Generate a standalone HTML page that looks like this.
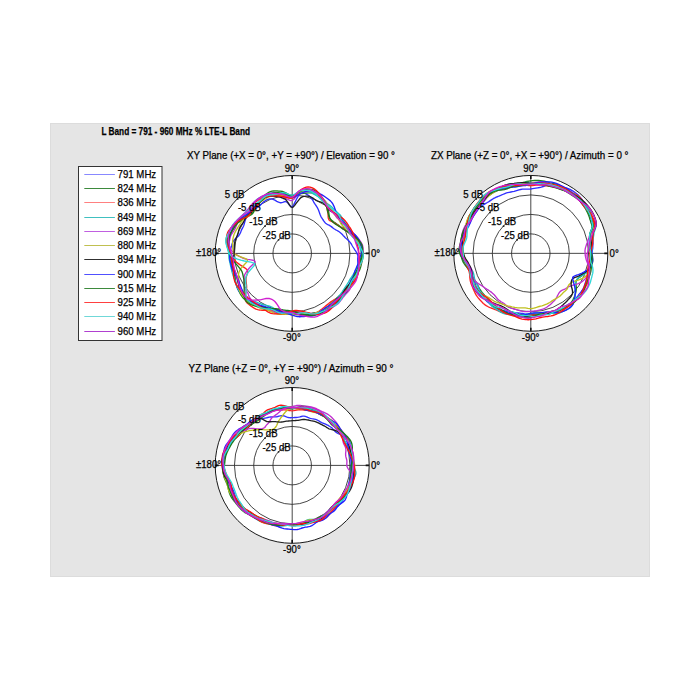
<!DOCTYPE html><html><head><meta charset="utf-8"><style>html,body{margin:0;padding:0;background:#fff;width:700px;height:700px;overflow:hidden;position:relative}</style></head><body><svg width="700" height="700" viewBox="0 0 700 700" style="position:absolute;left:0;top:0">
<rect x="50" y="123" width="600" height="454" fill="#e5e5e5"/>
<rect x="50.5" y="123.5" width="599" height="453" fill="none" stroke="#dcdcdc" stroke-width="1"/>
<text x="101.4" y="135.2" font-family='"Liberation Sans", Arial, sans-serif' font-weight="bold" font-size="10.0" textLength="148.6" lengthAdjust="spacingAndGlyphs" fill="#000" stroke="#000" stroke-width="0.25">L Band = 791 - 960 MHz % LTE-L Band</text>
<rect x="78.5" y="166.5" width="83.5" height="174" fill="#fff" stroke="#333" stroke-width="1"/>
<line x1="84.3" y1="174.50" x2="114.9" y2="174.50" stroke="#8888ff" stroke-width="1"/>
<text x="117.6" y="177.90" font-family='"Liberation Sans", Arial, sans-serif' font-size="10.6" textLength="38.6" lengthAdjust="spacingAndGlyphs" fill="#000" stroke="#000" stroke-width="0.25">791 MHz</text>
<line x1="84.3" y1="188.50" x2="114.9" y2="188.50" stroke="#3d8a3d" stroke-width="1"/>
<text x="117.6" y="192.15" font-family='"Liberation Sans", Arial, sans-serif' font-size="10.6" textLength="38.6" lengthAdjust="spacingAndGlyphs" fill="#000" stroke="#000" stroke-width="0.25">824 MHz</text>
<line x1="84.3" y1="202.50" x2="114.9" y2="202.50" stroke="#ff8080" stroke-width="1"/>
<text x="117.6" y="206.40" font-family='"Liberation Sans", Arial, sans-serif' font-size="10.6" textLength="38.6" lengthAdjust="spacingAndGlyphs" fill="#000" stroke="#000" stroke-width="0.25">836 MHz</text>
<line x1="84.3" y1="217.50" x2="114.9" y2="217.50" stroke="#40c0c0" stroke-width="1"/>
<text x="117.6" y="220.65" font-family='"Liberation Sans", Arial, sans-serif' font-size="10.6" textLength="38.6" lengthAdjust="spacingAndGlyphs" fill="#000" stroke="#000" stroke-width="0.25">849 MHz</text>
<line x1="84.3" y1="231.50" x2="114.9" y2="231.50" stroke="#c060e0" stroke-width="1"/>
<text x="117.6" y="234.90" font-family='"Liberation Sans", Arial, sans-serif' font-size="10.6" textLength="38.6" lengthAdjust="spacingAndGlyphs" fill="#000" stroke="#000" stroke-width="0.25">869 MHz</text>
<line x1="84.3" y1="245.50" x2="114.9" y2="245.50" stroke="#c0c050" stroke-width="1"/>
<text x="117.6" y="249.15" font-family='"Liberation Sans", Arial, sans-serif' font-size="10.6" textLength="38.6" lengthAdjust="spacingAndGlyphs" fill="#000" stroke="#000" stroke-width="0.25">880 MHz</text>
<line x1="84.3" y1="259.50" x2="114.9" y2="259.50" stroke="#303030" stroke-width="1"/>
<text x="117.6" y="263.40" font-family='"Liberation Sans", Arial, sans-serif' font-size="10.6" textLength="38.6" lengthAdjust="spacingAndGlyphs" fill="#000" stroke="#000" stroke-width="0.25">894 MHz</text>
<line x1="84.3" y1="274.50" x2="114.9" y2="274.50" stroke="#5050ff" stroke-width="1"/>
<text x="117.6" y="277.65" font-family='"Liberation Sans", Arial, sans-serif' font-size="10.6" textLength="38.6" lengthAdjust="spacingAndGlyphs" fill="#000" stroke="#000" stroke-width="0.25">900 MHz</text>
<line x1="84.3" y1="288.50" x2="114.9" y2="288.50" stroke="#3d8a3d" stroke-width="1"/>
<text x="117.6" y="291.90" font-family='"Liberation Sans", Arial, sans-serif' font-size="10.6" textLength="38.6" lengthAdjust="spacingAndGlyphs" fill="#000" stroke="#000" stroke-width="0.25">915 MHz</text>
<line x1="84.3" y1="302.50" x2="114.9" y2="302.50" stroke="#ff4040" stroke-width="1"/>
<text x="117.6" y="306.15" font-family='"Liberation Sans", Arial, sans-serif' font-size="10.6" textLength="38.6" lengthAdjust="spacingAndGlyphs" fill="#000" stroke="#000" stroke-width="0.25">925 MHz</text>
<line x1="84.3" y1="316.50" x2="114.9" y2="316.50" stroke="#70d8d8" stroke-width="1"/>
<text x="117.6" y="320.40" font-family='"Liberation Sans", Arial, sans-serif' font-size="10.6" textLength="38.6" lengthAdjust="spacingAndGlyphs" fill="#000" stroke="#000" stroke-width="0.25">940 MHz</text>
<line x1="84.3" y1="331.50" x2="114.9" y2="331.50" stroke="#b040d0" stroke-width="1"/>
<text x="117.6" y="334.65" font-family='"Liberation Sans", Arial, sans-serif' font-size="10.6" textLength="38.6" lengthAdjust="spacingAndGlyphs" fill="#000" stroke="#000" stroke-width="0.25">960 MHz</text>
<ellipse cx="292.2" cy="253.4" rx="77.0" ry="77.9" fill="#fff"/>
<ellipse cx="292.2" cy="253.4" rx="19.25" ry="19.48" fill="none" stroke="#262626" stroke-width="0.85"/>
<ellipse cx="292.2" cy="253.4" rx="38.50" ry="38.95" fill="none" stroke="#262626" stroke-width="0.85"/>
<ellipse cx="292.2" cy="253.4" rx="57.75" ry="58.43" fill="none" stroke="#262626" stroke-width="0.85"/>
<line x1="215.2" y1="253.4" x2="369.2" y2="253.4" stroke="#262626" stroke-width="0.85"/>
<line x1="292.2" y1="175.5" x2="292.2" y2="331.3" stroke="#262626" stroke-width="0.85"/>
<path d="M357.0,253.4 L356.1,251.7 L355.0,250.1 L354.0,248.5 L353.0,247.0 L352.1,245.5 L351.3,244.0 L350.3,242.6 L349.2,241.3 L347.9,240.0 L346.5,238.8 L345.3,237.7 L344.2,236.5 L343.1,235.4 L342.1,234.2 L341.0,233.2 L339.8,232.2 L338.5,231.3 L337.1,230.5 L335.7,229.8 L334.4,229.0 L333.3,228.2 L332.3,227.4 L331.3,226.6 L330.1,225.8 L329.0,225.2 L327.8,224.6 L326.7,224.0 L325.7,223.2 L324.9,222.4 L324.1,221.5 L323.5,220.5 L322.8,219.5 L322.1,218.4 L321.4,217.4 L320.8,216.2 L320.2,214.8 L319.7,213.4 L319.2,211.9 L318.6,210.3 L317.9,208.8 L317.2,207.4 L316.3,206.0 L315.4,204.7 L314.5,203.3 L313.6,201.8 L312.7,200.1 L311.6,198.5 L310.5,197.1 L309.2,195.9 L307.9,195.0 L306.4,194.1 L305.0,193.2 L303.4,192.7 L301.8,192.9 L300.0,193.9 L298.2,196.1 L296.5,199.2 L294.9,202.4 L293.5,205.1 L292.2,206.6 L291.0,206.5 L289.7,205.3 L288.3,203.5 L286.8,202.1 L285.4,201.5 L284.0,201.8 L282.7,202.3 L281.4,202.7 L280.0,202.7 L278.5,202.2 L276.8,201.3 L274.9,200.2 L273.1,199.4 L271.3,198.8 L269.6,198.9 L268.1,199.4 L266.7,199.9 L265.3,200.7 L264.0,201.6 L262.9,202.6 L261.7,203.7 L260.7,204.8 L259.5,205.9 L258.3,206.8 L257.0,207.6 L255.7,208.3 L254.4,209.1 L253.2,210.1 L252.1,211.1 L251.0,212.2 L250.0,213.4 L249.0,214.5 L247.9,215.6 L247.0,216.8 L246.1,218.1 L245.5,219.5 L245.0,221.0 L244.6,222.5 L244.2,224.0 L243.8,225.4 L243.2,226.8 L242.5,228.1 L241.8,229.4 L241.2,230.7 L240.7,232.1 L240.1,233.4 L239.4,234.7 L238.5,236.0 L237.3,237.1 L236.0,238.3 L234.6,239.6 L233.5,240.9 L232.7,242.4 L232.1,243.9 L231.7,245.4 L231.2,247.0 L230.8,248.6 L230.3,250.2 L230.0,251.8 L230.0,253.4 L230.3,255.0 L230.9,256.6 L231.5,258.2 L232.1,259.7 L232.4,261.3 L232.5,262.9 L232.6,264.5 L232.6,266.1 L232.9,267.6 L233.3,269.2 L233.8,270.7 L234.3,272.2 L234.6,273.8 L234.9,275.4 L235.0,277.1 L235.2,278.8 L235.4,280.5 L235.7,282.2 L236.1,283.9 L236.5,285.6 L237.0,287.2 L237.6,288.9 L238.4,290.4 L239.3,291.8 L240.4,293.1 L241.6,294.4 L242.8,295.6 L244.0,296.8 L245.0,298.2 L246.1,299.5 L247.2,300.8 L248.6,301.9 L250.1,302.7 L251.9,303.2 L253.7,303.5 L255.6,303.8 L257.3,304.2 L258.8,304.9 L260.2,305.6 L261.6,306.4 L263.1,307.1 L264.6,307.6 L266.1,308.0 L267.7,308.4 L269.3,308.8 L270.7,309.3 L272.1,310.0 L273.5,310.8 L274.9,311.7 L276.4,312.4 L277.9,312.9 L279.5,313.2 L281.1,313.3 L282.7,313.3 L284.3,313.3 L285.9,313.3 L287.5,313.4 L289.1,313.5 L290.6,313.6 L292.2,313.6 L293.8,313.6 L295.3,313.5 L296.9,313.3 L298.5,313.1 L300.0,312.9 L301.6,312.9 L303.2,312.9 L304.9,313.2 L306.6,313.6 L308.4,314.0 L310.2,314.3 L312.1,314.5 L313.8,314.5 L315.6,314.4 L317.3,314.0 L319.0,313.6 L320.7,313.1 L322.3,312.5 L324.0,311.9 L325.6,311.2 L327.2,310.5 L328.8,309.7 L330.3,308.8 L331.7,307.8 L333.1,306.8 L334.5,305.6 L335.7,304.4 L336.9,303.1 L338.1,301.7 L339.2,300.4 L340.4,299.1 L341.5,297.8 L342.6,296.4 L343.6,295.0 L344.5,293.5 L345.3,292.0 L346.1,290.4 L346.8,288.9 L347.6,287.3 L348.3,285.8 L349.0,284.3 L349.8,282.7 L350.4,281.2 L351.1,279.6 L351.9,278.1 L352.7,276.6 L353.7,275.2 L354.6,273.7 L355.8,272.2 L356.7,270.7 L357.4,269.0 L357.9,267.4 L358.2,265.6 L358.1,263.8 L357.8,262.0 L357.7,260.3 L357.7,258.6 L357.9,256.8 L357.8,255.1Z" fill="none" stroke="#3030ff" stroke-width="1.35" stroke-linejoin="round"/>
<path d="M363.3,253.4 L362.9,251.5 L362.2,249.7 L361.2,248.0 L360.1,246.3 L358.9,244.6 L357.8,243.0 L356.8,241.4 L355.8,239.9 L354.9,238.4 L353.9,236.9 L352.7,235.5 L351.3,234.2 L349.8,233.0 L348.1,231.9 L346.5,230.9 L344.8,230.0 L343.3,229.0 L342.0,228.0 L340.8,227.0 L339.5,226.1 L338.3,225.1 L337.1,224.2 L335.9,223.4 L334.7,222.5 L333.5,221.7 L332.4,220.9 L331.3,220.0 L330.4,219.0 L329.7,217.8 L329.3,216.3 L329.0,214.6 L328.8,212.7 L328.4,211.0 L328.1,209.1 L327.7,207.1 L327.3,205.1 L326.6,203.3 L325.6,202.0 L324.4,200.8 L323.2,199.8 L321.9,198.8 L320.5,197.8 L319.2,196.7 L317.9,195.7 L316.5,194.8 L315.0,193.9 L313.5,193.2 L311.9,192.9 L310.1,192.8 L308.4,192.9 L306.7,193.0 L305.0,193.2 L303.3,193.3 L301.7,193.5 L300.1,193.7 L298.4,194.2 L296.8,195.0 L295.2,195.9 L293.7,196.5 L292.2,196.5 L290.7,195.8 L289.1,194.9 L287.5,193.9 L285.8,192.9 L284.1,192.1 L282.4,191.5 L280.7,191.2 L278.9,191.1 L277.2,190.9 L275.5,190.9 L273.7,191.0 L272.0,191.2 L270.3,191.6 L268.8,192.3 L267.3,193.3 L265.9,194.4 L264.7,195.8 L263.6,197.2 L262.5,198.7 L261.4,200.1 L260.3,201.4 L259.2,202.6 L258.1,203.7 L257.0,204.9 L256.1,206.3 L255.3,207.9 L254.7,209.5 L254.1,211.1 L253.4,212.5 L252.5,213.7 L251.3,214.6 L250.0,215.4 L248.6,216.1 L247.1,216.9 L245.7,217.7 L244.3,218.6 L242.9,219.5 L241.5,220.5 L240.0,221.4 L238.4,222.3 L236.9,223.4 L235.6,224.6 L234.6,225.9 L233.8,227.4 L233.1,228.9 L232.3,230.4 L231.4,231.9 L230.4,233.3 L229.3,234.8 L228.4,236.3 L227.7,237.9 L227.4,239.6 L227.4,241.4 L227.7,243.2 L228.2,245.0 L228.6,246.7 L229.0,248.4 L229.4,250.1 L229.7,251.8 L230.0,253.4 L230.4,255.0 L230.6,256.6 L230.9,258.2 L231.0,259.8 L231.0,261.5 L231.0,263.1 L231.1,264.7 L231.4,266.3 L231.9,267.9 L232.5,269.4 L233.2,270.9 L233.8,272.4 L234.3,273.9 L234.7,275.5 L234.9,277.1 L235.1,278.8 L235.3,280.6 L235.6,282.3 L236.0,283.9 L236.6,285.5 L237.2,287.1 L237.9,288.6 L238.7,290.2 L239.4,291.8 L240.1,293.4 L240.9,294.9 L241.9,296.4 L243.0,297.7 L244.2,298.9 L245.7,299.9 L247.2,300.8 L248.8,301.7 L250.4,302.4 L252.0,303.1 L253.6,303.7 L255.2,304.3 L256.8,304.9 L258.4,305.5 L260.0,306.0 L261.5,306.5 L263.1,307.0 L264.6,307.5 L266.2,307.9 L267.8,308.3 L269.3,308.6 L270.9,308.9 L272.4,309.3 L273.9,309.8 L275.3,310.5 L276.7,311.3 L278.1,312.2 L279.5,313.0 L281.0,313.6 L282.6,313.9 L284.2,314.0 L285.8,313.8 L287.5,313.7 L289.0,313.6 L290.6,313.6 L292.2,313.8 L293.8,314.0 L295.4,314.3 L297.0,314.5 L298.6,314.6 L300.3,314.6 L301.9,314.6 L303.5,314.6 L305.2,314.5 L306.8,314.3 L308.4,314.0 L310.1,313.7 L311.7,313.4 L313.3,313.0 L315.0,312.7 L316.7,312.5 L318.4,312.1 L320.0,311.7 L321.6,311.0 L323.0,310.2 L324.4,309.2 L325.7,308.1 L327.0,307.0 L328.3,306.0 L329.6,304.9 L330.9,303.9 L332.1,302.7 L333.3,301.5 L334.4,300.3 L335.6,299.1 L336.8,298.0 L338.1,296.9 L339.4,295.9 L340.7,294.9 L342.0,293.7 L343.1,292.4 L344.0,291.0 L344.9,289.6 L345.8,288.2 L346.9,286.9 L348.1,285.7 L349.4,284.5 L350.7,283.2 L352.0,281.9 L353.1,280.5 L354.1,279.0 L355.1,277.5 L356.0,276.0 L357.0,274.5 L358.0,272.9 L358.9,271.3 L359.8,269.6 L360.4,267.9 L360.9,266.1 L361.3,264.3 L361.7,262.6 L362.2,260.8 L362.6,258.9 L363.0,257.1 L363.3,255.3Z" fill="none" stroke="#208020" stroke-width="1.35" stroke-linejoin="round"/>
<path d="M361.4,253.4 L361.3,251.6 L361.2,249.8 L361.1,248.0 L361.0,246.2 L360.8,244.4 L360.1,242.6 L359.0,241.0 L357.5,239.5 L355.6,238.2 L353.6,236.9 L352.0,235.7 L350.5,234.5 L349.2,233.2 L347.9,232.0 L346.6,230.9 L345.1,229.8 L343.7,228.9 L342.2,227.9 L340.7,227.0 L339.3,226.2 L338.0,225.3 L336.8,224.5 L335.5,223.6 L334.3,222.8 L332.9,222.1 L331.6,221.5 L330.3,220.9 L329.2,220.1 L328.5,219.0 L328.2,217.4 L328.1,215.5 L328.1,213.5 L327.7,211.8 L327.3,210.0 L326.9,208.2 L326.4,206.3 L325.8,204.5 L324.9,203.0 L324.0,201.5 L323.0,200.1 L321.9,198.7 L320.7,197.4 L319.5,196.2 L318.2,195.0 L316.8,193.9 L315.4,192.8 L313.9,192.0 L312.3,191.4 L310.7,191.0 L309.0,190.9 L307.2,190.9 L305.4,191.2 L303.7,191.6 L301.9,192.1 L300.2,192.7 L298.5,193.6 L296.8,194.9 L295.2,196.4 L293.7,197.7 L292.2,198.4 L290.8,198.4 L289.3,198.1 L287.8,197.5 L286.2,196.7 L284.6,195.8 L283.0,195.1 L281.3,194.7 L279.7,194.5 L278.0,194.3 L276.3,194.2 L274.6,194.1 L272.9,194.0 L271.2,194.0 L269.4,194.1 L267.7,194.3 L266.1,194.7 L264.5,195.3 L263.1,196.2 L261.7,197.2 L260.4,198.3 L259.1,199.4 L257.8,200.4 L256.4,201.4 L255.1,202.3 L253.9,203.5 L252.9,204.8 L251.9,206.3 L251.1,207.7 L250.2,209.1 L249.2,210.4 L248.0,211.5 L246.7,212.4 L245.3,213.4 L244.0,214.3 L242.7,215.4 L241.6,216.6 L240.6,217.9 L239.7,219.3 L238.8,220.7 L237.8,222.0 L236.7,223.3 L235.7,224.6 L234.6,225.9 L233.7,227.4 L232.9,228.8 L232.2,230.4 L231.6,231.9 L230.9,233.5 L230.4,235.1 L229.9,236.7 L229.5,238.3 L229.2,240.0 L229.1,241.7 L229.1,243.4 L229.1,245.1 L229.3,246.8 L229.4,248.5 L229.6,250.1 L229.9,251.8 L230.2,253.4 L230.9,255.0 L231.7,256.6 L232.8,258.1 L234.3,259.5 L235.3,260.9 L236.6,262.2 L238.1,263.4 L239.7,264.6 L241.3,265.6 L242.9,266.6 L244.4,267.6 L245.7,268.5 L246.8,269.5 L247.6,270.5 L247.7,271.8 L247.4,273.4 L246.8,275.0 L246.3,276.8 L246.0,278.5 L246.0,280.1 L246.1,281.6 L246.3,283.2 L246.5,284.8 L246.6,286.5 L246.6,288.4 L246.2,290.6 L245.7,293.1 L245.3,295.6 L245.1,298.1 L245.4,300.2 L246.2,301.9 L247.4,303.2 L248.7,304.3 L250.1,305.4 L251.5,306.4 L253.0,307.4 L254.5,308.3 L256.0,309.1 L257.7,309.7 L259.5,310.0 L261.4,310.2 L263.2,310.2 L265.1,310.3 L266.8,310.4 L268.5,310.6 L270.2,310.8 L271.8,310.9 L273.5,310.9 L275.2,310.9 L276.8,310.8 L278.4,310.9 L280.0,311.0 L281.5,311.2 L283.0,311.4 L284.5,311.6 L286.1,311.7 L287.6,311.8 L289.1,311.9 L290.7,312.0 L292.2,312.2 L293.8,312.7 L295.3,313.2 L296.9,313.7 L298.6,314.2 L300.2,314.5 L301.9,314.7 L303.5,314.6 L305.2,314.5 L306.9,314.4 L308.5,314.4 L310.2,314.3 L311.9,314.1 L313.6,313.8 L315.2,313.3 L316.7,312.7 L318.2,311.8 L319.6,310.8 L320.9,309.8 L322.3,308.8 L323.6,307.7 L324.8,306.7 L326.1,305.6 L327.4,304.6 L328.7,303.6 L329.9,302.6 L331.2,301.6 L332.6,300.7 L334.0,299.8 L335.5,299.0 L337.0,298.2 L338.5,297.3 L340.0,296.4 L341.5,295.5 L342.9,294.5 L344.3,293.4 L345.7,292.3 L347.0,291.1 L348.3,289.8 L349.5,288.5 L350.6,287.1 L351.6,285.7 L352.6,284.2 L353.5,282.6 L354.4,281.1 L355.4,279.6 L356.3,278.0 L357.1,276.4 L357.7,274.7 L358.2,272.9 L358.5,271.2 L358.6,269.4 L358.8,267.6 L359.1,265.8 L359.6,264.1 L360.2,262.4 L360.8,260.6 L361.3,258.8 L361.5,257.0 L361.6,255.2Z" fill="none" stroke="#ff2020" stroke-width="1.35" stroke-linejoin="round"/>
<path d="M361.3,253.4 L361.0,251.6 L360.5,249.8 L360.0,248.1 L359.6,246.3 L359.3,244.6 L358.9,242.8 L358.4,241.1 L357.6,239.5 L356.5,238.0 L355.2,236.5 L353.9,235.1 L352.7,233.7 L351.7,232.3 L350.9,230.9 L350.1,229.4 L349.3,228.0 L348.4,226.6 L347.4,225.3 L346.2,224.1 L345.2,222.8 L344.2,221.5 L343.4,220.2 L342.6,218.8 L341.8,217.4 L340.9,216.0 L339.9,214.8 L338.7,213.7 L337.5,212.6 L336.3,211.6 L335.1,210.5 L334.0,209.4 L332.9,208.2 L331.8,207.1 L330.6,206.0 L329.4,205.0 L328.0,204.1 L326.7,203.2 L325.4,202.3 L324.1,201.4 L322.9,200.3 L321.6,199.2 L320.4,198.1 L319.0,197.2 L317.6,196.3 L316.2,195.5 L314.8,194.6 L313.3,193.8 L311.8,193.0 L310.3,192.3 L308.7,191.8 L307.0,191.6 L305.3,191.8 L303.6,192.1 L301.8,192.6 L300.1,193.1 L298.5,193.8 L296.8,194.7 L295.2,195.8 L293.7,196.6 L292.2,197.0 L290.7,196.9 L289.2,196.7 L287.7,196.2 L286.1,195.6 L284.5,194.8 L282.8,194.1 L281.1,193.5 L279.4,193.1 L277.6,192.7 L275.9,192.6 L274.2,192.6 L272.5,192.9 L270.9,193.2 L269.3,193.7 L267.7,194.2 L266.1,194.7 L264.5,195.3 L262.9,196.0 L261.4,196.7 L259.9,197.5 L258.5,198.4 L257.1,199.4 L255.8,200.4 L254.5,201.6 L253.5,202.9 L252.5,204.4 L251.6,205.9 L250.8,207.4 L249.8,208.8 L248.8,210.0 L247.6,211.1 L246.3,212.1 L245.0,213.1 L243.7,214.2 L242.5,215.3 L241.4,216.5 L240.4,217.8 L239.3,219.1 L238.2,220.3 L236.9,221.5 L235.6,222.7 L234.2,223.9 L232.9,225.1 L231.8,226.5 L230.9,228.0 L230.1,229.6 L229.3,231.1 L228.6,232.7 L227.8,234.3 L227.1,236.0 L226.5,237.6 L226.1,239.3 L226.0,241.1 L226.1,242.9 L226.6,244.8 L227.1,246.6 L227.7,248.3 L228.1,250.0 L228.5,251.7 L228.7,253.4 L228.8,255.1 L228.9,256.7 L229.0,258.4 L229.3,260.0 L229.7,261.6 L230.0,263.2 L230.4,264.9 L230.8,266.5 L231.1,268.1 L231.5,269.7 L231.8,271.3 L232.3,272.9 L232.8,274.4 L233.3,276.0 L233.9,277.5 L234.5,279.1 L235.0,280.7 L235.5,282.3 L236.0,283.9 L236.6,285.5 L237.2,287.1 L237.9,288.6 L238.8,290.1 L239.8,291.5 L240.8,292.8 L241.9,294.1 L243.1,295.4 L244.3,296.5 L245.6,297.6 L247.0,298.6 L248.5,299.4 L250.1,300.1 L251.8,300.7 L253.5,301.2 L255.1,301.7 L256.7,302.2 L258.2,302.8 L259.7,303.4 L261.2,304.0 L262.7,304.5 L264.2,304.9 L265.8,305.2 L267.3,305.6 L268.8,306.0 L270.2,306.4 L271.6,307.0 L273.0,307.7 L274.3,308.5 L275.6,309.3 L277.0,310.0 L278.4,310.7 L279.9,311.3 L281.4,311.8 L282.9,312.2 L284.4,312.6 L285.9,312.9 L287.5,313.2 L289.1,313.4 L290.6,313.6 L292.2,313.8 L293.8,314.0 L295.4,314.2 L297.0,314.4 L298.6,314.5 L300.2,314.5 L301.9,314.4 L303.5,314.3 L305.1,314.2 L306.8,314.2 L308.5,314.1 L310.2,314.1 L311.9,314.1 L313.7,314.0 L315.4,313.7 L317.0,313.3 L318.6,312.7 L320.1,312.0 L321.7,311.2 L323.1,310.4 L324.6,309.5 L326.1,308.7 L327.5,307.8 L328.9,306.8 L330.2,305.7 L331.4,304.5 L332.5,303.2 L333.7,302.0 L334.8,300.7 L335.9,299.5 L337.0,298.2 L338.2,297.0 L339.3,295.8 L340.3,294.5 L341.3,293.1 L342.2,291.8 L343.1,290.4 L344.0,289.0 L344.9,287.6 L345.8,286.3 L346.8,284.9 L347.6,283.5 L348.5,282.1 L349.3,280.6 L350.1,279.2 L351.0,277.8 L352.0,276.4 L353.0,274.9 L354.0,273.5 L354.8,272.0 L355.6,270.4 L356.2,268.8 L356.8,267.1 L357.4,265.5 L358.1,263.8 L358.9,262.2 L359.8,260.5 L360.6,258.8 L361.2,257.0 L361.4,255.2Z" fill="none" stroke="#20c0c0" stroke-width="1.35" stroke-linejoin="round"/>
<path d="M362.8,253.4 L363.0,251.5 L363.1,249.7 L363.0,247.8 L362.7,246.0 L362.1,244.2 L361.2,242.5 L360.1,240.8 L358.9,239.2 L357.6,237.7 L356.3,236.2 L355.0,234.8 L353.6,233.4 L352.3,232.1 L350.9,230.9 L349.5,229.7 L348.1,228.5 L346.9,227.3 L345.8,226.1 L344.8,224.8 L343.8,223.6 L342.8,222.4 L341.6,221.3 L340.3,220.4 L338.9,219.4 L337.7,218.5 L336.6,217.4 L335.7,216.2 L334.9,214.9 L334.1,213.6 L333.3,212.3 L332.4,211.0 L331.5,209.8 L330.5,208.5 L329.5,207.3 L328.6,206.0 L327.7,204.6 L326.7,203.2 L325.7,201.8 L324.6,200.5 L323.5,199.2 L322.3,197.9 L321.1,196.6 L319.9,195.3 L318.6,194.1 L317.2,193.0 L315.7,192.1 L314.1,191.4 L312.4,191.1 L310.7,191.1 L308.9,191.2 L307.1,191.5 L305.3,191.8 L303.6,192.1 L301.8,192.6 L300.1,193.2 L298.4,194.3 L296.7,195.9 L295.1,197.8 L293.6,199.5 L292.2,200.4 L290.8,200.6 L289.4,200.2 L288.0,199.5 L286.4,198.7 L284.9,197.9 L283.3,197.3 L281.7,197.0 L280.2,196.8 L278.6,196.6 L276.9,196.3 L275.2,196.0 L273.5,195.8 L271.7,195.6 L270.0,195.5 L268.2,195.6 L266.5,195.8 L264.9,196.1 L263.3,196.6 L261.7,197.2 L260.2,198.0 L258.7,198.8 L257.3,199.7 L255.9,200.7 L254.6,201.7 L253.4,202.8 L252.2,204.0 L251.1,205.3 L250.0,206.6 L249.0,207.9 L248.0,209.2 L246.9,210.4 L245.8,211.7 L244.7,212.9 L243.6,214.0 L242.4,215.2 L241.2,216.4 L240.1,217.6 L239.2,219.0 L238.4,220.4 L237.7,221.9 L237.1,223.5 L236.6,225.1 L236.0,226.6 L235.4,228.1 L234.6,229.5 L233.7,231.0 L232.8,232.4 L231.8,233.8 L231.0,235.3 L230.3,236.8 L229.9,238.4 L229.6,240.1 L229.3,241.7 L229.2,243.4 L229.3,245.1 L229.7,246.8 L230.4,248.5 L231.3,250.2 L232.5,251.8 L234.4,253.4 L236.6,254.9 L238.9,256.2 L241.3,257.4 L244.0,258.5 L247.5,259.3 L251.0,259.9 L253.8,260.5 L255.1,261.3 L254.9,262.4 L253.6,263.7 L251.8,265.4 L250.1,267.1 L248.7,268.8 L247.2,270.7 L245.9,272.6 L244.8,274.5 L244.2,276.3 L244.1,277.9 L244.2,279.5 L244.2,281.1 L244.2,282.8 L244.2,284.6 L244.3,286.3 L244.8,287.8 L245.5,289.2 L246.3,290.6 L247.1,291.9 L248.0,293.2 L248.5,294.8 L249.1,296.5 L249.9,298.0 L250.9,299.3 L252.0,300.5 L253.3,301.4 L254.7,302.3 L256.1,303.0 L257.6,303.8 L258.9,304.7 L260.2,305.7 L261.5,306.7 L262.8,307.6 L264.2,308.4 L265.6,309.1 L267.1,309.7 L268.6,310.4 L270.1,311.0 L271.6,311.6 L273.1,312.2 L274.7,312.6 L276.2,313.0 L277.9,313.2 L279.5,313.2 L281.1,313.1 L282.8,313.0 L284.4,312.9 L286.0,312.8 L287.5,312.8 L289.1,312.9 L290.6,312.9 L292.2,312.9 L293.8,312.8 L295.3,312.7 L296.9,312.6 L298.4,312.4 L300.0,312.3 L301.5,312.2 L303.1,312.3 L304.8,312.5 L306.5,312.8 L308.2,313.1 L310.0,313.4 L311.7,313.5 L313.5,313.4 L315.1,313.2 L316.8,312.7 L318.4,312.1 L320.0,311.6 L321.6,311.1 L323.3,310.7 L325.0,310.2 L326.7,309.7 L328.4,309.2 L330.1,308.5 L331.7,307.7 L333.2,306.9 L334.8,306.0 L336.2,305.0 L337.7,303.9 L339.0,302.7 L340.1,301.3 L341.2,299.9 L342.3,298.5 L343.3,297.0 L344.4,295.7 L345.6,294.4 L346.8,293.1 L348.0,291.8 L349.2,290.4 L350.1,288.9 L350.9,287.3 L351.6,285.7 L352.3,284.0 L353.0,282.4 L353.7,280.8 L354.5,279.2 L355.3,277.6 L355.9,276.0 L356.6,274.3 L357.1,272.6 L357.7,270.9 L358.3,269.3 L359.1,267.6 L359.8,265.9 L360.6,264.2 L361.3,262.5 L361.8,260.7 L362.2,258.9 L362.4,257.1 L362.6,255.2Z" fill="none" stroke="#c030d0" stroke-width="1.35" stroke-linejoin="round"/>
<path d="M362.5,253.4 L362.2,251.6 L361.8,249.8 L361.3,248.0 L360.7,246.2 L359.9,244.5 L359.0,242.8 L357.9,241.2 L356.6,239.7 L355.1,238.3 L353.5,237.0 L352.1,235.7 L350.8,234.4 L349.8,233.0 L348.9,231.7 L347.9,230.3 L346.8,229.1 L345.5,228.0 L344.2,226.9 L342.9,225.9 L341.7,224.8 L340.9,223.6 L340.2,222.3 L339.5,220.9 L338.8,219.5 L338.0,218.2 L337.1,217.0 L336.1,215.9 L335.0,214.9 L334.0,213.7 L333.1,212.5 L332.2,211.2 L331.4,209.9 L330.5,208.5 L329.6,207.3 L328.6,206.0 L327.5,204.8 L326.5,203.5 L325.5,202.1 L324.5,200.6 L323.5,199.1 L322.4,197.7 L321.2,196.4 L319.9,195.2 L318.5,194.2 L317.1,193.3 L315.6,192.3 L314.1,191.5 L312.6,190.8 L310.9,190.3 L309.2,190.0 L307.4,190.1 L305.6,190.4 L303.8,190.8 L302.0,191.4 L300.3,192.0 L298.6,192.9 L296.9,194.2 L295.2,195.8 L293.7,197.2 L292.2,197.9 L290.8,198.1 L289.3,198.0 L287.8,197.7 L286.3,197.2 L284.7,196.6 L283.1,196.1 L281.5,195.7 L279.9,195.5 L278.3,195.4 L276.6,195.4 L275.0,195.4 L273.4,195.6 L271.8,195.9 L270.3,196.4 L268.9,197.0 L267.4,197.7 L266.0,198.5 L264.6,199.2 L263.2,200.1 L261.9,200.9 L260.6,201.9 L259.5,203.0 L258.3,204.1 L257.2,205.2 L256.1,206.4 L255.1,207.5 L254.0,208.7 L253.1,210.0 L252.2,211.3 L251.4,212.6 L250.5,213.9 L249.6,215.0 L248.5,216.1 L247.3,217.0 L245.9,217.9 L244.6,218.8 L243.3,219.8 L242.2,220.9 L241.2,222.2 L240.4,223.5 L239.6,224.8 L238.7,226.2 L237.9,227.5 L237.0,228.8 L236.2,230.2 L235.4,231.6 L234.7,233.0 L234.0,234.5 L233.6,236.0 L233.2,237.6 L232.9,239.2 L232.7,240.8 L232.6,242.4 L232.6,244.0 L232.6,245.6 L232.7,247.1 L232.8,248.7 L233.1,250.3 L233.5,251.9 L234.1,253.4 L236.2,254.9 L239.0,256.2 L242.1,257.3 L244.9,258.4 L246.8,259.4 L247.5,260.5 L246.9,261.8 L245.6,263.3 L244.0,265.0 L242.4,266.8 L240.8,268.6 L239.7,270.5 L239.0,272.2 L238.6,274.0 L238.5,275.7 L238.6,277.3 L238.8,278.9 L238.9,280.6 L238.9,282.3 L238.9,284.2 L238.9,286.1 L239.0,288.0 L239.4,289.7 L240.0,291.3 L240.7,292.9 L241.7,294.3 L242.7,295.7 L243.8,297.0 L244.9,298.3 L246.0,299.6 L247.1,300.9 L248.3,302.1 L249.7,303.2 L251.1,304.1 L252.7,304.9 L254.3,305.6 L255.8,306.3 L257.4,307.0 L258.9,307.7 L260.5,308.3 L262.1,308.8 L263.7,309.3 L265.4,309.6 L267.0,310.0 L268.5,310.5 L270.0,311.1 L271.5,311.8 L273.0,312.5 L274.5,313.2 L276.0,313.7 L277.6,314.1 L279.3,314.3 L280.9,314.4 L282.5,314.4 L284.2,314.4 L285.8,314.4 L287.4,314.4 L289.0,314.4 L290.6,314.5 L292.2,314.5 L293.8,314.6 L295.4,314.6 L297.0,314.5 L298.6,314.3 L300.2,314.0 L301.7,313.7 L303.3,313.4 L304.9,313.2 L306.6,313.3 L308.3,313.4 L310.0,313.6 L311.8,313.6 L313.5,313.5 L315.1,313.1 L316.7,312.6 L318.3,311.9 L319.8,311.3 L321.4,310.7 L323.0,310.1 L324.5,309.3 L325.9,308.5 L327.3,307.5 L328.6,306.4 L330.0,305.4 L331.3,304.4 L332.8,303.5 L334.3,302.7 L335.9,301.9 L337.3,301.0 L338.7,299.9 L340.0,298.7 L341.2,297.5 L342.3,296.2 L343.5,295.0 L344.8,293.7 L346.0,292.5 L347.3,291.2 L348.4,289.9 L349.5,288.5 L350.5,287.1 L351.5,285.6 L352.4,284.1 L353.4,282.6 L354.3,281.0 L355.1,279.5 L355.9,277.8 L356.5,276.2 L357.1,274.5 L357.6,272.8 L358.1,271.1 L358.6,269.3 L359.2,267.6 L359.8,265.9 L360.4,264.2 L361.0,262.5 L361.6,260.7 L362.1,258.9 L362.4,257.1 L362.5,255.2Z" fill="none" stroke="#c0c020" stroke-width="1.35" stroke-linejoin="round"/>
<path d="M362.4,253.4 L362.4,251.6 L362.2,249.7 L361.9,247.9 L361.4,246.1 L360.8,244.4 L360.1,242.6 L359.1,241.0 L357.9,239.4 L356.5,238.0 L355.0,236.6 L353.6,235.2 L352.2,233.9 L351.0,232.6 L350.0,231.2 L349.1,229.8 L348.3,228.4 L347.4,227.1 L346.4,225.8 L345.4,224.5 L344.3,223.3 L343.2,222.2 L342.0,221.1 L340.9,219.9 L339.8,218.8 L338.8,217.6 L337.9,216.4 L336.8,215.3 L335.7,214.2 L334.5,213.3 L333.1,212.5 L331.8,211.7 L330.4,210.9 L329.2,210.0 L328.2,208.9 L327.3,207.7 L326.4,206.3 L325.5,205.0 L324.4,203.9 L323.1,203.0 L321.7,202.3 L320.2,201.8 L318.7,201.4 L317.3,200.8 L315.9,200.1 L314.6,199.3 L313.3,198.4 L312.0,197.5 L310.6,196.8 L309.1,196.3 L307.6,196.1 L306.0,196.1 L304.3,196.3 L302.7,196.7 L301.0,197.6 L299.3,199.3 L297.7,201.3 L296.1,203.4 L294.7,205.4 L293.4,206.8 L292.2,207.5 L291.0,207.0 L289.7,205.3 L288.2,202.9 L286.6,200.6 L285.1,199.1 L283.5,198.5 L281.9,197.8 L280.3,197.2 L278.6,196.8 L276.9,196.5 L275.3,196.3 L273.6,196.2 L271.9,196.1 L270.2,196.2 L268.6,196.4 L267.0,196.8 L265.5,197.4 L264.1,198.2 L262.8,199.2 L261.6,200.4 L260.4,201.5 L259.3,202.7 L258.1,203.8 L257.0,204.9 L255.8,206.0 L254.7,207.1 L253.6,208.3 L252.6,209.4 L251.6,210.6 L250.5,211.7 L249.5,212.9 L248.4,214.0 L247.4,215.2 L246.5,216.4 L245.7,217.8 L245.0,219.1 L244.3,220.5 L243.6,221.8 L242.8,223.1 L241.9,224.3 L241.0,225.6 L240.2,226.9 L239.5,228.3 L239.0,229.7 L238.6,231.2 L238.2,232.7 L237.8,234.1 L237.2,235.5 L236.6,236.9 L236.0,238.3 L235.5,239.8 L235.0,241.2 L234.7,242.7 L234.4,244.3 L234.3,245.8 L234.3,247.3 L234.3,248.8 L234.2,250.4 L234.2,251.9 L234.1,253.4 L233.9,254.9 L233.6,256.5 L233.2,258.0 L232.8,259.6 L232.5,261.3 L232.3,262.9 L232.3,264.5 L232.6,266.1 L233.1,267.6 L233.7,269.1 L234.5,270.5 L235.2,271.9 L235.8,273.4 L236.3,274.9 L236.7,276.4 L237.0,278.0 L237.3,279.6 L237.7,281.2 L238.1,282.8 L238.5,284.4 L239.0,286.0 L239.6,287.6 L240.2,289.1 L240.9,290.7 L241.7,292.2 L242.5,293.6 L243.5,295.0 L244.5,296.4 L245.5,297.7 L246.7,298.9 L247.9,300.1 L249.2,301.2 L250.6,302.1 L252.1,302.9 L253.6,303.6 L255.3,304.2 L256.9,304.8 L258.5,305.4 L260.0,305.9 L261.6,306.4 L263.1,306.9 L264.7,307.4 L266.2,307.9 L267.8,308.2 L269.4,308.4 L271.0,308.6 L272.6,308.8 L274.1,309.1 L275.6,309.5 L277.0,310.0 L278.5,310.5 L279.9,311.1 L281.4,311.5 L283.0,311.8 L284.5,311.9 L286.0,312.0 L287.6,312.1 L289.1,312.3 L290.7,312.5 L292.2,312.9 L293.8,313.4 L295.4,313.8 L297.0,314.1 L298.6,314.4 L300.3,314.6 L301.9,314.7 L303.6,314.8 L305.3,314.9 L307.0,315.1 L308.8,315.2 L310.5,315.3 L312.3,315.2 L314.0,315.0 L315.7,314.7 L317.4,314.1 L318.9,313.5 L320.5,312.7 L322.0,311.9 L323.5,311.1 L325.1,310.3 L326.6,309.5 L328.1,308.7 L329.5,307.7 L330.9,306.6 L332.0,305.3 L333.1,303.9 L334.1,302.5 L335.1,301.1 L336.2,299.8 L337.4,298.6 L338.7,297.5 L340.0,296.4 L341.2,295.2 L342.3,293.9 L343.2,292.5 L344.1,291.1 L345.0,289.7 L346.0,288.3 L347.0,287.0 L348.2,285.7 L349.3,284.4 L350.3,283.0 L351.2,281.5 L352.0,280.0 L352.8,278.5 L353.6,277.0 L354.4,275.4 L355.4,273.9 L356.4,272.4 L357.2,270.8 L358.0,269.2 L358.6,267.5 L359.1,265.8 L359.7,264.1 L360.2,262.4 L360.8,260.6 L361.3,258.8 L361.8,257.0 L362.2,255.2Z" fill="none" stroke="#202020" stroke-width="1.35" stroke-linejoin="round"/>
<path d="M361.4,253.4 L361.9,251.6 L362.1,249.7 L362.0,247.9 L361.6,246.1 L360.9,244.4 L360.1,242.6 L359.3,241.0 L358.5,239.3 L357.5,237.7 L356.3,236.2 L355.0,234.8 L353.5,233.5 L351.9,232.3 L350.4,231.1 L349.0,229.9 L347.8,228.6 L346.8,227.4 L345.9,226.1 L345.0,224.7 L344.2,223.4 L343.3,222.1 L342.4,220.8 L341.5,219.5 L340.5,218.3 L339.5,217.1 L338.6,215.8 L337.7,214.5 L336.9,213.2 L336.1,211.7 L335.4,210.2 L334.8,208.5 L334.2,206.8 L333.4,205.1 L332.6,203.5 L331.5,202.1 L330.4,200.9 L329.0,199.8 L327.7,198.8 L326.3,197.8 L324.9,196.8 L323.5,195.8 L322.0,194.9 L320.5,194.1 L318.9,193.4 L317.3,192.7 L315.7,192.1 L314.1,191.5 L312.4,191.1 L310.7,190.8 L309.0,190.8 L307.2,191.1 L305.3,191.7 L303.5,192.4 L301.7,193.1 L300.1,193.7 L298.4,194.5 L296.8,195.5 L295.2,196.5 L293.7,197.4 L292.2,197.7 L290.7,197.4 L289.2,196.8 L287.7,196.0 L286.1,195.0 L284.4,194.1 L282.7,193.3 L281.0,193.0 L279.3,192.9 L277.7,193.0 L276.0,193.1 L274.4,193.2 L272.7,193.3 L271.0,193.5 L269.3,193.9 L267.8,194.4 L266.3,195.3 L265.0,196.4 L263.8,197.6 L262.6,198.9 L261.4,200.1 L260.2,201.2 L259.0,202.2 L257.7,203.2 L256.5,204.2 L255.3,205.4 L254.3,206.6 L253.3,207.9 L252.3,209.1 L251.3,210.3 L250.2,211.4 L249.0,212.4 L247.8,213.4 L246.6,214.4 L245.3,215.4 L244.0,216.4 L242.6,217.4 L241.3,218.4 L239.9,219.5 L238.6,220.5 L237.3,221.7 L236.1,222.9 L235.0,224.3 L234.0,225.6 L233.1,227.1 L232.4,228.6 L231.8,230.2 L231.2,231.8 L230.7,233.4 L230.2,235.0 L229.6,236.6 L229.1,238.3 L228.6,239.9 L228.2,241.5 L228.1,243.3 L228.3,245.0 L228.6,246.7 L229.0,248.4 L229.5,250.1 L229.7,251.8 L229.8,253.4 L229.8,255.0 L229.7,256.7 L229.8,258.3 L229.9,259.9 L230.2,261.6 L230.6,263.2 L231.0,264.7 L231.4,266.3 L231.8,267.9 L232.3,269.4 L233.0,270.9 L233.7,272.4 L234.7,273.8 L235.6,275.1 L236.6,276.4 L237.4,277.8 L238.1,279.2 L238.7,280.7 L239.2,282.2 L239.6,283.7 L240.2,285.3 L240.8,286.8 L241.4,288.3 L242.1,289.8 L242.8,291.3 L243.5,292.8 L244.4,294.2 L245.4,295.6 L246.4,296.8 L247.6,298.0 L248.8,299.1 L250.1,300.2 L251.3,301.3 L252.6,302.3 L254.0,303.2 L255.4,304.0 L257.0,304.7 L258.6,305.1 L260.3,305.5 L261.9,305.8 L263.5,306.2 L265.1,306.6 L266.6,307.1 L268.1,307.6 L269.6,308.0 L271.1,308.4 L272.6,308.7 L274.1,309.1 L275.6,309.5 L277.0,310.0 L278.5,310.6 L279.9,311.3 L281.4,311.9 L282.8,312.5 L284.4,312.9 L285.9,313.3 L287.5,313.6 L289.0,314.0 L290.6,314.5 L292.2,315.1 L293.8,315.6 L295.5,316.1 L297.2,316.5 L298.9,316.7 L300.5,316.7 L302.2,316.6 L303.9,316.5 L305.6,316.4 L307.3,316.3 L309.0,316.2 L310.8,316.1 L312.5,315.8 L314.1,315.3 L315.7,314.6 L317.2,313.8 L318.6,312.8 L320.0,311.8 L321.4,310.8 L322.8,309.8 L324.2,308.9 L325.6,307.9 L327.0,307.0 L328.5,306.1 L329.8,305.2 L331.2,304.3 L332.6,303.3 L333.9,302.2 L335.2,301.2 L336.6,300.1 L337.9,299.1 L339.3,298.1 L340.7,297.0 L342.1,296.0 L343.5,295.0 L344.8,293.8 L346.0,292.5 L347.0,291.1 L347.9,289.5 L348.6,288.0 L349.3,286.4 L350.0,284.8 L350.8,283.3 L351.6,281.7 L352.3,280.1 L352.8,278.5 L353.3,276.8 L353.7,275.2 L354.1,273.5 L354.6,271.9 L355.2,270.3 L356.0,268.7 L356.7,267.1 L357.4,265.5 L358.0,263.8 L358.5,262.1 L358.9,260.4 L359.4,258.7 L360.0,257.0 L360.7,255.2Z" fill="none" stroke="#2020ff" stroke-width="1.35" stroke-linejoin="round"/>
<path d="M362.3,253.4 L362.5,251.6 L362.6,249.7 L362.5,247.9 L362.2,246.0 L361.6,244.3 L360.6,242.6 L359.3,241.0 L357.8,239.5 L356.1,238.1 L354.3,236.8 L352.7,235.5 L351.1,234.3 L349.5,233.1 L347.9,232.0 L346.3,231.0 L344.8,230.0 L343.2,229.1 L341.8,228.1 L340.5,227.2 L339.1,226.3 L337.7,225.5 L336.4,224.7 L335.2,223.9 L334.0,223.0 L332.9,222.1 L332.0,221.2 L331.1,220.2 L330.3,219.1 L329.6,218.0 L329.0,216.6 L328.6,215.1 L328.2,213.4 L327.7,211.8 L327.4,210.0 L327.0,208.1 L326.6,206.1 L326.0,204.2 L325.1,202.7 L324.2,201.1 L323.2,199.7 L322.2,198.1 L321.2,196.6 L320.0,195.1 L318.8,193.6 L317.5,192.3 L316.1,191.1 L314.5,190.3 L312.9,189.7 L311.2,189.3 L309.4,189.1 L307.6,189.2 L305.8,189.6 L303.9,190.2 L302.1,190.9 L300.3,191.6 L298.6,192.4 L296.9,193.5 L295.3,194.6 L293.7,195.5 L292.2,195.8 L290.7,195.6 L289.2,195.2 L287.6,194.7 L286.0,194.0 L284.3,193.4 L282.6,192.9 L280.9,192.5 L279.2,192.4 L277.5,192.4 L275.9,192.5 L274.2,192.8 L272.7,193.2 L271.1,193.8 L269.6,194.5 L268.1,195.3 L266.7,196.2 L265.4,197.1 L264.0,198.1 L262.8,199.3 L261.6,200.4 L260.5,201.6 L259.4,202.8 L258.2,204.0 L257.2,205.2 L256.2,206.4 L255.2,207.7 L254.3,209.1 L253.4,210.4 L252.5,211.6 L251.5,212.7 L250.4,213.8 L249.2,214.7 L247.9,215.5 L246.5,216.4 L245.0,217.2 L243.6,218.1 L242.2,219.0 L240.8,220.0 L239.6,221.1 L238.3,222.3 L237.2,223.5 L236.2,224.8 L235.1,226.2 L234.2,227.6 L233.2,229.0 L232.2,230.4 L231.3,231.8 L230.5,233.4 L229.9,234.9 L229.4,236.6 L229.1,238.2 L228.9,239.9 L228.7,241.6 L228.6,243.3 L228.5,245.0 L228.5,246.7 L228.6,248.4 L228.9,250.1 L229.3,251.8 L229.9,253.4 L230.5,255.0 L231.2,256.6 L231.9,258.1 L232.8,259.6 L233.8,261.1 L234.8,262.5 L235.9,263.8 L237.1,265.1 L238.2,266.4 L239.2,267.6 L240.2,268.8 L241.1,270.0 L241.8,271.3 L242.3,272.6 L242.7,273.9 L243.0,275.3 L243.3,276.7 L243.6,278.2 L243.9,279.6 L244.0,281.2 L244.1,282.9 L244.1,284.7 L244.1,286.5 L244.2,288.3 L244.2,290.3 L244.1,292.3 L244.1,294.5 L244.2,296.6 L244.7,298.5 L245.4,300.2 L246.5,301.5 L247.8,302.7 L249.3,303.7 L250.8,304.5 L252.5,305.2 L254.2,305.7 L255.9,306.2 L257.6,306.6 L259.3,307.0 L261.1,307.3 L262.8,307.6 L264.4,307.9 L266.1,308.1 L267.7,308.4 L269.4,308.6 L271.0,308.7 L272.6,308.7 L274.2,308.7 L275.8,308.7 L277.3,308.8 L278.8,309.0 L280.3,309.3 L281.8,309.6 L283.3,309.9 L284.7,310.1 L286.2,310.3 L287.7,310.5 L289.2,310.7 L290.7,310.9 L292.2,311.2 L293.7,311.6 L295.3,312.1 L296.9,312.6 L298.5,313.1 L300.1,313.6 L301.8,314.0 L303.5,314.4 L305.2,314.8 L307.0,315.0 L308.8,315.2 L310.5,315.3 L312.3,315.3 L314.1,315.2 L315.8,314.9 L317.5,314.5 L319.2,313.9 L320.7,313.2 L322.3,312.4 L323.8,311.5 L325.2,310.6 L326.7,309.7 L328.2,308.8 L329.6,307.9 L331.1,306.9 L332.5,305.9 L333.8,304.8 L335.1,303.7 L336.4,302.5 L337.6,301.2 L338.7,299.9 L339.9,298.7 L341.1,297.5 L342.3,296.2 L343.5,294.9 L344.6,293.6 L345.8,292.3 L346.9,291.0 L347.9,289.6 L348.9,288.1 L349.7,286.6 L350.5,285.0 L351.1,283.4 L351.7,281.8 L352.3,280.1 L352.9,278.5 L353.6,277.0 L354.4,275.4 L355.2,273.9 L356.1,272.3 L357.0,270.7 L357.7,269.1 L358.3,267.5 L358.9,265.8 L359.4,264.1 L360.0,262.3 L360.6,260.6 L361.1,258.8 L361.6,257.0 L362.0,255.2Z" fill="none" stroke="#1a7a1a" stroke-width="1.35" stroke-linejoin="round"/>
<path d="M358.8,253.4 L358.7,251.7 L358.5,249.9 L358.2,248.2 L357.8,246.5 L357.3,244.8 L356.7,243.2 L356.1,241.6 L355.5,240.0 L354.9,238.4 L354.3,236.8 L353.7,235.2 L353.1,233.6 L352.5,232.1 L351.7,230.5 L350.9,229.1 L350.0,227.7 L349.0,226.3 L348.1,224.9 L347.2,223.5 L346.2,222.2 L345.3,220.9 L344.1,219.7 L342.9,218.6 L341.5,217.6 L340.1,216.7 L338.6,215.8 L337.2,214.9 L335.9,214.1 L334.6,213.1 L333.4,212.2 L332.2,211.3 L331.0,210.3 L329.9,209.3 L328.8,208.2 L327.7,207.1 L326.7,205.9 L325.8,204.5 L324.9,203.1 L324.0,201.5 L323.1,199.8 L322.2,198.1 L321.2,196.4 L320.2,194.8 L319.0,193.3 L317.7,191.9 L316.3,190.6 L314.9,189.4 L313.3,188.4 L311.7,187.6 L310.0,187.1 L308.1,187.0 L306.3,187.2 L304.3,187.9 L302.4,188.8 L300.5,190.0 L298.7,191.5 L296.9,193.3 L295.2,195.2 L293.7,196.8 L292.2,197.8 L290.8,198.0 L289.3,198.0 L287.8,197.7 L286.3,197.4 L284.8,197.0 L283.2,196.6 L281.6,196.4 L280.0,196.2 L278.4,196.0 L276.8,195.8 L275.1,195.7 L273.4,195.7 L271.8,195.8 L270.1,196.0 L268.5,196.2 L266.9,196.5 L265.3,197.0 L263.8,197.6 L262.4,198.5 L261.1,199.6 L260.0,200.9 L259.0,202.4 L258.1,203.8 L257.1,205.1 L256.1,206.4 L255.1,207.6 L254.0,208.7 L253.0,209.8 L252.0,211.0 L251.1,212.3 L250.2,213.6 L249.3,214.8 L248.3,215.9 L247.0,216.8 L245.5,217.6 L243.8,218.2 L242.1,218.9 L240.4,219.8 L238.8,220.7 L237.4,221.8 L236.1,222.9 L234.8,224.2 L233.5,225.4 L232.2,226.7 L230.9,228.0 L229.7,229.4 L228.6,230.9 L227.7,232.4 L227.1,234.1 L226.7,235.8 L226.5,237.6 L226.5,239.4 L226.6,241.2 L226.8,243.0 L227.3,244.9 L227.9,246.6 L228.6,248.4 L229.4,250.1 L230.2,251.8 L230.7,253.4 L231.1,255.0 L231.4,256.6 L231.5,258.2 L231.7,259.8 L231.9,261.3 L232.2,262.9 L232.5,264.5 L232.8,266.0 L233.1,267.6 L233.3,269.2 L233.4,270.8 L233.5,272.5 L233.5,274.2 L233.6,275.9 L233.8,277.6 L234.2,279.2 L234.6,280.9 L235.2,282.4 L236.0,283.9 L236.8,285.4 L237.7,286.8 L238.7,288.1 L239.8,289.4 L240.9,290.7 L242.0,291.9 L243.2,293.1 L244.3,294.3 L245.5,295.5 L246.7,296.6 L247.9,297.7 L249.2,298.7 L250.5,299.8 L251.7,300.8 L253.0,301.8 L254.3,302.7 L255.7,303.7 L257.0,304.6 L258.4,305.5 L259.8,306.3 L261.2,307.2 L262.5,308.0 L263.9,309.0 L265.2,310.0 L266.5,311.0 L267.9,312.0 L269.4,312.7 L271.0,313.3 L272.6,313.6 L274.3,313.8 L276.0,313.8 L277.7,313.8 L279.4,313.8 L281.0,313.8 L282.6,313.7 L284.3,313.5 L285.9,313.2 L287.5,312.7 L289.1,312.2 L290.7,311.6 L292.2,311.1 L293.7,310.7 L295.2,310.5 L296.7,310.5 L298.2,310.6 L299.8,310.9 L301.3,311.2 L303.0,311.5 L304.6,311.9 L306.3,312.3 L308.1,312.7 L309.9,313.2 L311.8,313.6 L313.7,314.0 L315.6,314.2 L317.4,314.3 L319.3,314.3 L321.1,314.1 L322.9,313.7 L324.6,313.1 L326.3,312.4 L327.8,311.5 L329.2,310.4 L330.5,309.2 L331.8,307.9 L332.9,306.4 L334.0,305.0 L335.0,303.5 L336.0,302.1 L337.1,300.7 L338.2,299.4 L339.3,298.1 L340.5,296.9 L341.6,295.6 L342.8,294.4 L343.9,293.1 L345.0,291.8 L346.1,290.4 L347.2,289.1 L348.3,287.8 L349.4,286.4 L350.7,285.1 L352.0,283.9 L353.3,282.5 L354.5,281.1 L355.5,279.6 L356.4,278.0 L357.1,276.4 L357.6,274.7 L358.1,272.9 L358.4,271.1 L358.8,269.4 L359.1,267.6 L359.3,265.8 L359.4,264.0 L359.4,262.3 L359.4,260.5 L359.2,258.7 L359.1,256.9 L358.9,255.1Z" fill="none" stroke="#ff1010" stroke-width="1.35" stroke-linejoin="round"/>
<path d="M363.0,253.4 L362.4,251.6 L361.6,249.8 L360.7,248.0 L359.8,246.3 L358.8,244.6 L357.7,243.0 L356.6,241.5 L355.4,240.0 L354.1,238.5 L352.8,237.2 L351.6,235.8 L350.5,234.4 L349.6,233.1 L348.9,231.6 L348.1,230.2 L347.3,228.9 L346.4,227.6 L345.4,226.3 L344.3,225.1 L343.3,223.9 L342.5,222.6 L341.7,221.2 L341.0,219.8 L340.4,218.4 L339.8,216.9 L339.0,215.5 L338.1,214.2 L337.1,213.0 L335.9,212.0 L334.6,211.0 L333.3,210.1 L332.1,209.1 L330.9,208.1 L329.7,207.0 L328.6,206.0 L327.4,205.0 L326.1,204.1 L324.8,203.1 L323.6,202.2 L322.4,201.1 L321.2,199.9 L320.1,198.7 L318.9,197.4 L317.7,196.1 L316.5,194.8 L315.1,193.6 L313.7,192.6 L312.2,191.7 L310.7,191.0 L309.0,190.5 L307.4,190.3 L305.6,190.2 L303.9,190.3 L302.2,190.5 L300.4,190.9 L298.7,191.5 L297.0,192.6 L295.3,193.8 L293.7,194.7 L292.2,195.1 L290.7,194.9 L289.1,194.4 L287.5,193.8 L285.9,193.2 L284.2,192.8 L282.6,192.6 L281.0,192.9 L279.5,193.4 L277.9,193.9 L276.4,194.3 L274.8,194.6 L273.1,194.8 L271.5,194.8 L269.8,195.0 L268.1,195.3 L266.6,195.8 L265.1,196.6 L263.8,197.6 L262.5,198.8 L261.3,199.9 L260.1,200.9 L258.7,201.9 L257.4,202.7 L256.0,203.5 L254.7,204.5 L253.4,205.5 L252.3,206.7 L251.2,207.9 L250.2,209.1 L249.0,210.2 L247.8,211.3 L246.5,212.3 L245.2,213.2 L243.8,214.2 L242.4,215.2 L241.1,216.3 L239.9,217.4 L238.7,218.6 L237.4,219.8 L236.2,221.0 L234.9,222.3 L233.8,223.6 L232.8,225.0 L231.8,226.5 L231.1,228.1 L230.3,229.6 L229.5,231.2 L228.7,232.8 L227.8,234.3 L227.0,235.9 L226.4,237.6 L226.0,239.3 L225.9,241.1 L226.1,242.9 L226.4,244.7 L226.8,246.5 L227.4,248.3 L228.0,250.0 L228.6,251.7 L229.3,253.4 L230.6,255.0 L232.0,256.6 L234.6,257.9 L237.5,259.1 L240.8,260.2 L244.3,261.0 L247.8,261.6 L250.8,262.2 L253.1,262.8 L254.5,263.5 L254.8,264.5 L254.0,265.8 L252.6,267.4 L250.9,269.3 L249.2,271.2 L247.7,273.2 L246.7,275.1 L246.0,277.0 L245.7,278.7 L245.6,280.3 L245.6,282.0 L245.8,283.6 L246.0,285.2 L245.9,287.0 L246.2,288.7 L246.1,290.7 L246.0,292.9 L246.0,295.0 L246.2,297.1 L246.8,298.8 L247.8,300.2 L249.0,301.3 L250.4,302.3 L251.9,303.2 L253.4,304.0 L254.9,304.8 L256.4,305.5 L257.8,306.3 L259.3,307.1 L260.9,307.7 L262.5,308.2 L264.1,308.5 L265.8,308.8 L267.5,308.9 L269.2,309.0 L270.8,309.2 L272.3,309.6 L273.8,310.1 L275.2,310.8 L276.6,311.5 L278.1,312.3 L279.6,312.9 L281.1,313.2 L282.7,313.2 L284.3,313.1 L286.0,312.8 L287.5,312.7 L289.1,312.7 L290.6,312.9 L292.2,313.2 L293.8,313.5 L295.4,313.6 L296.9,313.6 L298.5,313.5 L300.1,313.2 L301.6,312.9 L303.2,312.8 L304.8,312.8 L306.5,313.0 L308.3,313.3 L310.0,313.7 L311.9,313.9 L313.6,313.9 L315.4,313.8 L317.1,313.4 L318.7,313.0 L320.3,312.4 L321.9,311.7 L323.5,311.1 L325.1,310.3 L326.6,309.6 L328.2,308.8 L329.7,308.0 L331.3,307.2 L332.9,306.4 L334.4,305.6 L336.0,304.7 L337.4,303.6 L338.7,302.4 L339.9,301.1 L340.8,299.5 L341.7,298.0 L342.5,296.4 L343.5,294.9 L344.5,293.5 L345.5,292.2 L346.6,290.8 L347.7,289.4 L348.6,287.9 L349.3,286.4 L350.0,284.8 L350.7,283.2 L351.4,281.6 L352.3,280.2 L353.3,278.7 L354.4,277.3 L355.5,275.8 L356.4,274.3 L357.1,272.6 L357.7,271.0 L358.2,269.3 L358.8,267.5 L359.4,265.9 L360.2,264.2 L361.1,262.5 L362.0,260.7 L362.7,258.9 L363.1,257.1 L363.2,255.3Z" fill="none" stroke="#30d8d8" stroke-width="1.35" stroke-linejoin="round"/>
<path d="M358.6,253.4 L358.4,251.7 L358.1,249.9 L357.6,248.3 L357.0,246.6 L356.4,244.9 L355.9,243.3 L355.4,241.7 L354.9,240.1 L354.2,238.5 L353.3,237.0 L352.3,235.6 L351.2,234.2 L350.3,232.8 L349.4,231.4 L348.6,230.0 L347.9,228.6 L347.1,227.2 L346.2,225.9 L345.1,224.7 L343.8,223.6 L342.5,222.6 L341.3,221.5 L340.1,220.5 L339.1,219.3 L338.2,218.1 L337.3,216.9 L336.4,215.7 L335.3,214.6 L334.1,213.6 L332.9,212.7 L331.7,211.8 L330.6,210.8 L329.5,209.7 L328.6,208.5 L327.7,207.2 L326.8,205.8 L325.9,204.4 L325.0,202.9 L324.1,201.4 L323.2,199.8 L322.2,198.2 L321.1,196.7 L319.9,195.3 L318.6,194.1 L317.2,193.1 L315.7,192.1 L314.2,191.3 L312.7,190.4 L311.1,189.7 L309.4,189.1 L307.7,188.7 L306.0,188.6 L304.2,188.8 L302.3,189.4 L300.5,190.2 L298.7,191.4 L296.9,193.1 L295.3,194.8 L293.7,196.3 L292.2,197.1 L290.7,197.2 L289.2,196.9 L287.7,196.3 L286.1,195.6 L284.5,194.9 L282.8,194.3 L281.2,194.0 L279.5,193.8 L277.8,193.6 L276.1,193.5 L274.4,193.4 L272.7,193.3 L271.0,193.4 L269.3,193.6 L267.6,194.0 L266.0,194.5 L264.4,195.1 L262.9,195.9 L261.4,196.7 L259.9,197.5 L258.5,198.5 L257.2,199.5 L256.0,200.7 L254.8,202.0 L253.9,203.5 L253.1,205.1 L252.3,206.7 L251.5,208.2 L250.6,209.5 L249.5,210.7 L248.2,211.7 L246.9,212.6 L245.5,213.5 L244.1,214.4 L242.7,215.4 L241.3,216.4 L240.0,217.6 L238.8,218.7 L237.6,219.9 L236.4,221.2 L235.2,222.4 L234.1,223.8 L233.0,225.2 L232.0,226.6 L231.1,228.1 L230.3,229.6 L229.6,231.2 L229.1,232.9 L228.7,234.6 L228.4,236.3 L228.4,238.1 L228.4,239.8 L228.6,241.6 L228.9,243.4 L229.2,245.1 L229.5,246.8 L229.9,248.5 L230.4,250.2 L230.9,251.8 L231.4,253.4 L231.9,255.0 L232.4,256.5 L232.8,258.1 L233.1,259.6 L233.4,261.1 L233.5,262.7 L233.6,264.3 L233.8,265.8 L234.1,267.4 L234.4,268.9 L234.9,270.4 L235.4,271.9 L235.9,273.3 L236.5,274.8 L237.0,276.3 L237.4,277.8 L237.8,279.3 L238.2,280.9 L238.5,282.5 L238.9,284.2 L239.3,285.8 L239.9,287.4 L240.5,288.9 L241.2,290.5 L241.9,292.0 L242.7,293.5 L243.6,294.9 L244.5,296.3 L245.7,297.5 L247.0,298.6 L248.5,299.4 L250.3,299.9 L252.3,300.1 L254.4,300.1 L256.4,300.0 L258.4,300.0 L260.3,299.9 L262.3,299.4 L264.3,298.9 L266.1,298.5 L267.8,298.4 L269.2,298.5 L270.5,298.8 L271.8,299.3 L272.9,300.0 L274.0,300.8 L275.1,301.8 L276.1,303.0 L277.1,304.3 L278.1,305.9 L279.2,307.6 L280.3,309.2 L281.7,310.3 L283.1,311.1 L284.5,311.7 L286.0,312.0 L287.6,312.2 L289.1,312.3 L290.7,312.4 L292.2,312.6 L293.8,313.1 L295.4,313.6 L297.0,314.2 L298.6,314.7 L300.3,315.2 L302.0,315.5 L303.8,315.8 L305.5,316.2 L307.4,316.5 L309.2,316.9 L311.1,317.1 L312.9,317.2 L314.7,317.0 L316.5,316.6 L318.1,316.0 L319.7,315.2 L321.3,314.4 L322.8,313.5 L324.3,312.5 L325.7,311.4 L327.0,310.2 L328.2,308.9 L329.4,307.5 L330.5,306.1 L331.6,304.7 L332.8,303.5 L334.0,302.3 L335.3,301.2 L336.5,300.1 L337.8,299.0 L339.0,297.8 L340.1,296.6 L341.4,295.4 L342.7,294.3 L344.0,293.2 L345.5,292.1 L346.9,291.0 L348.3,289.9 L349.7,288.6 L351.0,287.3 L352.2,286.0 L353.4,284.6 L354.5,283.1 L355.5,281.6 L356.3,279.9 L356.9,278.2 L357.3,276.5 L357.7,274.7 L358.0,272.9 L358.3,271.1 L358.6,269.3 L358.8,267.6 L358.9,265.8 L359.0,264.0 L359.0,262.2 L358.9,260.4 L358.9,258.6 L358.8,256.9 L358.7,255.1Z" fill="none" stroke="#d020d0" stroke-width="1.35" stroke-linejoin="round"/>
<ellipse cx="292.2" cy="253.4" rx="77.0" ry="77.9" fill="none" stroke="#1a1a1a" stroke-width="1.0"/>
<path d="M365.7,253.4H369.2M218.7,253.4H215.2M292.2,179.0V175.5M292.2,327.8V331.3" stroke="#111" stroke-width="1.6"/>
<circle cx="278.59" cy="239.79" r="0.9" fill="#222"/>
<circle cx="264.98" cy="226.18" r="0.9" fill="#222"/>
<circle cx="251.36" cy="212.56" r="0.9" fill="#222"/>
<circle cx="237.75" cy="198.95" r="0.9" fill="#222"/>
<text x="187.0" y="158.9" font-family='"Liberation Sans", Arial, sans-serif' font-size="10.3" textLength="208.0" lengthAdjust="spacingAndGlyphs" fill="#000" stroke="#000" stroke-width="0.25">XY Plane (+X = 0°, +Y = +90°) / Elevation = 90 °</text>
<text x="284.7" y="171.6" font-family='"Liberation Sans", Arial, sans-serif' font-size="10.2" textLength="14.52" lengthAdjust="spacingAndGlyphs" fill="#000" stroke="#000" stroke-width="0.25">90°</text>
<text x="283.1" y="340.5" font-family='"Liberation Sans", Arial, sans-serif' font-size="10.2" textLength="17.71" lengthAdjust="spacingAndGlyphs" fill="#000" stroke="#000" stroke-width="0.25">-90°</text>
<text x="371.0" y="256.6" font-family='"Liberation Sans", Arial, sans-serif' font-size="10.2" textLength="9.18" lengthAdjust="spacingAndGlyphs" fill="#000" stroke="#000" stroke-width="0.25">0°</text>
<text x="196.0" y="255.8" font-family='"Liberation Sans", Arial, sans-serif' font-size="10.2" textLength="25.12" lengthAdjust="spacingAndGlyphs" fill="#000" stroke="#000" stroke-width="0.25">±180°</text>
<text x="224.7" y="197.6" font-family='"Liberation Sans", Arial, sans-serif' font-size="10.2" textLength="19.75" lengthAdjust="spacingAndGlyphs" fill="#000" stroke="#000" stroke-width="0.25">5 dB</text>
<text x="237.9" y="211.3" font-family='"Liberation Sans", Arial, sans-serif' font-size="10.2" textLength="22.94" lengthAdjust="spacingAndGlyphs" fill="#000" stroke="#000" stroke-width="0.25">-5 dB</text>
<text x="249.3" y="224.7" font-family='"Liberation Sans", Arial, sans-serif' font-size="10.2" textLength="28.28" lengthAdjust="spacingAndGlyphs" fill="#000" stroke="#000" stroke-width="0.25">-15 dB</text>
<text x="262.4" y="238.8" font-family='"Liberation Sans", Arial, sans-serif' font-size="10.2" textLength="28.28" lengthAdjust="spacingAndGlyphs" fill="#000" stroke="#000" stroke-width="0.25">-25 dB</text>
<ellipse cx="530.8" cy="253.35" rx="77.0" ry="77.9" fill="#fff"/>
<ellipse cx="530.8" cy="253.35" rx="19.25" ry="19.48" fill="none" stroke="#262626" stroke-width="0.85"/>
<ellipse cx="530.8" cy="253.35" rx="38.50" ry="38.95" fill="none" stroke="#262626" stroke-width="0.85"/>
<ellipse cx="530.8" cy="253.35" rx="57.75" ry="58.43" fill="none" stroke="#262626" stroke-width="0.85"/>
<line x1="453.79999999999995" y1="253.35" x2="607.8" y2="253.35" stroke="#262626" stroke-width="0.85"/>
<line x1="530.8" y1="175.45" x2="530.8" y2="331.25" stroke="#262626" stroke-width="0.85"/>
<path d="M591.9,253.3 L592.2,251.7 L592.4,250.1 L592.7,248.5 L592.8,246.8 L592.9,245.2 L593.0,243.5 L592.9,241.8 L592.8,240.2 L592.6,238.5 L592.6,236.8 L592.7,235.0 L592.9,233.2 L593.7,231.1 L594.7,228.8 L595.4,226.6 L595.5,224.5 L594.8,222.8 L593.9,221.2 L592.9,219.6 L592.0,218.0 L591.3,216.3 L590.7,214.4 L590.1,212.6 L589.4,210.8 L588.5,209.0 L587.6,207.4 L586.5,205.8 L585.4,204.2 L584.2,202.7 L583.1,201.1 L582.0,199.4 L580.8,197.9 L579.5,196.4 L578.1,195.0 L576.6,193.7 L575.0,192.5 L573.4,191.4 L571.7,190.4 L570.0,189.4 L568.2,188.6 L566.3,187.9 L564.4,187.3 L562.6,186.8 L560.7,186.2 L558.8,185.7 L557.0,185.2 L555.1,184.8 L553.1,184.7 L551.2,184.6 L549.2,184.7 L547.2,185.2 L545.1,185.8 L543.2,186.5 L541.3,187.1 L539.5,187.5 L537.7,187.8 L535.9,188.1 L534.2,188.4 L532.5,188.7 L530.8,189.0 L529.1,189.1 L527.4,189.2 L525.7,189.1 L524.0,189.1 L522.4,189.2 L520.7,189.5 L519.0,189.9 L517.4,190.4 L515.8,190.9 L514.2,191.4 L512.5,191.7 L510.9,192.0 L509.2,192.3 L507.5,192.7 L505.9,193.2 L504.3,193.8 L502.7,194.5 L501.2,195.2 L499.6,195.8 L497.9,196.5 L496.3,197.1 L494.8,197.9 L493.2,198.7 L491.8,199.6 L490.3,200.6 L488.9,201.6 L487.4,202.5 L485.8,203.4 L484.2,204.3 L482.7,205.2 L481.2,206.3 L479.9,207.5 L478.6,208.8 L477.5,210.2 L476.2,211.5 L474.9,212.7 L473.5,214.0 L472.1,215.2 L470.7,216.5 L469.5,218.0 L468.6,219.6 L467.9,221.3 L467.4,223.1 L467.0,225.0 L466.8,226.8 L466.5,228.7 L466.1,230.4 L465.7,232.2 L465.3,234.0 L464.9,235.7 L464.5,237.4 L464.1,239.2 L463.6,240.9 L463.1,242.6 L462.7,244.4 L462.2,246.1 L461.9,247.9 L461.6,249.7 L461.6,251.5 L461.7,253.3 L462.2,255.1 L463.0,256.9 L463.9,258.6 L465.0,260.3 L466.1,261.9 L467.2,263.4 L468.1,265.0 L469.0,266.5 L469.7,268.0 L470.3,269.6 L471.0,271.1 L471.5,272.6 L472.1,274.1 L472.6,275.7 L473.1,277.3 L473.6,278.8 L474.2,280.4 L474.7,282.0 L475.1,283.6 L475.7,285.2 L476.3,286.8 L477.1,288.2 L477.9,289.7 L478.9,291.1 L479.9,292.4 L480.9,293.8 L481.9,295.1 L482.9,296.5 L483.9,297.9 L484.9,299.2 L486.1,300.5 L487.3,301.7 L488.6,302.8 L489.9,303.9 L491.2,304.9 L492.6,305.9 L494.0,306.9 L495.4,307.8 L497.0,308.6 L498.6,309.2 L500.2,309.7 L501.9,310.2 L503.5,310.6 L505.1,311.0 L506.7,311.5 L508.3,311.9 L509.9,312.3 L511.5,312.6 L513.2,312.8 L514.8,312.9 L516.5,313.0 L518.1,313.0 L519.7,313.1 L521.3,313.3 L522.9,313.5 L524.4,313.8 L526.0,314.1 L527.6,314.4 L529.2,314.6 L530.8,314.6 L532.4,314.6 L534.0,314.5 L535.6,314.3 L537.2,314.2 L538.8,314.2 L540.5,314.3 L542.1,314.4 L543.8,314.5 L545.5,314.5 L547.1,314.3 L548.8,314.0 L550.4,313.5 L551.9,313.0 L553.5,312.4 L555.1,311.9 L556.7,311.4 L558.3,310.9 L559.8,310.3 L561.4,309.7 L562.8,308.8 L564.2,307.9 L565.6,306.9 L566.9,305.9 L568.3,305.0 L569.7,304.0 L571.1,303.1 L572.4,302.1 L573.7,301.0 L574.8,299.7 L575.9,298.4 L576.9,297.1 L577.9,295.8 L578.9,294.4 L580.0,293.2 L581.0,291.9 L582.0,290.5 L582.9,289.1 L583.7,287.7 L584.3,286.1 L584.8,284.5 L585.3,282.9 L585.8,281.4 L586.3,279.8 L586.8,278.3 L587.4,276.8 L588.1,275.3 L588.7,273.9 L589.3,272.3 L589.7,270.8 L590.0,269.2 L590.1,267.6 L590.2,266.0 L590.2,264.4 L590.2,262.8 L590.3,261.2 L590.5,259.6 L590.8,258.1 L591.2,256.5 L591.5,254.9Z" fill="none" stroke="#3030ff" stroke-width="1.35" stroke-linejoin="round"/>
<path d="M591.2,253.3 L591.0,251.8 L590.9,250.2 L590.9,248.6 L590.9,247.0 L590.8,245.4 L590.7,243.9 L590.4,242.3 L590.2,240.7 L590.0,239.1 L590.0,237.5 L590.0,235.8 L590.0,234.1 L590.7,232.2 L591.4,230.1 L591.9,228.0 L592.0,226.1 L591.6,224.4 L591.0,222.7 L590.5,220.9 L589.9,219.2 L589.4,217.4 L588.8,215.7 L588.1,214.0 L587.3,212.3 L586.5,210.6 L585.6,209.0 L584.6,207.4 L583.6,205.8 L582.5,204.3 L581.3,202.8 L580.1,201.4 L578.9,199.9 L577.7,198.5 L576.4,197.0 L575.1,195.6 L573.6,194.4 L572.0,193.4 L570.3,192.5 L568.6,191.6 L567.0,190.7 L565.3,189.7 L563.8,188.6 L562.2,187.4 L560.7,186.3 L559.0,185.3 L557.2,184.5 L555.4,184.0 L553.5,183.6 L551.6,183.2 L549.7,182.8 L547.9,182.2 L546.0,181.7 L544.2,181.2 L542.3,180.9 L540.4,180.6 L538.5,180.5 L536.5,180.5 L534.6,180.5 L532.7,180.6 L530.8,180.8 L528.9,181.1 L527.0,181.5 L525.2,182.0 L523.3,182.4 L521.5,182.8 L519.7,183.1 L517.8,183.4 L516.0,183.8 L514.2,184.3 L512.5,185.1 L510.9,186.0 L509.2,187.0 L507.6,187.8 L505.9,188.4 L504.1,188.9 L502.3,189.3 L500.4,189.7 L498.6,190.2 L496.9,190.9 L495.2,191.6 L493.5,192.5 L491.9,193.4 L490.3,194.4 L488.8,195.5 L487.3,196.6 L485.8,197.7 L484.3,198.9 L482.8,200.1 L481.3,201.2 L479.7,202.3 L478.2,203.5 L476.8,204.7 L475.5,206.1 L474.3,207.6 L473.3,209.2 L472.3,210.8 L471.2,212.4 L470.2,214.0 L469.2,215.6 L468.4,217.3 L467.8,219.1 L467.4,221.0 L467.1,223.0 L466.9,224.9 L466.6,226.8 L466.2,228.6 L465.7,230.3 L465.1,232.0 L464.6,233.8 L464.3,235.5 L464.0,237.3 L463.7,239.1 L463.3,240.8 L462.8,242.6 L462.1,244.3 L461.5,246.1 L461.1,247.9 L460.8,249.7 L460.8,251.5 L460.9,253.3 L461.2,255.2 L461.5,257.0 L461.9,258.8 L462.5,260.5 L463.2,262.2 L464.3,263.9 L465.5,265.5 L466.7,267.0 L467.9,268.5 L468.9,269.9 L469.8,271.4 L470.4,273.0 L471.0,274.5 L471.6,276.1 L472.5,277.5 L473.5,278.9 L474.6,280.1 L475.6,281.5 L476.5,282.8 L477.3,284.3 L478.0,285.7 L478.7,287.2 L479.5,288.6 L480.4,290.0 L481.3,291.3 L482.3,292.6 L483.4,293.9 L484.5,295.1 L485.6,296.3 L486.6,297.5 L487.7,298.8 L488.7,300.2 L489.6,301.6 L490.6,303.0 L491.6,304.4 L492.8,305.7 L494.1,306.8 L495.5,307.7 L497.0,308.4 L498.6,309.2 L500.1,310.0 L501.5,310.9 L502.9,311.8 L504.4,312.6 L506.0,313.3 L507.7,313.6 L509.4,313.7 L511.2,313.7 L513.0,313.6 L514.6,313.6 L516.3,313.8 L517.9,314.1 L519.5,314.4 L521.1,314.6 L522.7,314.7 L524.4,314.6 L526.0,314.5 L527.6,314.3 L529.2,314.2 L530.8,314.1 L532.4,314.1 L534.0,314.0 L535.6,314.0 L537.2,314.0 L538.8,314.1 L540.4,314.2 L542.1,314.3 L543.8,314.4 L545.4,314.2 L547.1,314.0 L548.7,313.6 L550.3,313.3 L551.9,312.9 L553.5,312.6 L555.2,312.2 L556.8,311.8 L558.4,311.2 L559.9,310.5 L561.4,309.7 L562.9,308.9 L564.3,308.0 L565.8,307.2 L567.2,306.3 L568.5,305.3 L569.8,304.1 L570.9,302.9 L571.9,301.5 L572.8,300.0 L573.6,298.4 L574.4,296.9 L575.0,295.3 L575.5,293.6 L575.9,291.9 L576.2,290.1 L576.4,288.3 L576.2,286.3 L576.0,284.4 L575.9,282.7 L576.2,281.1 L576.7,279.9 L577.6,278.8 L578.8,277.8 L580.2,276.9 L581.6,276.0 L582.9,274.9 L584.3,273.9 L585.9,272.9 L587.5,271.8 L589.0,270.6 L590.2,269.3 L591.2,267.9 L591.7,266.3 L591.9,264.7 L592.4,263.1 L592.7,261.5 L592.7,259.9 L592.4,258.2 L591.9,256.6 L591.5,254.9Z" fill="none" stroke="#208020" stroke-width="1.35" stroke-linejoin="round"/>
<path d="M590.0,253.3 L590.0,251.8 L590.1,250.2 L590.1,248.7 L590.3,247.1 L590.4,245.5 L590.4,243.9 L590.4,242.3 L590.3,240.7 L590.3,239.1 L590.3,237.4 L590.5,235.7 L590.7,233.9 L591.8,231.8 L593.1,229.4 L594.2,227.1 L594.9,224.8 L594.8,222.8 L594.3,221.0 L593.7,219.2 L592.9,217.5 L592.1,215.8 L591.3,214.0 L590.4,212.4 L589.5,210.7 L588.4,209.1 L587.3,207.6 L586.2,206.0 L585.1,204.5 L584.0,202.8 L582.9,201.2 L581.8,199.6 L580.5,198.1 L579.1,196.8 L577.6,195.6 L575.9,194.6 L574.2,193.7 L572.4,192.8 L570.7,191.9 L569.0,191.0 L567.3,190.1 L565.6,189.2 L563.8,188.6 L562.0,188.0 L560.1,187.5 L558.2,187.1 L556.3,186.8 L554.4,186.6 L552.5,186.5 L550.6,186.4 L548.8,186.2 L547.0,185.9 L545.2,185.7 L543.4,185.4 L541.6,185.1 L539.8,185.0 L538.0,185.0 L536.2,185.1 L534.4,185.4 L532.6,185.5 L530.8,185.6 L529.0,185.5 L527.2,185.3 L525.4,185.1 L523.6,184.8 L521.8,184.7 L519.9,184.6 L518.1,184.6 L516.2,184.5 L514.2,184.3 L512.3,184.2 L510.3,184.1 L508.4,184.3 L506.5,184.6 L504.7,185.3 L502.9,186.1 L501.2,187.0 L499.6,187.8 L497.8,188.7 L496.1,189.5 L494.4,190.3 L492.7,191.1 L491.1,192.2 L489.6,193.4 L488.3,194.8 L487.1,196.4 L485.9,197.9 L484.8,199.5 L483.7,201.1 L482.6,202.6 L481.5,204.1 L480.4,205.5 L479.2,206.9 L478.1,208.3 L476.9,209.7 L475.8,211.2 L474.8,212.6 L473.8,214.2 L472.9,215.8 L472.0,217.3 L471.2,218.9 L470.3,220.5 L469.3,222.0 L468.3,223.6 L467.4,225.1 L466.5,226.7 L465.7,228.4 L464.9,230.0 L464.2,231.7 L463.4,233.4 L462.7,235.1 L462.0,236.8 L461.5,238.6 L461.0,240.4 L460.7,242.2 L460.5,244.1 L460.3,245.9 L460.2,247.8 L460.1,249.6 L460.2,251.5 L460.5,253.3 L461.0,255.2 L461.8,257.0 L462.8,258.7 L463.8,260.4 L464.9,262.0 L465.9,263.6 L466.8,265.2 L467.7,266.8 L468.6,268.3 L469.3,269.8 L469.8,271.4 L470.0,273.1 L470.0,274.9 L470.0,276.7 L470.0,278.5 L470.2,280.4 L470.6,282.1 L471.1,283.8 L471.8,285.4 L472.5,287.0 L473.1,288.7 L473.8,290.3 L474.6,292.0 L475.4,293.6 L476.2,295.2 L477.3,296.7 L478.4,298.1 L479.6,299.5 L480.8,300.8 L482.0,302.1 L483.3,303.4 L484.7,304.6 L486.2,305.6 L487.7,306.5 L489.4,307.3 L491.1,308.0 L492.8,308.6 L494.5,309.3 L496.1,310.0 L497.7,310.7 L499.3,311.4 L500.9,312.0 L502.5,312.6 L504.2,313.1 L505.9,313.6 L507.6,313.9 L509.3,314.1 L511.0,314.4 L512.7,314.6 L514.3,314.8 L516.0,315.0 L517.7,315.1 L519.3,315.2 L521.0,315.3 L522.6,315.3 L524.3,315.3 L525.9,315.2 L527.6,315.2 L529.2,315.2 L530.8,315.2 L532.4,315.2 L534.0,315.2 L535.7,315.1 L537.3,314.8 L538.8,314.4 L540.4,313.9 L541.9,313.5 L543.5,313.1 L545.1,313.0 L546.8,312.9 L548.5,312.9 L550.2,312.9 L551.8,312.7 L553.4,312.3 L555.0,311.8 L556.5,311.1 L558.1,310.5 L559.6,309.9 L561.2,309.4 L562.9,309.0 L564.6,308.4 L566.2,307.8 L567.7,307.0 L569.0,306.0 L570.4,304.9 L571.6,303.8 L572.9,302.6 L574.2,301.5 L575.4,300.4 L576.7,299.3 L577.9,298.1 L579.1,296.8 L580.2,295.5 L581.2,294.1 L582.1,292.7 L583.0,291.3 L583.9,289.9 L584.8,288.4 L585.6,286.9 L586.4,285.4 L587.1,283.9 L587.7,282.3 L588.2,280.7 L588.6,279.1 L588.9,277.4 L589.2,275.8 L589.5,274.1 L589.8,272.5 L590.1,270.9 L590.4,269.3 L590.7,267.7 L590.9,266.1 L591.0,264.5 L591.0,262.9 L590.9,261.3 L590.7,259.6 L590.4,258.0 L590.2,256.5 L590.1,254.9Z" fill="none" stroke="#ff2020" stroke-width="1.35" stroke-linejoin="round"/>
<path d="M591.3,253.3 L591.5,251.8 L591.8,250.2 L592.0,248.5 L592.1,246.9 L592.3,245.3 L592.4,243.6 L592.5,241.9 L592.8,240.2 L593.1,238.4 L593.5,236.5 L593.8,234.7 L594.0,232.8 L594.7,230.7 L595.4,228.5 L596.0,226.4 L596.2,224.2 L595.9,222.3 L595.5,220.4 L595.0,218.5 L594.3,216.7 L593.5,214.9 L592.5,213.3 L591.3,211.8 L589.9,210.4 L588.6,209.0 L587.2,207.7 L586.0,206.2 L584.7,204.8 L583.4,203.4 L582.1,202.1 L580.7,200.8 L579.2,199.5 L577.8,198.3 L576.3,197.1 L574.9,195.9 L573.3,194.8 L571.7,193.8 L570.1,192.8 L568.4,191.9 L566.8,191.0 L565.1,190.1 L563.5,189.1 L561.9,188.0 L560.3,187.0 L558.6,186.2 L556.8,185.5 L555.0,185.1 L553.1,184.9 L551.2,184.6 L549.3,184.2 L547.5,183.7 L545.7,183.2 L543.9,182.8 L542.0,182.6 L540.1,182.7 L538.2,182.9 L536.3,183.2 L534.5,183.3 L532.6,183.2 L530.8,183.0 L528.9,182.6 L527.1,182.4 L525.2,182.5 L523.4,182.8 L521.6,183.2 L519.8,183.6 L517.9,183.9 L516.1,184.0 L514.1,183.9 L512.2,183.7 L510.2,183.8 L508.3,184.2 L506.5,184.8 L504.8,185.7 L503.1,186.6 L501.5,187.4 L499.7,188.2 L498.0,189.0 L496.3,189.7 L494.6,190.7 L493.0,191.7 L491.5,192.9 L490.2,194.2 L488.8,195.6 L487.5,196.9 L486.3,198.4 L485.1,199.9 L484.0,201.4 L483.0,203.0 L482.0,204.6 L481.0,206.1 L479.8,207.4 L478.6,208.7 L477.3,210.0 L476.1,211.4 L475.1,212.9 L474.2,214.4 L473.3,216.0 L472.5,217.6 L471.5,219.1 L470.4,220.5 L469.2,222.0 L468.1,223.4 L467.2,225.0 L466.5,226.7 L466.1,228.5 L465.8,230.3 L465.4,232.1 L464.8,233.8 L464.0,235.5 L463.0,237.1 L462.1,238.8 L461.5,240.5 L461.2,242.3 L461.2,244.2 L461.5,246.1 L461.9,247.9 L462.2,249.8 L462.5,251.6 L462.8,253.3 L463.2,255.1 L463.8,256.9 L464.7,258.6 L465.6,260.2 L466.7,261.8 L467.7,263.3 L468.6,264.9 L469.6,266.4 L470.5,267.8 L471.4,269.3 L472.4,270.7 L473.1,272.1 L473.6,273.6 L473.9,275.2 L474.2,276.8 L474.5,278.4 L475.0,280.0 L475.6,281.5 L476.3,282.9 L477.1,284.4 L477.8,285.8 L478.4,287.4 L479.0,288.9 L479.6,290.5 L480.4,292.0 L481.5,293.3 L482.8,294.3 L484.2,295.3 L485.7,296.2 L486.9,297.3 L487.8,298.7 L488.5,300.3 L489.2,302.0 L490.0,303.7 L491.0,305.2 L492.2,306.5 L493.6,307.5 L495.1,308.3 L496.6,309.2 L498.0,310.1 L499.4,311.2 L500.8,312.2 L502.3,313.0 L503.9,313.7 L505.6,314.1 L507.4,314.4 L509.1,314.6 L510.8,314.8 L512.5,315.1 L514.2,315.4 L515.9,315.6 L517.5,315.7 L519.3,315.6 L521.0,315.3 L522.7,315.0 L524.4,314.6 L526.0,314.3 L527.6,314.0 L529.2,313.7 L530.8,313.5 L532.4,313.3 L533.9,313.1 L535.5,313.0 L537.1,313.0 L538.6,312.9 L540.2,312.9 L541.8,312.9 L543.4,312.8 L545.0,312.7 L546.7,312.6 L548.4,312.7 L550.1,312.9 L552.0,313.2 L553.9,313.5 L555.7,313.6 L557.6,313.5 L559.3,313.1 L560.9,312.4 L562.5,311.7 L564.1,310.9 L565.6,310.2 L567.2,309.4 L568.8,308.6 L570.2,307.6 L571.5,306.4 L572.6,304.9 L573.4,303.2 L573.9,301.3 L574.4,299.3 L574.7,297.2 L575.0,295.3 L575.2,293.3 L575.2,291.3 L575.1,289.3 L575.1,287.3 L575.2,285.6 L575.4,284.0 L575.6,282.4 L576.1,281.1 L576.8,279.9 L577.7,278.8 L578.7,277.7 L579.9,276.8 L581.3,275.9 L583.0,275.0 L584.7,274.0 L586.2,273.0 L587.4,271.8 L588.4,270.4 L589.0,269.0 L589.5,267.4 L589.9,265.9 L590.2,264.4 L590.6,262.8 L591.0,261.3 L591.1,259.7 L591.1,258.1 L591.1,256.5 L591.2,254.9Z" fill="none" stroke="#20c0c0" stroke-width="1.35" stroke-linejoin="round"/>
<path d="M585.2,253.3 L585.0,251.9 L585.0,250.5 L585.2,249.1 L585.5,247.6 L586.0,246.1 L586.5,244.5 L587.1,242.9 L587.6,241.3 L588.2,239.6 L588.9,237.8 L589.4,236.0 L589.8,234.2 L591.1,232.0 L592.1,229.8 L592.8,227.7 L593.0,225.6 L592.8,223.8 L592.3,222.0 L591.8,220.2 L591.2,218.5 L590.6,216.7 L590.0,214.9 L589.2,213.2 L588.3,211.6 L587.3,210.0 L586.2,208.5 L585.1,207.0 L584.0,205.4 L583.0,203.8 L581.9,202.3 L580.8,200.7 L579.5,199.2 L578.2,197.8 L576.7,196.6 L575.2,195.5 L573.6,194.5 L571.9,193.5 L570.3,192.5 L568.8,191.4 L567.2,190.3 L565.6,189.3 L563.9,188.3 L562.2,187.4 L560.5,186.7 L558.7,186.0 L556.8,185.5 L555.0,185.0 L553.1,184.6 L551.3,184.1 L549.5,183.6 L547.7,183.0 L545.8,182.6 L544.0,182.2 L542.1,182.0 L540.2,182.0 L538.3,182.1 L536.4,182.3 L534.5,182.7 L532.6,183.0 L530.8,183.2 L529.0,183.3 L527.1,183.4 L525.3,183.5 L523.5,183.6 L521.6,183.8 L519.8,184.0 L518.0,184.4 L516.2,184.9 L514.5,185.3 L512.7,185.8 L510.9,186.3 L509.2,186.8 L507.4,187.3 L505.6,187.7 L503.8,188.1 L502.0,188.6 L500.2,189.2 L498.4,189.8 L496.7,190.5 L495.0,191.3 L493.3,192.1 L491.7,193.1 L490.2,194.3 L488.8,195.6 L487.5,196.9 L486.3,198.3 L485.0,199.8 L483.9,201.2 L482.7,202.6 L481.5,204.0 L480.2,205.3 L478.9,206.7 L477.6,207.9 L476.3,209.2 L475.0,210.5 L473.7,211.9 L472.4,213.2 L471.3,214.7 L470.2,216.2 L469.3,217.8 L468.4,219.5 L467.6,221.2 L466.8,222.8 L465.9,224.5 L465.0,226.1 L464.2,227.8 L463.4,229.5 L462.8,231.3 L462.3,233.1 L462.0,234.9 L461.7,236.8 L461.4,238.6 L461.0,240.4 L460.7,242.2 L460.5,244.1 L460.4,245.9 L460.5,247.8 L460.8,249.7 L461.4,251.5 L462.0,253.3 L462.8,255.1 L463.6,256.9 L464.5,258.6 L465.5,260.2 L466.5,261.8 L467.7,263.4 L468.8,264.8 L469.9,266.3 L470.8,267.8 L471.5,269.2 L472.0,270.8 L472.2,272.4 L472.2,274.1 L472.3,275.8 L472.7,277.4 L473.3,278.9 L474.3,280.3 L475.5,281.5 L476.9,282.6 L478.3,283.6 L479.9,284.6 L481.4,285.5 L482.8,286.4 L484.1,287.3 L485.4,288.2 L486.7,289.1 L488.0,289.9 L489.2,290.8 L490.5,291.6 L491.7,292.4 L492.8,293.4 L493.9,294.4 L494.8,295.5 L495.7,296.6 L496.7,297.8 L497.6,299.0 L498.7,300.0 L499.9,300.9 L501.1,301.7 L502.4,302.5 L503.7,303.3 L504.9,304.2 L506.1,305.2 L507.3,306.1 L508.6,307.0 L509.9,307.7 L511.4,308.2 L512.8,308.6 L514.3,309.0 L515.8,309.3 L517.3,309.8 L518.7,310.2 L520.2,310.7 L521.6,311.1 L523.2,311.4 L524.7,311.6 L526.2,311.6 L527.8,311.5 L529.3,311.4 L530.8,311.3 L532.3,311.1 L533.8,311.0 L535.3,310.8 L536.8,310.6 L538.3,310.3 L539.8,310.0 L541.2,309.6 L542.7,309.2 L544.1,308.7 L545.4,308.0 L546.7,307.2 L548.0,306.3 L549.2,305.4 L550.4,304.4 L551.5,303.4 L552.6,302.3 L553.7,301.3 L554.7,300.2 L555.6,299.1 L556.4,297.8 L557.2,296.4 L557.9,295.0 L558.6,293.7 L559.3,292.6 L560.1,291.6 L561.1,290.8 L562.3,290.2 L563.5,289.7 L564.8,289.1 L565.9,288.5 L567.0,287.7 L568.1,286.9 L569.5,286.4 L571.0,285.9 L572.5,285.3 L574.1,284.8 L575.9,284.3 L577.6,283.8 L579.3,283.1 L580.9,282.3 L582.4,281.4 L583.7,280.3 L584.8,279.1 L585.8,277.8 L586.7,276.5 L587.4,275.1 L588.1,273.6 L588.5,272.1 L588.8,270.5 L588.8,268.9 L588.7,267.2 L588.4,265.6 L587.8,263.9 L587.2,262.3 L586.6,260.7 L586.1,259.2 L585.7,257.7 L585.4,256.2 L585.2,254.8Z" fill="none" stroke="#c030d0" stroke-width="1.35" stroke-linejoin="round"/>
<path d="M590.9,253.3 L590.9,251.8 L590.9,250.2 L590.9,248.6 L590.9,247.0 L590.9,245.4 L590.9,243.8 L590.9,242.2 L590.9,240.6 L590.8,238.9 L590.8,237.3 L590.8,235.6 L590.8,233.9 L591.6,231.8 L592.6,229.6 L593.5,227.4 L593.9,225.2 L593.6,223.4 L593.0,221.6 L592.2,220.0 L591.4,218.4 L590.5,216.7 L589.8,215.1 L589.0,213.4 L588.1,211.7 L587.2,210.1 L586.2,208.5 L585.2,206.9 L584.1,205.3 L583.0,203.8 L582.0,202.2 L580.9,200.6 L579.7,199.1 L578.4,197.6 L577.0,196.3 L575.5,195.1 L573.9,194.0 L572.3,193.0 L570.6,192.0 L569.1,190.9 L567.4,189.9 L565.8,188.9 L564.0,188.1 L562.2,187.4 L560.4,186.9 L558.5,186.4 L556.7,186.0 L554.8,185.5 L553.0,185.1 L551.1,184.8 L549.3,184.5 L547.4,184.2 L545.5,184.1 L543.6,184.1 L541.8,184.1 L539.9,184.0 L538.1,183.8 L536.3,183.7 L534.5,183.5 L532.6,183.5 L530.8,183.6 L529.0,183.7 L527.2,183.9 L525.3,184.0 L523.5,183.9 L521.6,183.8 L519.8,183.7 L517.9,183.7 L516.0,183.8 L514.2,184.1 L512.4,184.6 L510.6,185.2 L508.9,185.8 L507.1,186.4 L505.3,186.9 L503.5,187.4 L501.7,188.0 L499.9,188.7 L498.2,189.4 L496.6,190.3 L495.0,191.4 L493.5,192.4 L492.0,193.5 L490.5,194.7 L489.0,195.8 L487.5,196.9 L486.0,198.0 L484.5,199.1 L483.0,200.2 L481.5,201.4 L480.0,202.6 L478.6,203.9 L477.3,205.2 L476.1,206.6 L475.0,208.1 L473.9,209.7 L472.8,211.2 L471.7,212.7 L470.6,214.2 L469.5,215.8 L468.5,217.4 L467.6,219.0 L466.9,220.8 L466.4,222.6 L466.0,224.5 L465.7,226.4 L465.4,228.2 L465.1,230.1 L464.8,231.9 L464.4,233.7 L464.2,235.5 L464.0,237.3 L463.8,239.1 L463.6,240.9 L463.5,242.7 L463.4,244.5 L463.3,246.3 L463.3,248.0 L463.2,249.8 L463.3,251.6 L463.5,253.3 L463.9,255.1 L464.4,256.8 L465.0,258.5 L465.6,260.2 L466.2,261.9 L466.9,263.5 L467.6,265.1 L468.3,266.6 L469.1,268.2 L469.8,269.7 L470.4,271.2 L470.8,272.9 L471.0,274.5 L471.1,276.2 L471.4,278.0 L471.8,279.6 L472.5,281.1 L473.3,282.7 L474.1,284.1 L474.9,285.6 L475.6,287.1 L476.4,288.7 L477.1,290.2 L478.0,291.7 L479.2,293.0 L480.6,294.0 L482.2,294.8 L483.9,295.5 L485.7,296.2 L487.3,296.9 L488.8,297.6 L490.2,298.5 L491.4,299.4 L492.8,300.3 L494.1,301.1 L495.6,301.8 L497.1,302.4 L498.6,302.9 L500.2,303.4 L501.6,303.9 L503.1,304.3 L504.6,304.9 L506.0,305.3 L507.5,305.8 L508.9,306.1 L510.4,306.4 L511.9,306.8 L513.3,307.1 L514.8,307.4 L516.3,307.6 L517.7,307.8 L519.2,307.8 L520.7,307.8 L522.2,307.8 L523.6,307.8 L525.1,307.9 L526.5,308.1 L527.9,308.4 L529.4,308.6 L530.8,308.6 L532.2,308.5 L533.7,308.2 L535.1,307.8 L536.5,307.4 L537.9,306.9 L539.2,306.5 L540.6,306.1 L541.9,305.8 L543.3,305.4 L544.6,304.9 L545.9,304.4 L547.2,303.9 L548.5,303.2 L549.7,302.5 L550.8,301.7 L552.0,300.9 L553.1,300.2 L554.3,299.5 L555.5,298.8 L556.7,298.2 L557.9,297.5 L559.0,296.8 L560.1,295.9 L561.0,295.0 L562.0,294.0 L562.9,293.0 L563.9,292.1 L564.9,291.2 L565.9,290.3 L566.8,289.4 L567.5,288.2 L567.9,286.8 L568.5,285.5 L569.2,284.5 L570.2,283.6 L571.2,282.7 L572.5,282.0 L573.9,281.3 L575.6,280.8 L577.5,280.3 L579.4,279.7 L581.2,279.0 L582.8,278.1 L584.3,277.2 L585.8,276.1 L587.1,275.0 L588.3,273.7 L589.1,272.3 L589.7,270.8 L590.2,269.3 L590.4,267.7 L590.5,266.0 L590.5,264.4 L590.6,262.8 L590.6,261.2 L590.6,259.6 L590.7,258.1 L590.8,256.5 L590.9,254.9Z" fill="none" stroke="#c0c020" stroke-width="1.35" stroke-linejoin="round"/>
<path d="M591.0,253.3 L591.0,251.8 L591.0,250.2 L591.0,248.6 L591.1,247.0 L591.3,245.4 L591.5,243.7 L591.8,242.1 L592.0,240.3 L592.2,238.6 L592.4,236.8 L592.6,235.0 L592.8,233.2 L593.7,231.1 L594.7,228.8 L595.7,226.5 L596.2,224.2 L596.0,222.2 L595.7,220.3 L595.1,218.4 L594.4,216.6 L593.7,214.8 L592.8,213.1 L591.9,211.4 L590.8,209.7 L589.7,208.1 L588.5,206.6 L587.3,205.1 L586.0,203.7 L584.6,202.3 L583.2,201.0 L581.7,199.7 L580.1,198.6 L578.5,197.5 L576.9,196.4 L575.3,195.4 L573.6,194.4 L571.9,193.5 L570.2,192.7 L568.4,192.0 L566.6,191.3 L564.8,190.7 L563.0,190.1 L561.3,189.4 L559.6,188.7 L557.9,188.0 L556.1,187.4 L554.3,187.0 L552.5,186.5 L550.7,186.1 L548.9,185.7 L547.2,185.2 L545.4,184.6 L543.6,184.1 L541.8,183.6 L540.0,183.4 L538.2,183.3 L536.3,183.3 L534.5,183.4 L532.6,183.4 L530.8,183.4 L529.0,183.2 L527.1,182.9 L525.2,182.7 L523.4,182.6 L521.5,182.6 L519.6,182.8 L517.8,183.0 L515.9,183.2 L514.0,183.5 L512.1,183.7 L510.2,184.0 L508.4,184.4 L506.5,184.9 L504.8,185.5 L503.0,186.2 L501.3,187.1 L499.6,187.9 L497.9,188.8 L496.2,189.6 L494.5,190.4 L492.8,191.4 L491.2,192.4 L489.7,193.6 L488.4,195.0 L487.1,196.4 L485.9,197.9 L484.7,199.4 L483.5,200.8 L482.3,202.2 L481.0,203.6 L479.8,204.9 L478.5,206.3 L477.3,207.6 L476.1,209.1 L475.1,210.6 L474.0,212.1 L473.0,213.6 L471.9,215.1 L470.9,216.6 L469.9,218.2 L469.0,219.8 L468.1,221.4 L467.4,223.1 L466.7,224.8 L466.0,226.5 L465.4,228.2 L464.7,229.9 L464.0,231.7 L463.4,233.4 L463.0,235.2 L462.7,237.0 L462.5,238.8 L462.4,240.7 L462.5,242.5 L462.5,244.4 L462.6,246.2 L462.6,248.0 L462.7,249.8 L462.9,251.6 L463.3,253.3 L463.9,255.1 L464.6,256.8 L465.5,258.5 L466.5,260.1 L467.5,261.7 L468.4,263.2 L469.2,264.8 L470.0,266.3 L470.6,267.8 L471.2,269.3 L471.6,270.9 L471.8,272.5 L471.9,274.2 L471.9,276.0 L471.9,277.7 L472.0,279.5 L472.3,281.3 L472.6,283.0 L473.0,284.7 L473.5,286.5 L474.1,288.1 L474.9,289.7 L475.8,291.1 L476.9,292.5 L478.0,293.8 L479.3,295.1 L480.6,296.2 L482.0,297.3 L483.4,298.3 L484.9,299.3 L486.4,300.1 L488.0,300.9 L489.6,301.6 L491.2,302.3 L492.8,302.9 L494.3,303.5 L495.9,304.1 L497.5,304.7 L499.0,305.2 L500.6,305.7 L502.0,306.3 L503.5,307.0 L504.8,307.8 L506.2,308.7 L507.5,309.6 L508.9,310.5 L510.3,311.3 L511.8,311.9 L513.3,312.5 L514.8,313.0 L516.3,313.6 L517.9,314.2 L519.4,314.9 L520.9,315.6 L522.5,316.2 L524.2,316.5 L525.8,316.7 L527.5,316.7 L529.1,316.7 L530.8,316.6 L532.5,316.5 L534.1,316.4 L535.8,316.3 L537.4,316.1 L539.0,315.7 L540.6,315.3 L542.2,314.9 L543.8,314.4 L545.4,314.0 L546.9,313.6 L548.5,313.2 L550.1,312.8 L551.7,312.3 L553.2,311.7 L554.7,311.0 L556.1,310.2 L557.4,309.2 L558.7,308.2 L560.1,307.2 L561.3,306.3 L562.6,305.2 L563.8,304.1 L565.0,303.1 L566.1,301.9 L567.2,300.8 L568.2,299.6 L569.3,298.5 L570.4,297.3 L571.3,296.0 L572.1,294.6 L572.6,293.1 L572.5,290.9 L572.0,288.5 L571.3,286.2 L571.1,284.3 L571.2,282.7 L571.4,281.2 L571.8,279.9 L572.5,278.9 L573.6,278.0 L575.1,277.4 L576.7,276.8 L578.5,276.1 L580.2,275.3 L581.6,274.4 L583.2,273.4 L584.8,272.5 L586.4,271.4 L587.9,270.3 L589.1,269.0 L590.2,267.6 L590.7,266.1 L590.9,264.5 L591.2,262.9 L591.4,261.3 L591.4,259.7 L591.3,258.1 L591.2,256.5 L591.1,254.9Z" fill="none" stroke="#202020" stroke-width="1.35" stroke-linejoin="round"/>
<path d="M591.7,253.3 L591.3,251.8 L590.8,250.2 L590.3,248.7 L589.8,247.1 L589.5,245.6 L589.3,244.1 L589.2,242.5 L589.4,240.9 L589.6,239.2 L589.9,237.5 L590.1,235.8 L590.2,234.1 L590.9,232.1 L591.8,229.9 L592.5,227.8 L592.9,225.7 L592.6,223.9 L592.2,222.1 L591.6,220.3 L591.0,218.6 L590.5,216.8 L589.9,215.0 L589.2,213.2 L588.4,211.5 L587.4,209.9 L586.4,208.3 L585.2,206.9 L583.9,205.5 L582.7,204.1 L581.4,202.7 L580.2,201.3 L578.9,199.9 L577.7,198.4 L576.4,197.0 L575.1,195.6 L573.7,194.3 L572.3,193.0 L570.8,191.8 L569.3,190.6 L567.7,189.4 L566.1,188.3 L564.4,187.4 L562.7,186.4 L561.0,185.5 L559.3,184.7 L557.5,183.9 L555.6,183.2 L553.8,182.6 L551.9,182.2 L549.9,181.9 L548.0,181.8 L546.0,181.8 L544.0,181.9 L542.1,182.0 L540.2,182.2 L538.2,182.5 L536.4,182.8 L534.5,183.3 L532.6,183.8 L530.8,184.3 L529.0,184.7 L527.2,185.1 L525.5,185.5 L523.7,185.7 L521.9,185.9 L520.2,186.2 L518.4,186.4 L516.6,186.8 L514.9,187.0 L513.1,187.2 L511.3,187.4 L509.4,187.4 L507.5,187.5 L505.6,187.7 L503.7,188.0 L501.9,188.4 L500.1,189.0 L498.3,189.6 L496.5,190.2 L494.6,190.7 L492.8,191.3 L491.0,192.0 L489.3,192.9 L487.7,194.1 L486.4,195.5 L485.2,197.1 L484.2,198.8 L483.2,200.5 L482.2,202.2 L481.3,203.8 L480.3,205.4 L479.4,207.0 L478.4,208.6 L477.4,210.1 L476.5,211.7 L475.5,213.1 L474.5,214.6 L473.5,216.1 L472.6,217.7 L471.8,219.3 L471.1,220.9 L470.4,222.6 L469.6,224.2 L468.9,225.8 L468.0,227.3 L467.0,228.9 L466.1,230.4 L465.2,232.0 L464.4,233.7 L463.8,235.4 L463.2,237.1 L462.6,238.9 L462.0,240.6 L461.6,242.4 L461.1,244.2 L460.8,246.0 L460.6,247.8 L460.5,249.7 L460.5,251.5 L460.7,253.3 L461.1,255.2 L461.7,257.0 L462.6,258.7 L463.7,260.4 L465.0,262.0 L466.3,263.6 L467.5,265.1 L468.6,266.6 L469.5,268.1 L470.2,269.6 L470.8,271.1 L471.2,272.7 L471.5,274.4 L471.6,276.1 L471.8,277.8 L472.0,279.5 L472.4,281.2 L472.8,282.9 L473.3,284.6 L473.9,286.2 L474.8,287.7 L475.8,289.1 L476.8,290.4 L477.9,291.8 L479.0,293.1 L480.1,294.4 L481.3,295.6 L482.5,296.8 L483.8,298.0 L485.1,299.0 L486.5,300.0 L487.9,301.0 L489.3,301.9 L490.7,302.8 L492.1,303.8 L493.5,304.8 L494.8,305.7 L496.1,306.7 L497.5,307.7 L498.8,308.7 L500.2,309.6 L501.7,310.5 L503.2,311.2 L504.7,311.9 L506.3,312.4 L508.0,312.9 L509.6,313.3 L511.2,313.7 L512.8,314.1 L514.4,314.5 L516.0,314.9 L517.6,315.3 L519.3,315.5 L521.0,315.5 L522.6,315.3 L524.3,315.0 L526.0,314.6 L527.6,314.2 L529.2,313.7 L530.8,313.4 L532.4,313.2 L533.9,313.0 L535.5,312.9 L537.1,312.9 L538.6,312.8 L540.2,312.7 L541.8,312.6 L543.3,312.4 L544.9,312.2 L546.5,312.0 L548.2,311.9 L549.9,312.0 L551.6,312.1 L553.4,312.3 L555.3,312.5 L557.1,312.5 L559.0,312.4 L560.7,312.1 L562.4,311.6 L564.1,311.0 L565.7,310.3 L567.2,309.4 L568.7,308.5 L570.1,307.4 L571.4,306.2 L572.5,304.9 L573.5,303.3 L574.0,301.4 L574.4,299.3 L574.8,297.3 L575.0,295.3 L575.3,293.4 L575.5,291.5 L575.3,289.4 L574.8,287.1 L574.2,284.9 L573.7,282.8 L573.1,280.8 L572.7,279.0 L572.7,277.5 L573.5,276.5 L574.9,275.8 L576.6,275.2 L578.5,274.6 L580.2,273.8 L582.0,273.0 L583.8,272.1 L585.5,271.1 L587.1,270.0 L588.4,268.8 L589.6,267.5 L590.5,266.0 L591.2,264.6 L591.9,263.0 L592.5,261.5 L592.7,259.9 L592.7,258.2 L592.5,256.6 L592.2,255.0Z" fill="none" stroke="#2020ff" stroke-width="1.35" stroke-linejoin="round"/>
<path d="M591.3,253.3 L590.6,251.8 L590.0,250.2 L589.5,248.7 L589.4,247.2 L589.5,245.6 L589.7,244.0 L590.0,242.4 L590.1,240.7 L590.1,239.1 L590.0,237.5 L589.8,235.9 L589.7,234.2 L590.3,232.3 L591.3,230.1 L592.3,227.9 L593.0,225.7 L592.9,223.7 L592.6,221.8 L592.1,220.1 L591.3,218.4 L590.5,216.7 L589.7,215.1 L588.8,213.5 L587.9,211.9 L587.1,210.2 L586.3,208.4 L585.4,206.7 L584.5,205.0 L583.5,203.4 L582.2,202.0 L580.7,200.7 L579.1,199.7 L577.4,198.7 L575.8,197.8 L574.2,196.8 L572.6,195.8 L571.1,194.7 L569.6,193.6 L568.0,192.6 L566.4,191.6 L564.7,190.9 L563.0,190.2 L561.2,189.6 L559.5,189.0 L557.7,188.4 L555.9,187.9 L554.2,187.4 L552.4,186.9 L550.6,186.5 L548.8,186.0 L547.1,185.5 L545.3,185.1 L543.5,184.7 L541.7,184.4 L539.9,184.2 L538.1,184.1 L536.3,184.0 L534.4,183.9 L532.6,183.8 L530.8,183.8 L529.0,183.9 L527.2,184.1 L525.4,184.5 L523.6,185.0 L521.9,185.4 L520.1,185.7 L518.3,185.9 L516.5,186.1 L514.7,186.2 L512.9,186.5 L511.2,187.1 L509.5,187.8 L507.8,188.5 L506.1,189.1 L504.4,189.6 L502.5,189.9 L500.6,190.1 L498.6,190.2 L496.7,190.6 L494.9,191.1 L493.1,191.9 L491.4,192.8 L489.8,193.7 L488.2,194.7 L486.6,195.8 L485.0,196.8 L483.5,198.0 L482.1,199.2 L480.8,200.7 L479.7,202.2 L478.6,203.8 L477.5,205.4 L476.4,206.9 L475.3,208.4 L474.3,210.0 L473.2,211.5 L472.2,213.1 L471.4,214.7 L470.5,216.4 L469.8,218.1 L469.0,219.8 L468.3,221.5 L467.5,223.2 L466.7,224.8 L465.8,226.4 L464.9,228.1 L464.0,229.7 L463.2,231.4 L462.5,233.1 L461.9,234.9 L461.6,236.7 L461.2,238.6 L460.9,240.4 L460.5,242.2 L460.1,244.0 L459.6,245.9 L459.3,247.7 L459.1,249.6 L459.2,251.5 L459.6,253.3 L460.4,255.2 L461.4,257.0 L462.5,258.7 L463.6,260.4 L464.6,262.1 L465.5,263.7 L466.4,265.3 L467.3,266.9 L468.2,268.4 L469.1,269.9 L470.2,271.3 L471.0,272.8 L471.7,274.3 L472.1,275.9 L472.4,277.5 L472.7,279.2 L473.0,280.9 L473.3,282.7 L473.7,284.4 L474.3,286.0 L475.2,287.4 L476.2,288.8 L477.3,290.1 L478.5,291.4 L479.6,292.7 L480.6,294.0 L481.5,295.4 L482.6,296.8 L483.7,298.1 L484.9,299.2 L486.3,300.2 L487.8,301.1 L489.4,301.9 L490.9,302.7 L492.3,303.5 L493.6,304.5 L495.0,305.5 L496.3,306.5 L497.6,307.5 L499.0,308.4 L500.5,309.2 L501.9,310.1 L503.3,310.9 L504.8,311.8 L506.3,312.6 L507.8,313.3 L509.4,313.9 L511.0,314.4 L512.6,314.9 L514.2,315.3 L515.8,315.7 L517.5,316.1 L519.1,316.5 L520.7,316.9 L522.4,317.2 L524.1,317.5 L525.7,317.7 L527.4,317.8 L529.1,317.7 L530.8,317.5 L532.5,317.0 L534.1,316.4 L535.7,315.7 L537.3,315.0 L538.9,314.5 L540.4,314.2 L542.0,314.0 L543.6,313.7 L545.2,313.4 L546.8,313.0 L548.3,312.4 L549.8,311.8 L551.3,311.3 L552.9,310.9 L554.5,310.7 L556.2,310.5 L557.9,310.3 L559.6,309.8 L561.1,309.2 L562.6,308.4 L564.0,307.5 L565.4,306.7 L566.9,305.9 L568.5,305.3 L570.1,304.6 L571.7,303.9 L573.2,303.0 L574.5,301.9 L575.8,300.7 L576.9,299.5 L578.1,298.2 L579.3,297.0 L580.4,295.8 L581.6,294.5 L582.5,293.0 L583.4,291.5 L584.0,289.9 L584.6,288.3 L585.1,286.6 L585.6,285.0 L586.3,283.5 L586.9,281.9 L587.5,280.4 L588.2,278.9 L588.8,277.4 L589.5,275.9 L590.1,274.3 L590.5,272.8 L590.9,271.1 L591.1,269.5 L591.1,267.8 L591.2,266.2 L591.3,264.6 L591.5,263.0 L591.7,261.4 L592.0,259.8 L592.2,258.2 L592.2,256.6 L591.9,254.9Z" fill="none" stroke="#1a7a1a" stroke-width="1.35" stroke-linejoin="round"/>
<path d="M590.3,253.3 L590.6,251.8 L590.9,250.2 L591.4,248.6 L591.9,246.9 L592.3,245.3 L592.6,243.6 L592.7,241.9 L592.8,240.2 L592.8,238.5 L592.8,236.7 L592.9,234.9 L593.0,233.1 L593.7,231.1 L594.5,228.9 L595.0,226.7 L595.0,224.7 L594.4,223.0 L593.6,221.3 L592.9,219.6 L592.2,217.9 L591.5,216.1 L590.8,214.4 L589.8,212.8 L588.6,211.3 L587.4,210.0 L586.0,208.6 L584.8,207.3 L583.6,205.8 L582.5,204.3 L581.4,202.7 L580.3,201.2 L579.0,199.8 L577.7,198.4 L576.3,197.2 L574.8,196.0 L573.3,194.8 L571.9,193.6 L570.4,192.3 L568.9,191.1 L567.4,190.0 L565.7,189.0 L564.0,188.2 L562.3,187.4 L560.5,186.7 L558.7,186.1 L556.8,185.5 L555.0,185.0 L553.1,184.6 L551.3,184.3 L549.4,183.9 L547.5,183.6 L545.7,183.3 L543.8,183.1 L541.9,183.1 L540.0,183.1 L538.2,183.3 L536.3,183.7 L534.4,184.0 L532.6,184.3 L530.8,184.5 L529.0,184.6 L527.2,184.6 L525.4,184.5 L523.6,184.6 L521.8,184.8 L520.0,185.0 L518.2,185.2 L516.4,185.4 L514.5,185.6 L512.7,185.6 L510.8,185.7 L508.9,185.8 L507.0,186.0 L505.1,186.4 L503.2,186.8 L501.4,187.3 L499.6,187.9 L497.7,188.5 L495.9,189.1 L494.0,189.7 L492.2,190.4 L490.4,191.2 L488.7,192.1 L487.1,193.2 L485.6,194.4 L484.1,195.7 L482.7,197.1 L481.4,198.5 L480.1,200.0 L478.9,201.5 L477.7,203.0 L476.6,204.5 L475.5,206.1 L474.4,207.7 L473.4,209.3 L472.4,210.9 L471.4,212.5 L470.5,214.2 L469.7,215.9 L469.0,217.7 L468.4,219.5 L468.0,221.3 L467.6,223.2 L467.3,225.1 L466.9,226.9 L466.6,228.7 L466.3,230.5 L466.0,232.3 L465.7,234.1 L465.4,235.8 L465.1,237.6 L464.7,239.3 L464.2,241.0 L463.7,242.7 L463.2,244.5 L462.8,246.2 L462.4,248.0 L462.3,249.8 L462.3,251.6 L462.5,253.3 L462.8,255.1 L463.3,256.9 L463.9,258.6 L464.5,260.3 L465.1,262.0 L465.8,263.6 L466.6,265.3 L467.3,266.8 L468.0,268.4 L468.6,270.0 L469.2,271.6 L469.5,273.3 L469.8,275.0 L470.1,276.6 L470.5,278.3 L471.2,279.9 L472.0,281.4 L472.9,282.9 L473.7,284.3 L474.6,285.8 L475.4,287.3 L476.3,288.7 L477.4,290.1 L478.5,291.4 L479.7,292.6 L481.1,293.6 L482.5,294.6 L483.9,295.6 L485.3,296.5 L486.6,297.5 L487.9,298.5 L489.2,299.6 L490.4,300.7 L491.5,301.8 L492.7,303.1 L493.8,304.3 L494.9,305.6 L496.1,306.7 L497.4,307.8 L498.8,308.8 L500.2,309.8 L501.6,310.8 L503.0,311.7 L504.4,312.6 L505.9,313.4 L507.5,314.1 L509.1,314.7 L510.7,315.2 L512.3,315.7 L514.0,316.2 L515.6,316.7 L517.2,317.4 L518.8,318.0 L520.5,318.6 L522.1,319.1 L523.9,319.4 L525.6,319.6 L527.3,319.7 L529.1,319.7 L530.8,319.6 L532.5,319.4 L534.2,319.1 L535.9,318.8 L537.6,318.4 L539.3,317.9 L541.0,317.5 L542.6,317.2 L544.3,316.9 L546.0,316.7 L547.7,316.5 L549.4,316.2 L551.1,315.9 L552.8,315.5 L554.4,315.0 L556.0,314.3 L557.6,313.5 L559.1,312.7 L560.6,311.8 L562.0,310.9 L563.5,309.9 L564.8,308.9 L566.2,307.9 L567.6,306.9 L569.0,305.9 L570.3,304.8 L571.6,303.7 L572.9,302.6 L574.1,301.5 L575.4,300.3 L576.6,299.2 L577.9,298.0 L579.1,296.8 L580.1,295.5 L581.0,294.0 L581.8,292.5 L582.6,291.0 L583.2,289.4 L583.8,287.8 L584.5,286.2 L585.1,284.7 L585.7,283.1 L586.2,281.6 L586.6,280.0 L586.9,278.3 L587.1,276.7 L587.3,275.0 L587.5,273.4 L587.6,271.8 L587.8,270.2 L587.9,268.7 L588.1,267.1 L588.4,265.6 L588.7,264.1 L589.1,262.6 L589.4,261.1 L589.7,259.5 L590.0,258.0 L590.1,256.5 L590.2,254.9Z" fill="none" stroke="#ff1010" stroke-width="1.35" stroke-linejoin="round"/>
<path d="M590.6,253.3 L590.5,251.8 L590.3,250.2 L590.0,248.7 L589.8,247.1 L589.8,245.6 L589.8,244.0 L589.8,242.4 L589.8,240.8 L589.8,239.2 L589.8,237.5 L589.7,235.9 L589.7,234.2 L590.3,232.3 L591.2,230.2 L592.0,228.0 L592.5,225.9 L592.4,224.0 L592.1,222.1 L591.7,220.3 L591.2,218.5 L590.7,216.6 L590.1,214.9 L589.3,213.2 L588.4,211.5 L587.4,209.9 L586.4,208.3 L585.4,206.7 L584.3,205.1 L583.2,203.6 L582.0,202.1 L580.7,200.7 L579.3,199.5 L577.8,198.3 L576.2,197.3 L574.7,196.2 L573.1,195.1 L571.5,194.1 L570.0,193.0 L568.4,192.0 L566.8,191.0 L565.2,190.1 L563.4,189.3 L561.7,188.5 L560.0,187.8 L558.2,187.1 L556.5,186.5 L554.7,185.9 L552.9,185.5 L551.0,185.0 L549.2,184.7 L547.4,184.4 L545.5,184.1 L543.7,183.9 L541.8,183.8 L540.0,183.7 L538.1,183.7 L536.3,183.8 L534.4,183.9 L532.6,184.1 L530.8,184.3 L529.0,184.4 L527.2,184.5 L525.4,184.4 L523.5,184.3 L521.7,184.2 L519.8,184.0 L517.9,184.0 L516.1,184.1 L514.3,184.5 L512.5,185.0 L510.7,185.6 L509.0,186.3 L507.3,186.9 L505.5,187.3 L503.6,187.7 L501.7,188.1 L499.9,188.5 L498.0,189.0 L496.2,189.6 L494.4,190.3 L492.5,190.9 L490.7,191.6 L488.8,192.3 L487.1,193.1 L485.4,194.2 L483.9,195.4 L482.5,196.8 L481.3,198.4 L480.2,200.0 L479.1,201.6 L478.0,203.2 L476.8,204.7 L475.6,206.2 L474.4,207.7 L473.4,209.3 L472.4,210.9 L471.5,212.6 L470.8,214.4 L470.2,216.2 L469.6,218.0 L469.2,219.9 L468.8,221.7 L468.4,223.6 L468.0,225.4 L467.7,227.2 L467.4,229.0 L467.2,230.8 L467.1,232.7 L467.0,234.5 L466.9,236.2 L466.7,237.9 L466.2,239.6 L465.5,241.2 L464.7,242.9 L464.0,244.6 L463.4,246.3 L463.1,248.0 L463.0,249.8 L463.0,251.6 L463.2,253.3 L463.3,255.1 L463.5,256.9 L463.8,258.6 L464.4,260.3 L465.2,262.0 L466.2,263.6 L467.3,265.1 L468.4,266.6 L469.2,268.1 L469.6,269.7 L470.0,271.4 L470.1,273.1 L470.2,274.8 L470.5,276.5 L471.1,278.1 L471.8,279.6 L472.6,281.1 L473.3,282.7 L473.8,284.3 L474.4,285.9 L475.1,287.5 L475.9,289.0 L477.0,290.3 L478.2,291.6 L479.4,292.8 L480.5,294.1 L481.6,295.4 L482.7,296.7 L483.8,298.0 L485.0,299.1 L486.4,300.2 L487.8,301.1 L489.2,302.1 L490.5,303.1 L491.8,304.2 L493.1,305.3 L494.5,306.2 L496.1,306.8 L497.8,307.3 L499.5,307.6 L501.2,307.9 L502.8,308.3 L504.3,308.9 L505.7,309.7 L507.2,310.4 L508.7,311.0 L510.2,311.4 L511.8,311.8 L513.4,312.1 L514.9,312.7 L516.4,313.4 L517.9,314.2 L519.4,314.9 L521.0,315.4 L522.6,315.7 L524.3,315.7 L525.9,315.6 L527.5,315.6 L529.2,315.9 L530.8,316.2 L532.5,316.5 L534.1,316.7 L535.8,316.5 L537.4,316.1 L539.0,315.6 L540.6,315.1 L542.2,314.9 L543.9,314.8 L545.5,314.7 L547.2,314.6 L548.8,314.3 L550.4,313.6 L551.9,312.9 L553.3,312.0 L554.8,311.3 L556.3,310.6 L557.9,310.1 L559.4,309.5 L560.9,308.8 L562.4,308.0 L563.8,307.1 L565.1,306.2 L566.5,305.3 L568.0,304.5 L569.5,303.7 L570.9,302.9 L572.3,302.0 L573.7,301.0 L574.9,299.9 L576.2,298.8 L577.6,297.7 L579.0,296.8 L580.5,295.8 L582.0,294.8 L583.4,293.7 L584.6,292.4 L585.7,291.1 L586.7,289.6 L587.5,288.1 L588.4,286.6 L589.2,285.0 L589.9,283.4 L590.5,281.8 L590.9,280.1 L591.4,278.4 L591.8,276.8 L592.2,275.1 L592.7,273.4 L592.9,271.8 L593.0,270.0 L592.8,268.2 L592.4,266.4 L591.8,264.6 L591.1,262.9 L590.7,261.2 L590.4,259.6 L590.4,258.0 L590.5,256.5 L590.6,254.9Z" fill="none" stroke="#30d8d8" stroke-width="1.35" stroke-linejoin="round"/>
<path d="M587.3,253.3 L587.7,251.9 L588.1,250.3 L588.6,248.8 L588.9,247.2 L589.1,245.7 L589.4,244.1 L589.6,242.4 L590.1,240.8 L590.7,239.0 L591.3,237.1 L592.0,235.2 L592.6,233.3 L593.6,231.1 L594.7,228.8 L595.6,226.5 L596.1,224.3 L596.0,222.3 L595.6,220.3 L595.0,218.5 L594.3,216.7 L593.5,214.9 L592.6,213.2 L591.7,211.5 L590.7,209.8 L589.5,208.3 L588.2,206.8 L586.8,205.5 L585.2,204.4 L583.5,203.3 L581.8,202.3 L580.2,201.3 L578.8,200.1 L577.3,198.9 L575.9,197.6 L574.5,196.4 L572.9,195.4 L571.3,194.4 L569.7,193.5 L568.1,192.6 L566.5,191.6 L564.9,190.6 L563.2,189.7 L561.5,189.0 L559.7,188.3 L557.9,187.8 L556.1,187.4 L554.3,186.9 L552.6,186.4 L550.8,185.8 L549.0,185.3 L547.2,184.9 L545.4,184.7 L543.5,184.7 L541.7,184.8 L539.8,184.8 L538.0,184.7 L536.2,184.5 L534.4,184.3 L532.6,184.1 L530.8,184.1 L529.0,184.1 L527.2,184.3 L525.4,184.5 L523.6,184.6 L521.7,184.6 L519.9,184.5 L518.0,184.3 L516.1,184.3 L514.2,184.3 L512.3,184.4 L510.4,184.6 L508.5,184.9 L506.6,185.1 L504.7,185.4 L502.8,185.8 L501.0,186.3 L499.1,186.9 L497.3,187.6 L495.5,188.4 L493.8,189.3 L492.1,190.2 L490.5,191.3 L489.0,192.5 L487.7,194.0 L486.5,195.6 L485.4,197.2 L484.3,198.9 L483.3,200.6 L482.3,202.2 L481.2,203.8 L480.2,205.3 L479.1,206.8 L478.1,208.4 L477.1,209.8 L476.0,211.3 L475.0,212.8 L474.1,214.4 L473.2,215.9 L472.4,217.6 L471.6,219.1 L470.6,220.7 L469.6,222.2 L468.4,223.6 L467.2,225.0 L466.1,226.6 L465.3,228.2 L464.8,230.0 L464.4,231.8 L464.2,233.6 L463.9,235.4 L463.3,237.2 L462.5,238.8 L461.6,240.5 L460.8,242.3 L460.2,244.1 L460.0,245.9 L460.0,247.8 L460.3,249.7 L460.7,251.5 L461.2,253.3 L461.9,255.2 L462.7,256.9 L463.8,258.6 L465.0,260.3 L466.3,261.8 L467.4,263.4 L468.4,264.9 L469.1,266.5 L469.7,268.0 L470.2,269.6 L470.8,271.1 L471.3,272.7 L471.7,274.3 L471.9,276.0 L471.9,277.7 L471.9,279.6 L471.8,281.5 L471.9,283.4 L472.2,285.1 L472.9,286.8 L473.9,288.2 L475.0,289.6 L476.0,291.0 L477.0,292.4 L478.0,293.9 L479.0,295.3 L480.1,296.6 L481.5,297.7 L483.1,298.6 L484.8,299.4 L486.4,300.1 L488.0,300.9 L489.5,301.7 L491.0,302.5 L492.5,303.3 L494.0,304.0 L495.6,304.6 L497.1,305.2 L498.7,305.8 L500.1,306.5 L501.5,307.3 L502.9,308.1 L504.3,308.9 L505.7,309.6 L507.2,310.3 L508.7,311.0 L510.1,311.7 L511.6,312.6 L513.0,313.5 L514.4,314.4 L515.9,315.2 L517.5,315.9 L519.1,316.4 L520.7,316.8 L522.4,317.2 L524.0,317.7 L525.7,318.0 L527.4,318.2 L529.1,318.2 L530.8,318.0 L532.5,317.7 L534.2,317.3 L535.8,316.9 L537.5,316.7 L539.1,316.4 L540.7,316.1 L542.3,315.5 L543.9,314.7 L545.3,313.8 L546.8,313.0 L548.2,312.2 L549.8,311.7 L551.3,311.4 L552.9,311.0 L554.5,310.6 L556.0,309.9 L557.4,309.0 L558.7,308.1 L560.1,307.3 L561.6,306.7 L563.2,306.2 L564.9,305.8 L566.5,305.3 L568.0,304.6 L569.5,303.7 L570.9,302.8 L572.3,302.0 L573.9,301.2 L575.6,300.5 L577.2,299.7 L578.7,298.8 L580.0,297.7 L581.1,296.3 L582.1,294.9 L583.0,293.4 L584.0,292.0 L585.1,290.6 L586.2,289.3 L587.2,287.9 L587.9,286.3 L588.4,284.6 L588.6,282.8 L588.7,281.0 L588.8,279.2 L589.0,277.4 L589.2,275.8 L589.5,274.1 L589.6,272.5 L589.6,270.8 L589.4,269.1 L589.2,267.4 L588.9,265.7 L588.6,264.1 L588.3,262.5 L587.9,260.9 L587.6,259.3 L587.3,257.8 L587.1,256.3 L587.1,254.8Z" fill="none" stroke="#d020d0" stroke-width="1.35" stroke-linejoin="round"/>
<ellipse cx="530.8" cy="253.35" rx="77.0" ry="77.9" fill="none" stroke="#1a1a1a" stroke-width="1.0"/>
<path d="M604.3,253.35H607.8M457.29999999999995,253.35H453.79999999999995M530.8,178.95V175.45M530.8,327.75V331.25" stroke="#111" stroke-width="1.6"/>
<circle cx="517.19" cy="239.74" r="0.9" fill="#222"/>
<circle cx="503.58" cy="226.13" r="0.9" fill="#222"/>
<circle cx="489.96" cy="212.51" r="0.9" fill="#222"/>
<circle cx="476.35" cy="198.90" r="0.9" fill="#222"/>
<text x="430.9" y="158.9" font-family='"Liberation Sans", Arial, sans-serif' font-size="10.3" textLength="197.6" lengthAdjust="spacingAndGlyphs" fill="#000" stroke="#000" stroke-width="0.25">ZX Plane (+Z = 0°, +X = +90°) / Azimuth = 0 °</text>
<text x="523.3" y="171.5" font-family='"Liberation Sans", Arial, sans-serif' font-size="10.2" textLength="14.52" lengthAdjust="spacingAndGlyphs" fill="#000" stroke="#000" stroke-width="0.25">90°</text>
<text x="521.7" y="340.5" font-family='"Liberation Sans", Arial, sans-serif' font-size="10.2" textLength="17.71" lengthAdjust="spacingAndGlyphs" fill="#000" stroke="#000" stroke-width="0.25">-90°</text>
<text x="609.6" y="256.5" font-family='"Liberation Sans", Arial, sans-serif' font-size="10.2" textLength="9.18" lengthAdjust="spacingAndGlyphs" fill="#000" stroke="#000" stroke-width="0.25">0°</text>
<text x="434.6" y="255.8" font-family='"Liberation Sans", Arial, sans-serif' font-size="10.2" textLength="25.12" lengthAdjust="spacingAndGlyphs" fill="#000" stroke="#000" stroke-width="0.25">±180°</text>
<text x="463.3" y="197.5" font-family='"Liberation Sans", Arial, sans-serif' font-size="10.2" textLength="19.75" lengthAdjust="spacingAndGlyphs" fill="#000" stroke="#000" stroke-width="0.25">5 dB</text>
<text x="476.5" y="211.2" font-family='"Liberation Sans", Arial, sans-serif' font-size="10.2" textLength="22.94" lengthAdjust="spacingAndGlyphs" fill="#000" stroke="#000" stroke-width="0.25">-5 dB</text>
<text x="487.9" y="224.7" font-family='"Liberation Sans", Arial, sans-serif' font-size="10.2" textLength="28.28" lengthAdjust="spacingAndGlyphs" fill="#000" stroke="#000" stroke-width="0.25">-15 dB</text>
<text x="501.0" y="238.8" font-family='"Liberation Sans", Arial, sans-serif' font-size="10.2" textLength="28.28" lengthAdjust="spacingAndGlyphs" fill="#000" stroke="#000" stroke-width="0.25">-25 dB</text>
<ellipse cx="292.2" cy="465.4" rx="77.0" ry="77.9" fill="#fff"/>
<ellipse cx="292.2" cy="465.4" rx="19.25" ry="19.48" fill="none" stroke="#262626" stroke-width="0.85"/>
<ellipse cx="292.2" cy="465.4" rx="38.50" ry="38.95" fill="none" stroke="#262626" stroke-width="0.85"/>
<ellipse cx="292.2" cy="465.4" rx="57.75" ry="58.43" fill="none" stroke="#262626" stroke-width="0.85"/>
<line x1="215.2" y1="465.4" x2="369.2" y2="465.4" stroke="#262626" stroke-width="0.85"/>
<line x1="292.2" y1="387.5" x2="292.2" y2="543.3" stroke="#262626" stroke-width="0.85"/>
<path d="M351.3,465.4 L351.3,463.9 L351.3,462.3 L351.3,460.7 L351.4,459.2 L351.5,457.6 L351.7,456.0 L351.7,454.4 L351.7,452.8 L351.7,451.1 L351.7,449.4 L351.5,447.8 L351.1,446.3 L350.6,444.7 L350.2,443.1 L349.7,441.6 L349.1,440.1 L348.1,438.7 L347.0,437.5 L345.5,436.5 L343.8,435.6 L341.9,434.9 L340.1,434.3 L338.4,433.6 L337.0,432.9 L335.7,432.0 L334.7,431.0 L333.7,429.9 L332.8,428.9 L331.8,427.8 L330.6,427.0 L329.4,426.2 L328.2,425.4 L326.9,424.8 L325.6,424.2 L324.2,423.6 L322.9,423.1 L321.6,422.6 L320.4,421.9 L319.3,421.2 L318.1,420.5 L316.9,419.9 L315.6,419.4 L314.3,419.1 L312.9,418.8 L311.6,418.6 L310.3,418.3 L309.0,417.9 L307.8,417.4 L306.6,416.8 L305.3,416.4 L304.0,416.1 L302.7,416.2 L301.3,416.5 L299.9,416.9 L298.5,417.2 L297.2,417.4 L296.0,417.5 L294.7,417.5 L293.5,417.6 L292.2,417.6 L291.0,417.7 L289.7,417.7 L288.4,417.5 L287.1,417.1 L285.8,416.6 L284.4,416.0 L283.0,415.7 L281.6,415.7 L280.3,415.8 L279.0,416.1 L277.7,416.5 L276.4,416.8 L275.0,416.9 L273.6,416.9 L272.1,416.9 L270.6,417.0 L269.2,417.2 L267.8,417.5 L266.4,417.8 L264.9,418.1 L263.4,418.4 L261.8,418.6 L260.3,418.9 L258.8,419.4 L257.4,420.0 L256.0,420.7 L254.7,421.5 L253.3,422.2 L251.8,422.9 L250.3,423.5 L248.7,424.1 L247.1,424.8 L245.4,425.4 L243.8,426.2 L242.3,427.1 L240.7,428.0 L239.2,428.9 L237.7,430.0 L236.2,431.1 L234.9,432.3 L233.7,433.6 L232.7,435.1 L231.9,436.6 L231.0,438.2 L230.1,439.7 L229.0,441.1 L227.8,442.6 L226.6,444.1 L225.6,445.7 L224.8,447.3 L224.3,449.1 L224.0,450.9 L223.7,452.7 L223.4,454.5 L223.0,456.3 L222.6,458.1 L222.3,459.9 L222.3,461.7 L222.5,463.6 L222.9,465.4 L223.1,467.2 L223.3,469.0 L223.4,470.8 L223.4,472.6 L223.6,474.4 L224.0,476.2 L224.9,477.9 L226.1,479.5 L227.3,481.0 L228.5,482.5 L229.6,483.9 L230.6,485.4 L231.4,486.9 L232.3,488.4 L233.0,489.9 L233.7,491.4 L234.3,493.0 L234.8,494.6 L235.3,496.3 L235.8,497.9 L236.5,499.5 L237.4,501.0 L238.4,502.4 L239.5,503.7 L240.6,505.0 L241.7,506.3 L242.7,507.7 L243.6,509.1 L244.6,510.5 L245.7,511.9 L247.0,513.1 L248.3,514.1 L249.8,515.1 L251.2,516.0 L252.7,516.9 L254.1,517.8 L255.6,518.7 L257.1,519.5 L258.7,520.1 L260.3,520.7 L261.9,521.2 L263.6,521.6 L265.2,522.0 L266.8,522.4 L268.4,522.8 L270.0,523.1 L271.6,523.4 L273.3,523.7 L274.9,523.8 L276.5,523.9 L278.1,524.0 L279.7,524.1 L281.3,524.2 L282.9,524.2 L284.5,524.2 L286.0,524.2 L287.6,524.2 L289.1,524.2 L290.7,524.3 L292.2,524.3 L293.7,524.2 L295.3,524.2 L296.8,524.0 L298.3,523.8 L299.9,523.6 L301.4,523.5 L302.9,523.3 L304.5,523.1 L306.0,522.8 L307.5,522.5 L309.0,522.1 L310.5,521.6 L312.0,521.2 L313.5,520.9 L315.1,520.6 L316.6,520.3 L318.2,519.9 L319.8,519.5 L321.2,518.9 L322.6,518.1 L324.0,517.3 L325.3,516.4 L326.6,515.5 L328.0,514.6 L329.2,513.7 L330.5,512.7 L331.7,511.6 L332.8,510.5 L333.9,509.4 L335.1,508.3 L336.2,507.2 L337.4,506.1 L338.7,505.1 L339.9,504.0 L341.0,502.8 L342.0,501.6 L342.8,500.2 L343.6,498.8 L344.2,497.3 L344.8,495.8 L345.4,494.3 L345.9,492.8 L346.4,491.3 L346.9,489.8 L347.4,488.2 L347.8,486.7 L348.2,485.2 L348.7,483.7 L349.0,482.2 L349.4,480.7 L349.6,479.2 L349.8,477.6 L350.0,476.1 L350.2,474.6 L350.4,473.1 L350.7,471.5 L350.9,470.0 L351.1,468.5 L351.2,466.9Z" fill="none" stroke="#3030ff" stroke-width="1.35" stroke-linejoin="round"/>
<path d="M352.2,465.4 L352.2,463.8 L352.3,462.3 L352.2,460.7 L352.2,459.1 L351.9,457.5 L351.6,456.0 L351.3,454.4 L350.9,452.9 L350.5,451.4 L350.2,449.9 L349.9,448.3 L349.5,446.8 L349.1,445.3 L348.6,443.8 L348.0,442.3 L347.4,440.8 L346.7,439.4 L345.9,438.1 L345.0,436.8 L344.0,435.5 L342.9,434.3 L341.8,433.2 L340.6,432.1 L339.4,431.1 L338.1,430.2 L336.9,429.2 L335.8,428.2 L334.7,427.1 L333.7,426.1 L332.6,425.0 L331.6,423.9 L330.6,422.8 L329.5,421.7 L328.4,420.7 L327.3,419.6 L326.3,418.5 L325.2,417.4 L324.0,416.4 L322.9,415.4 L321.6,414.4 L320.3,413.6 L319.0,412.8 L317.6,412.1 L316.3,411.3 L314.9,410.6 L313.5,410.0 L312.0,409.5 L310.5,409.1 L308.9,408.9 L307.4,408.7 L305.8,408.6 L304.3,408.4 L302.8,408.1 L301.3,407.9 L299.8,407.8 L298.3,407.7 L296.7,407.9 L295.2,408.2 L293.7,408.5 L292.2,408.7 L290.7,408.8 L289.2,408.6 L287.7,408.3 L286.2,407.9 L284.6,407.7 L283.1,407.8 L281.6,408.0 L280.1,408.4 L278.6,408.9 L277.2,409.5 L275.8,410.0 L274.3,410.5 L272.9,411.0 L271.6,411.6 L270.2,412.3 L268.9,413.0 L267.6,413.7 L266.3,414.5 L265.0,415.3 L263.8,416.1 L262.5,417.0 L261.4,417.9 L260.2,418.8 L259.0,419.7 L257.8,420.6 L256.5,421.4 L255.3,422.2 L254.0,423.0 L252.7,423.8 L251.5,424.7 L250.3,425.6 L249.1,426.6 L247.8,427.5 L246.5,428.4 L245.2,429.3 L243.9,430.3 L242.7,431.4 L241.6,432.5 L240.6,433.8 L239.5,435.0 L238.3,436.1 L237.0,437.3 L235.6,438.4 L234.2,439.6 L232.8,440.8 L231.5,442.1 L230.4,443.5 L229.5,445.0 L228.8,446.6 L228.1,448.2 L227.4,449.8 L226.7,451.5 L225.9,453.1 L225.1,454.8 L224.4,456.5 L223.7,458.2 L223.1,460.0 L222.6,461.8 L222.4,463.6 L222.3,465.4 L222.4,467.2 L222.5,469.1 L222.8,470.9 L223.1,472.7 L223.5,474.4 L223.9,476.2 L224.4,478.0 L225.1,479.7 L225.8,481.3 L226.5,483.0 L227.2,484.6 L227.7,486.3 L228.2,488.1 L228.6,489.8 L229.0,491.6 L229.5,493.3 L230.2,495.0 L231.0,496.6 L231.9,498.1 L233.0,499.6 L234.1,501.0 L235.2,502.4 L236.3,503.8 L237.4,505.2 L238.5,506.6 L239.7,507.9 L240.9,509.2 L242.2,510.4 L243.6,511.5 L245.0,512.6 L246.6,513.4 L248.2,514.2 L249.8,515.0 L251.4,515.8 L252.9,516.6 L254.4,517.5 L255.8,518.4 L257.2,519.3 L258.6,520.3 L260.0,521.1 L261.6,521.8 L263.2,522.4 L264.8,522.9 L266.4,523.3 L268.0,523.7 L269.7,524.0 L271.4,524.2 L273.1,524.3 L274.7,524.4 L276.4,524.4 L278.0,524.5 L279.6,524.7 L281.2,524.9 L282.7,525.1 L284.3,525.2 L285.9,525.2 L287.5,525.0 L289.1,524.8 L290.6,524.6 L292.2,524.6 L293.8,524.6 L295.3,524.7 L296.9,524.7 L298.4,524.4 L299.9,524.0 L301.4,523.3 L302.8,522.7 L304.3,522.1 L305.7,521.8 L307.3,521.7 L308.9,521.7 L310.5,521.6 L312.0,521.4 L313.5,521.0 L315.0,520.4 L316.4,519.7 L317.8,519.1 L319.3,518.5 L320.7,518.0 L322.2,517.4 L323.6,516.7 L324.9,515.8 L326.1,514.8 L327.2,513.6 L328.2,512.3 L329.2,511.1 L330.3,510.0 L331.3,508.8 L332.3,507.7 L333.4,506.6 L334.4,505.5 L335.6,504.4 L336.8,503.5 L338.1,502.6 L339.4,501.6 L340.7,500.7 L341.9,499.6 L342.9,498.3 L343.8,497.0 L344.6,495.6 L345.4,494.3 L346.3,493.0 L347.4,491.7 L348.5,490.5 L349.5,489.1 L350.4,487.7 L351.0,486.2 L351.4,484.6 L351.6,483.0 L351.8,481.4 L352.1,479.8 L352.3,478.2 L352.6,476.6 L352.8,475.0 L352.9,473.4 L352.8,471.8 L352.6,470.2 L352.4,468.6 L352.3,467.0Z" fill="none" stroke="#208020" stroke-width="1.35" stroke-linejoin="round"/>
<path d="M353.0,465.4 L353.0,463.8 L353.0,462.2 L353.0,460.6 L353.1,459.0 L353.1,457.4 L353.1,455.8 L353.0,454.1 L352.7,452.5 L352.2,451.0 L351.7,449.5 L351.1,448.0 L350.5,446.5 L349.9,445.0 L349.3,443.5 L348.8,442.0 L348.2,440.5 L347.6,439.0 L346.7,437.6 L345.8,436.3 L344.8,435.0 L343.8,433.8 L342.9,432.5 L341.9,431.2 L341.0,430.0 L340.0,428.7 L338.9,427.6 L337.6,426.6 L336.4,425.6 L335.1,424.7 L333.8,423.8 L332.6,422.9 L331.4,421.9 L330.2,420.9 L329.1,419.9 L327.9,418.9 L326.6,418.0 L325.3,417.2 L324.0,416.5 L322.6,415.7 L321.3,415.0 L319.9,414.3 L318.6,413.6 L317.2,413.0 L315.8,412.3 L314.4,411.7 L313.0,411.2 L311.5,410.9 L310.0,410.6 L308.5,410.5 L306.9,410.4 L305.4,410.3 L304.0,410.1 L302.5,409.9 L301.0,409.8 L299.5,409.7 L298.0,409.8 L296.6,410.0 L295.1,410.3 L293.6,410.6 L292.2,410.8 L290.8,410.7 L289.3,410.5 L287.9,410.3 L286.4,410.0 L284.9,409.9 L283.4,409.9 L281.9,410.0 L280.4,410.1 L278.9,410.1 L277.4,410.2 L275.9,410.3 L274.4,410.5 L272.9,410.9 L271.5,411.4 L270.1,412.0 L268.7,412.6 L267.3,413.1 L265.8,413.6 L264.3,414.1 L262.9,414.7 L261.6,415.5 L260.4,416.4 L259.2,417.4 L258.1,418.4 L256.8,419.3 L255.5,420.1 L254.2,420.9 L252.9,421.7 L251.7,422.7 L250.7,423.9 L249.7,425.0 L248.7,426.2 L247.6,427.3 L246.3,428.3 L245.0,429.2 L243.7,430.2 L242.5,431.2 L241.4,432.4 L240.3,433.6 L239.3,434.8 L238.1,436.0 L236.8,437.2 L235.3,438.3 L233.9,439.4 L232.5,440.7 L231.1,442.0 L229.9,443.3 L228.7,444.8 L227.6,446.3 L226.4,447.8 L225.2,449.3 L224.2,450.9 L223.3,452.6 L222.7,454.4 L222.3,456.2 L222.1,458.0 L221.8,459.9 L221.6,461.7 L221.6,463.6 L221.8,465.4 L222.2,467.2 L222.8,469.0 L223.7,470.8 L224.5,472.5 L225.3,474.2 L225.9,475.9 L226.5,477.6 L227.1,479.2 L227.8,480.9 L228.7,482.4 L229.5,484.0 L230.3,485.5 L231.0,487.1 L231.6,488.7 L232.1,490.3 L232.7,491.9 L233.3,493.5 L234.1,495.0 L234.9,496.5 L235.8,497.9 L236.7,499.4 L237.5,500.9 L238.3,502.4 L239.2,503.9 L240.2,505.3 L241.4,506.6 L242.6,507.7 L244.0,508.8 L245.2,510.0 L246.4,511.2 L247.5,512.5 L248.7,513.7 L249.9,514.9 L251.3,515.9 L252.9,516.7 L254.4,517.4 L255.9,518.2 L257.4,519.0 L258.7,520.0 L260.1,521.0 L261.5,521.9 L263.0,522.6 L264.7,523.1 L266.3,523.5 L268.0,523.8 L269.6,524.2 L271.2,524.6 L272.8,525.1 L274.4,525.5 L276.0,525.7 L277.7,525.7 L279.4,525.7 L281.1,525.5 L282.7,525.4 L284.3,525.3 L285.9,525.3 L287.5,525.2 L289.1,525.0 L290.6,524.8 L292.2,524.5 L293.7,524.3 L295.3,524.2 L296.8,524.1 L298.4,524.1 L299.9,523.9 L301.4,523.6 L302.9,523.1 L304.4,522.6 L305.8,522.1 L307.3,521.8 L308.9,521.8 L310.6,521.9 L312.3,522.1 L314.0,522.2 L315.7,522.0 L317.3,521.7 L318.8,521.2 L320.3,520.6 L321.8,519.9 L323.3,519.3 L324.7,518.5 L326.1,517.6 L327.4,516.6 L328.6,515.4 L329.6,514.1 L330.6,512.8 L331.6,511.5 L332.6,510.2 L333.6,509.0 L334.6,507.8 L335.7,506.6 L336.7,505.5 L337.7,504.3 L338.7,503.0 L339.6,501.8 L340.6,500.5 L341.4,499.2 L342.2,497.9 L343.0,496.5 L343.8,495.2 L344.5,493.8 L345.3,492.5 L346.1,491.1 L346.9,489.8 L347.6,488.4 L348.3,486.9 L348.9,485.5 L349.4,484.0 L349.9,482.5 L350.4,481.0 L350.9,479.5 L351.5,478.0 L352.0,476.5 L352.4,474.9 L352.7,473.4 L352.9,471.8 L353.0,470.2 L353.0,468.6 L353.0,467.0Z" fill="none" stroke="#ff2020" stroke-width="1.35" stroke-linejoin="round"/>
<path d="M353.4,465.4 L353.0,463.8 L352.8,462.2 L352.6,460.6 L352.4,459.1 L351.9,457.5 L351.2,456.1 L350.4,454.6 L349.8,453.2 L349.2,451.7 L348.8,450.2 L348.4,448.7 L348.0,447.3 L347.4,445.8 L346.8,444.4 L346.1,443.1 L345.4,441.7 L344.8,440.3 L344.3,438.8 L343.8,437.4 L343.2,436.0 L342.4,434.6 L341.6,433.3 L340.7,432.1 L339.8,430.8 L338.9,429.6 L337.9,428.4 L336.9,427.2 L335.9,426.1 L334.8,424.9 L333.7,423.9 L332.7,422.7 L331.7,421.6 L330.6,420.4 L329.6,419.2 L328.4,418.2 L327.2,417.3 L325.8,416.6 L324.3,415.9 L322.9,415.2 L321.6,414.5 L320.2,413.8 L318.9,413.0 L317.5,412.3 L316.1,411.6 L314.7,411.1 L313.2,410.6 L311.8,410.1 L310.3,409.6 L308.9,408.9 L307.5,408.4 L306.0,407.9 L304.5,407.6 L302.9,407.5 L301.4,407.5 L299.8,407.6 L298.3,407.6 L296.8,407.5 L295.2,407.4 L293.7,407.2 L292.2,407.1 L290.7,407.0 L289.1,407.0 L287.6,407.0 L286.1,406.9 L284.5,406.9 L283.0,407.1 L281.4,407.3 L280.0,407.8 L278.5,408.4 L277.1,409.1 L275.7,409.7 L274.3,410.2 L272.8,410.5 L271.3,410.9 L269.8,411.2 L268.3,411.8 L267.0,412.5 L265.7,413.3 L264.4,414.2 L263.1,415.0 L261.7,415.7 L260.3,416.3 L258.9,416.9 L257.5,417.6 L256.1,418.4 L254.9,419.3 L253.6,420.2 L252.4,421.2 L251.1,422.0 L249.7,422.9 L248.2,423.7 L246.7,424.5 L245.3,425.3 L243.9,426.3 L242.7,427.4 L241.5,428.6 L240.4,429.8 L239.3,431.1 L238.3,432.4 L237.2,433.6 L236.0,434.9 L234.8,436.2 L233.5,437.4 L232.3,438.7 L231.2,440.1 L230.2,441.6 L229.5,443.2 L228.8,444.8 L228.2,446.4 L227.5,448.1 L226.6,449.7 L225.7,451.3 L224.9,452.9 L224.2,454.6 L223.9,456.4 L223.9,458.2 L224.0,460.0 L224.1,461.8 L224.2,463.6 L224.1,465.4 L224.0,467.2 L223.9,469.0 L224.1,470.8 L224.6,472.5 L225.2,474.2 L225.9,475.9 L226.6,477.6 L227.1,479.2 L227.5,480.9 L227.8,482.7 L228.1,484.4 L228.5,486.1 L229.1,487.7 L229.8,489.3 L230.5,490.9 L231.2,492.6 L231.8,494.2 L232.4,495.9 L233.2,497.4 L234.1,498.9 L235.2,500.3 L236.3,501.7 L237.4,503.0 L238.5,504.4 L239.6,505.8 L240.7,507.1 L242.1,508.2 L243.6,509.1 L245.3,509.9 L247.0,510.6 L248.6,511.4 L250.0,512.2 L251.4,513.2 L252.6,514.3 L254.0,515.2 L255.4,516.0 L257.0,516.7 L258.6,517.2 L260.1,517.8 L261.5,518.5 L262.8,519.5 L264.1,520.5 L265.4,521.6 L266.8,522.5 L268.3,523.1 L269.9,523.6 L271.5,524.0 L273.0,524.3 L274.6,524.8 L276.2,525.3 L277.7,525.7 L279.3,526.1 L280.9,526.2 L282.6,526.1 L284.2,525.9 L285.9,525.6 L287.5,525.3 L289.1,525.0 L290.6,524.8 L292.2,524.5 L293.7,524.1 L295.3,523.8 L296.8,523.6 L298.3,523.3 L299.8,523.1 L301.3,522.8 L302.7,522.3 L304.2,521.7 L305.5,520.9 L306.9,520.2 L308.3,519.7 L309.7,519.4 L311.3,519.4 L312.9,519.4 L314.6,519.4 L316.2,519.2 L317.7,518.8 L319.1,518.2 L320.5,517.5 L321.8,516.8 L323.2,516.0 L324.5,515.2 L325.8,514.2 L326.9,513.1 L327.8,511.8 L328.7,510.5 L329.6,509.2 L330.7,508.1 L331.8,507.2 L333.1,506.3 L334.4,505.4 L335.6,504.5 L336.7,503.4 L337.7,502.2 L338.5,500.9 L339.4,499.7 L340.3,498.4 L341.3,497.3 L342.4,496.1 L343.5,495.0 L344.7,493.9 L346.0,492.8 L347.2,491.6 L348.3,490.4 L349.3,489.1 L350.2,487.7 L350.9,486.2 L351.4,484.6 L351.8,483.1 L352.2,481.5 L352.9,480.0 L353.7,478.5 L354.6,477.0 L355.4,475.4 L355.9,473.8 L355.9,472.1 L355.4,470.4 L354.7,468.7 L354.0,467.0Z" fill="none" stroke="#20c0c0" stroke-width="1.35" stroke-linejoin="round"/>
<path d="M346.8,465.4 L346.8,464.0 L346.9,462.5 L346.9,461.1 L346.7,459.7 L346.3,458.3 L345.9,456.9 L345.7,455.5 L345.6,454.1 L345.7,452.6 L345.9,451.0 L345.9,449.5 L345.7,448.0 L345.2,446.6 L344.5,445.3 L343.8,444.0 L343.3,442.6 L343.0,441.2 L342.8,439.6 L342.7,438.0 L342.6,436.3 L342.3,434.7 L341.8,433.2 L341.2,431.7 L340.5,430.3 L339.8,428.9 L339.1,427.4 L338.4,425.9 L337.7,424.5 L336.8,423.1 L335.8,421.8 L334.7,420.6 L333.6,419.4 L332.5,418.3 L331.3,417.1 L330.1,416.0 L328.8,415.0 L327.5,414.1 L326.0,413.3 L324.5,412.6 L323.0,412.0 L321.6,411.3 L320.1,410.6 L318.7,409.9 L317.2,409.2 L315.8,408.4 L314.3,407.8 L312.8,407.3 L311.2,406.9 L309.6,406.6 L308.0,406.4 L306.4,406.2 L304.8,406.1 L303.2,405.8 L301.7,405.6 L300.1,405.5 L298.5,405.4 L296.9,405.5 L295.3,405.8 L293.8,406.2 L292.2,406.6 L290.7,407.0 L289.2,407.4 L287.7,407.7 L286.2,407.9 L284.7,408.3 L283.3,409.0 L281.9,409.9 L280.6,410.8 L279.4,412.0 L278.2,413.1 L277.0,414.1 L275.8,414.9 L274.6,415.7 L273.4,416.5 L272.3,417.3 L271.3,418.5 L270.5,419.9 L269.7,421.3 L268.9,422.5 L268.0,423.5 L267.1,424.4 L266.2,425.4 L265.5,426.5 L264.7,427.5 L263.6,428.2 L262.4,428.6 L261.1,428.9 L259.4,429.0 L257.5,428.9 L255.4,428.6 L253.2,428.4 L251.1,428.4 L249.2,428.7 L247.5,429.2 L246.0,430.0 L244.3,430.6 L242.7,431.3 L241.1,432.2 L239.6,433.2 L238.2,434.2 L236.4,435.1 L235.0,436.3 L233.6,437.4 L232.3,438.7 L231.0,440.1 L230.0,441.5 L229.0,443.0 L228.1,444.6 L227.3,446.2 L226.6,447.8 L225.9,449.5 L225.1,451.1 L224.4,452.8 L223.7,454.6 L223.2,456.3 L222.8,458.1 L222.6,459.9 L222.5,461.7 L222.7,463.6 L222.9,465.4 L223.2,467.2 L223.6,469.0 L223.9,470.8 L224.3,472.5 L224.7,474.3 L225.2,476.0 L225.9,477.7 L226.6,479.3 L227.5,480.9 L228.5,482.5 L229.3,484.0 L230.1,485.6 L230.7,487.2 L231.1,488.8 L231.4,490.6 L231.6,492.4 L231.8,494.2 L232.2,496.0 L232.7,497.7 L233.5,499.3 L234.5,500.8 L235.6,502.1 L236.8,503.5 L237.9,504.8 L239.1,506.2 L240.2,507.5 L241.4,508.8 L242.6,510.0 L244.0,511.2 L245.3,512.3 L246.8,513.2 L248.4,514.1 L250.0,514.8 L251.7,515.5 L253.4,516.0 L255.1,516.5 L256.8,516.9 L258.5,517.3 L260.1,517.9 L261.6,518.4 L263.1,518.9 L264.7,519.4 L266.2,519.9 L267.7,520.4 L269.2,520.9 L270.7,521.4 L272.1,522.1 L273.6,522.7 L275.1,523.1 L276.7,523.4 L278.3,523.5 L279.9,523.4 L281.5,523.3 L283.0,523.3 L284.6,523.4 L286.1,523.8 L287.6,524.2 L289.1,524.6 L290.6,524.7 L292.2,524.7 L293.7,524.5 L295.3,524.3 L296.8,524.2 L298.4,524.2 L300.0,524.3 L301.5,524.3 L303.1,524.0 L304.6,523.6 L306.0,523.0 L307.5,522.3 L308.9,521.7 L310.3,521.2 L311.8,520.8 L313.3,520.4 L314.8,519.9 L316.2,519.3 L317.6,518.6 L318.9,517.7 L320.1,516.9 L321.4,516.0 L322.7,515.3 L324.1,514.5 L325.3,513.6 L326.5,512.6 L327.6,511.5 L328.6,510.4 L329.6,509.2 L330.6,508.0 L331.6,507.0 L332.7,505.9 L333.9,505.0 L335.1,504.0 L336.3,503.1 L337.6,502.2 L338.8,501.2 L340.1,500.2 L341.3,499.1 L342.4,498.0 L343.5,496.8 L344.4,495.6 L345.4,494.3 L346.3,492.9 L347.2,491.6 L348.2,490.3 L349.1,489.0 L349.9,487.5 L350.6,486.1 L351.2,484.6 L351.7,483.0 L352.2,481.5 L352.7,479.9 L352.9,478.3 L352.9,476.7 L352.5,475.0 L351.6,473.2 L350.4,471.5 L349.0,469.9 L347.9,468.3 L347.1,466.8Z" fill="none" stroke="#c030d0" stroke-width="1.35" stroke-linejoin="round"/>
<path d="M354.7,465.4 L354.5,463.8 L354.2,462.1 L353.8,460.6 L353.2,459.0 L352.7,457.4 L352.2,455.9 L351.7,454.4 L351.2,452.8 L350.9,451.3 L350.5,449.8 L350.2,448.2 L349.9,446.7 L349.5,445.1 L349.0,443.6 L348.4,442.1 L347.8,440.7 L347.0,439.3 L346.1,437.9 L345.2,436.6 L344.3,435.3 L343.4,434.0 L342.5,432.7 L341.5,431.5 L340.5,430.3 L339.4,429.2 L338.2,428.1 L337.1,427.1 L336.0,426.0 L335.0,424.8 L334.0,423.6 L333.1,422.3 L332.1,421.1 L331.0,420.0 L329.7,419.1 L328.3,418.3 L326.9,417.7 L325.4,417.1 L323.9,416.5 L322.5,415.9 L321.2,415.1 L319.9,414.3 L318.6,413.6 L317.2,413.1 L315.7,412.6 L314.2,412.3 L312.7,412.0 L311.2,411.7 L309.8,411.2 L308.4,410.6 L307.0,410.0 L305.6,409.5 L304.2,409.1 L302.7,408.9 L301.2,408.9 L299.6,408.9 L298.1,409.0 L296.7,408.8 L295.2,408.6 L293.7,408.3 L292.2,408.1 L290.7,408.3 L289.2,408.8 L287.8,409.9 L286.5,411.1 L285.2,412.3 L284.0,413.7 L282.9,415.1 L281.8,416.5 L280.8,417.9 L279.8,419.3 L278.9,420.6 L278.1,422.1 L277.4,423.7 L276.8,425.2 L276.1,426.5 L275.3,427.5 L274.5,428.4 L273.6,428.9 L272.6,429.3 L271.5,429.6 L270.3,429.7 L269.1,429.8 L267.8,429.9 L266.4,429.9 L264.9,429.8 L263.3,429.7 L261.6,429.6 L259.9,429.6 L258.3,429.7 L256.5,429.7 L254.8,429.9 L253.0,430.1 L251.2,430.4 L249.4,430.7 L247.6,431.2 L245.8,431.7 L243.9,432.2 L242.0,432.8 L240.2,433.5 L238.6,434.5 L236.9,435.4 L235.5,436.5 L234.3,437.8 L232.9,439.0 L231.6,440.3 L230.3,441.7 L229.2,443.1 L228.0,444.6 L227.1,446.1 L226.3,447.7 L225.6,449.4 L225.0,451.1 L224.5,452.9 L224.1,454.6 L223.7,456.4 L223.4,458.2 L223.1,460.0 L222.9,461.8 L222.7,463.6 L222.7,465.4 L222.7,467.2 L222.8,469.0 L222.9,470.9 L223.2,472.7 L223.6,474.4 L224.1,476.2 L224.8,477.9 L225.6,479.6 L226.3,481.2 L226.9,482.9 L227.3,484.6 L227.7,486.4 L228.0,488.1 L228.5,489.8 L229.2,491.5 L230.1,493.0 L231.2,494.5 L232.3,495.9 L233.4,497.3 L234.5,498.7 L235.5,500.1 L236.6,501.5 L237.7,502.9 L238.9,504.1 L240.2,505.3 L241.5,506.5 L242.8,507.6 L244.1,508.7 L245.4,509.8 L246.7,510.9 L248.1,511.8 L249.6,512.7 L251.1,513.5 L252.7,514.2 L254.2,514.9 L255.7,515.6 L257.2,516.4 L258.6,517.2 L259.9,518.1 L261.3,519.0 L262.6,519.8 L264.0,520.7 L265.4,521.5 L266.9,522.3 L268.3,523.0 L269.8,523.7 L271.3,524.3 L272.9,524.7 L274.6,524.9 L276.2,525.0 L277.9,524.9 L279.6,524.9 L281.2,524.8 L282.8,524.9 L284.4,524.9 L285.9,525.1 L287.5,525.1 L289.1,525.2 L290.6,525.1 L292.2,524.9 L293.8,524.7 L295.3,524.5 L296.8,524.3 L298.4,524.0 L299.9,523.6 L301.3,523.1 L302.8,522.5 L304.2,521.8 L305.6,521.1 L307.0,520.5 L308.4,520.1 L309.9,519.9 L311.4,519.7 L313.0,519.7 L314.6,519.5 L316.2,519.3 L317.7,518.8 L319.1,518.2 L320.5,517.6 L322.0,517.0 L323.4,516.3 L324.8,515.6 L326.2,514.8 L327.4,513.8 L328.4,512.6 L329.3,511.2 L330.1,509.8 L330.9,508.4 L331.8,507.2 L332.9,506.1 L334.0,505.1 L335.1,504.1 L336.2,503.0 L337.2,501.8 L338.0,500.6 L338.8,499.3 L339.7,498.1 L340.7,496.9 L341.9,495.8 L343.1,494.8 L344.3,493.7 L345.4,492.5 L346.2,491.2 L346.9,489.8 L347.5,488.3 L348.2,486.9 L349.0,485.5 L349.9,484.2 L350.9,482.8 L351.9,481.4 L352.7,479.9 L353.2,478.4 L353.6,476.8 L353.8,475.2 L353.9,473.5 L354.1,471.9 L354.3,470.3 L354.5,468.7 L354.6,467.0Z" fill="none" stroke="#c0c020" stroke-width="1.35" stroke-linejoin="round"/>
<path d="M353.5,465.4 L353.3,463.8 L353.0,462.2 L352.7,460.6 L352.4,459.1 L352.2,457.5 L351.9,455.9 L351.6,454.4 L351.2,452.9 L350.7,451.3 L350.2,449.9 L349.7,448.4 L349.2,446.9 L348.7,445.4 L348.3,443.9 L347.8,442.4 L347.2,440.9 L346.4,439.6 L345.4,438.3 L344.2,437.1 L343.0,436.0 L341.8,435.0 L340.6,434.0 L339.4,433.0 L338.2,432.0 L336.9,431.1 L335.3,430.5 L333.6,430.0 L331.9,429.6 L330.3,429.2 L328.8,428.8 L327.7,428.0 L326.5,427.3 L325.4,426.5 L324.2,425.9 L323.0,425.3 L321.8,424.7 L320.6,424.1 L319.4,423.4 L318.3,422.8 L317.1,422.3 L315.9,421.8 L314.6,421.4 L313.3,421.1 L312.0,420.8 L310.8,420.6 L309.5,420.3 L308.3,420.0 L307.0,419.8 L305.8,419.6 L304.5,419.5 L303.2,419.5 L301.9,419.7 L300.6,419.9 L299.4,420.1 L298.1,420.3 L296.9,420.4 L295.7,420.5 L294.6,420.6 L293.4,420.6 L292.2,420.7 L291.0,420.8 L289.9,420.9 L288.7,421.0 L287.5,421.1 L286.4,421.2 L285.2,421.4 L284.1,421.6 L282.9,421.9 L281.8,422.0 L280.6,422.1 L279.4,422.1 L278.1,421.9 L276.8,421.8 L275.4,421.7 L274.1,421.6 L272.7,421.6 L271.4,421.7 L270.0,421.7 L268.5,421.7 L266.9,421.6 L264.6,420.3 L262.0,419.0 L259.5,417.9 L257.4,417.5 L256.0,418.2 L254.8,419.2 L253.8,420.4 L252.7,421.6 L251.7,422.7 L250.4,423.6 L249.1,424.5 L247.8,425.4 L246.6,426.5 L245.5,427.6 L244.4,428.7 L243.3,429.9 L242.1,430.9 L240.7,432.0 L239.3,433.0 L237.9,434.0 L236.5,435.1 L235.1,436.3 L233.9,437.6 L232.7,438.9 L231.6,440.3 L230.5,441.7 L229.4,443.2 L228.4,444.7 L227.4,446.2 L226.4,447.8 L225.5,449.4 L224.6,451.0 L223.8,452.7 L223.2,454.5 L222.7,456.3 L222.5,458.1 L222.3,459.9 L222.3,461.7 L222.5,463.6 L222.6,465.4 L222.7,467.2 L222.8,469.0 L223.0,470.8 L223.3,472.6 L223.8,474.4 L224.5,476.1 L225.5,477.8 L226.7,479.3 L227.9,480.8 L228.9,482.4 L229.8,483.9 L230.4,485.5 L230.8,487.1 L231.2,488.8 L231.6,490.5 L232.1,492.2 L232.6,493.8 L233.3,495.4 L234.2,496.9 L235.2,498.3 L236.4,499.6 L237.6,500.9 L238.9,502.1 L240.1,503.3 L241.2,504.5 L242.2,505.9 L243.3,507.2 L244.4,508.5 L245.5,509.7 L246.9,510.7 L248.3,511.7 L249.8,512.5 L251.3,513.3 L252.8,514.1 L254.2,514.9 L255.6,515.8 L256.9,516.7 L258.3,517.6 L259.7,518.4 L261.2,519.1 L262.7,519.8 L264.1,520.5 L265.6,521.2 L267.0,521.9 L268.5,522.6 L270.0,523.3 L271.5,523.9 L273.1,524.3 L274.6,524.7 L276.3,524.9 L277.9,525.1 L279.5,525.2 L281.1,525.3 L282.7,525.2 L284.3,525.2 L285.9,525.1 L287.5,525.1 L289.1,525.1 L290.6,525.2 L292.2,525.2 L293.8,525.2 L295.3,525.1 L296.9,524.8 L298.4,524.6 L300.0,524.4 L301.5,524.1 L303.0,523.9 L304.6,523.7 L306.1,523.4 L307.6,522.9 L309.1,522.3 L310.5,521.7 L311.9,521.1 L313.4,520.5 L314.9,520.1 L316.4,519.8 L318.0,519.4 L319.5,518.9 L320.9,518.3 L322.2,517.4 L323.5,516.4 L324.7,515.4 L325.8,514.3 L327.0,513.3 L328.1,512.2 L329.3,511.2 L330.3,510.0 L331.3,508.8 L332.3,507.6 L333.3,506.5 L334.4,505.4 L335.5,504.4 L336.8,503.5 L338.1,502.5 L339.3,501.5 L340.5,500.5 L341.6,499.3 L342.6,498.2 L343.8,497.0 L345.0,495.9 L346.2,494.7 L347.5,493.6 L348.6,492.3 L349.6,491.0 L350.5,489.5 L351.2,488.0 L351.8,486.5 L352.3,484.9 L352.8,483.3 L353.2,481.7 L353.4,480.1 L353.6,478.4 L353.7,476.8 L353.7,475.1 L353.7,473.5 L353.7,471.9 L353.7,470.2 L353.7,468.6 L353.6,467.0Z" fill="none" stroke="#202020" stroke-width="1.35" stroke-linejoin="round"/>
<path d="M351.2,465.4 L351.2,463.9 L351.2,462.3 L351.1,460.8 L350.9,459.2 L350.5,457.7 L350.0,456.2 L349.5,454.8 L349.2,453.3 L348.9,451.8 L348.7,450.3 L348.5,448.7 L348.2,447.2 L347.9,445.7 L347.6,444.1 L347.3,442.6 L347.0,441.0 L346.6,439.4 L346.2,437.9 L345.6,436.4 L344.8,435.0 L343.9,433.7 L343.0,432.4 L342.0,431.2 L341.1,429.9 L340.2,428.6 L339.3,427.2 L338.4,425.9 L337.4,424.7 L336.3,423.5 L335.1,422.5 L333.7,421.7 L332.3,420.8 L330.9,420.0 L329.6,419.3 L328.2,418.5 L326.8,417.7 L325.5,417.0 L324.1,416.3 L322.7,415.7 L321.3,415.1 L319.9,414.4 L318.6,413.7 L317.2,413.0 L315.8,412.3 L314.4,411.7 L313.0,411.3 L311.4,411.1 L309.9,410.9 L308.4,410.6 L307.0,410.3 L305.5,409.9 L304.1,409.3 L302.7,408.8 L301.2,408.4 L299.7,408.2 L298.2,408.1 L296.7,408.1 L295.2,408.2 L293.7,408.2 L292.2,408.1 L290.7,407.9 L289.2,407.7 L287.7,407.6 L286.1,407.7 L284.6,407.8 L283.1,408.1 L281.6,408.4 L280.1,408.7 L278.6,408.9 L277.1,409.1 L275.6,409.4 L274.1,409.8 L272.7,410.4 L271.4,411.2 L270.1,412.0 L268.7,412.7 L267.4,413.4 L266.0,414.0 L264.6,414.5 L263.1,415.1 L261.7,415.7 L260.3,416.3 L258.9,416.9 L257.4,417.5 L256.0,418.2 L254.5,418.8 L253.1,419.6 L251.7,420.4 L250.4,421.3 L249.1,422.3 L248.0,423.4 L246.7,424.5 L245.5,425.5 L244.2,426.6 L243.0,427.6 L241.7,428.7 L240.5,429.9 L239.4,431.1 L238.3,432.4 L237.3,433.7 L236.2,435.0 L235.1,436.3 L234.0,437.6 L232.9,439.0 L231.9,440.4 L231.0,441.9 L230.2,443.4 L229.4,445.0 L228.5,446.5 L227.7,448.1 L226.9,449.7 L226.1,451.4 L225.4,453.0 L224.8,454.7 L224.3,456.5 L223.9,458.2 L223.5,460.0 L223.1,461.8 L222.9,463.6 L223.0,465.4 L223.2,467.2 L223.7,469.0 L224.3,470.7 L225.0,472.5 L225.7,474.2 L226.3,475.8 L227.0,477.5 L227.7,479.1 L228.4,480.7 L229.2,482.3 L230.0,483.8 L230.7,485.4 L231.3,487.0 L231.9,488.6 L232.3,490.2 L232.7,491.9 L233.1,493.6 L233.6,495.2 L234.2,496.9 L234.9,498.5 L235.8,500.0 L236.6,501.5 L237.5,503.0 L238.4,504.5 L239.4,505.9 L240.5,507.2 L241.8,508.5 L243.1,509.6 L244.6,510.5 L246.2,511.4 L247.7,512.3 L249.3,513.1 L250.7,514.0 L252.2,514.9 L253.6,515.7 L255.0,516.6 L256.5,517.3 L258.1,517.9 L259.7,518.5 L261.3,519.0 L262.8,519.6 L264.2,520.3 L265.6,521.2 L267.0,522.1 L268.3,523.0 L269.7,523.9 L271.3,524.5 L272.8,525.0 L274.4,525.4 L276.0,525.8 L277.6,526.4 L279.1,527.0 L280.7,527.6 L282.3,528.2 L283.9,528.6 L285.5,528.9 L287.2,529.0 L288.9,529.1 L290.5,529.3 L292.2,529.4 L293.9,529.6 L295.6,529.7 L297.2,529.5 L298.9,529.1 L300.5,528.6 L302.1,528.0 L303.7,527.6 L305.3,527.2 L307.0,527.0 L308.6,526.7 L310.2,526.3 L311.8,525.6 L313.2,524.7 L314.6,523.7 L315.9,522.7 L317.3,521.8 L318.8,521.2 L320.4,520.8 L322.0,520.3 L323.5,519.7 L324.9,518.8 L326.2,517.7 L327.3,516.5 L328.4,515.3 L329.6,514.2 L330.9,513.2 L332.3,512.3 L333.6,511.4 L334.8,510.3 L335.8,509.0 L336.8,507.7 L337.8,506.4 L338.9,505.3 L340.1,504.2 L341.5,503.2 L342.9,502.3 L344.2,501.1 L345.2,499.8 L345.9,498.3 L346.5,496.7 L346.9,495.1 L347.5,493.6 L348.1,492.1 L348.8,490.6 L349.5,489.1 L350.1,487.6 L350.6,486.1 L351.1,484.5 L351.5,483.0 L351.9,481.4 L352.3,479.8 L352.7,478.3 L352.9,476.6 L352.8,475.0 L352.6,473.3 L352.2,471.7 L351.7,470.1 L351.4,468.5 L351.2,466.9Z" fill="none" stroke="#2020ff" stroke-width="1.35" stroke-linejoin="round"/>
<path d="M351.3,465.4 L351.6,463.8 L352.0,462.3 L352.4,460.7 L352.6,459.0 L352.7,457.4 L352.7,455.8 L352.5,454.2 L352.4,452.6 L352.3,451.0 L352.3,449.3 L352.3,447.6 L352.2,445.9 L351.9,444.2 L351.5,442.7 L350.8,441.1 L349.9,439.7 L348.9,438.4 L347.8,437.1 L346.6,435.9 L345.3,434.7 L344.1,433.6 L342.9,432.5 L341.7,431.4 L340.5,430.3 L339.2,429.4 L337.8,428.4 L336.4,427.6 L335.0,426.9 L333.6,426.1 L332.3,425.3 L331.2,424.3 L330.3,423.1 L329.4,421.8 L328.6,420.5 L327.7,419.2 L326.6,418.0 L325.4,417.1 L324.1,416.2 L322.9,415.4 L321.6,414.5 L320.4,413.5 L319.2,412.4 L318.0,411.4 L316.7,410.4 L315.3,409.6 L313.9,408.9 L312.4,408.4 L310.8,408.0 L309.3,407.6 L307.8,407.2 L306.3,406.7 L304.7,406.4 L303.2,406.3 L301.5,406.4 L299.9,406.8 L298.3,407.2 L296.7,407.7 L295.2,408.2 L293.7,408.5 L292.2,408.6 L290.7,408.6 L289.2,408.4 L287.7,408.2 L286.2,408.1 L284.6,408.0 L283.1,408.0 L281.6,408.3 L280.1,408.6 L278.7,409.0 L277.2,409.3 L275.7,409.7 L274.2,410.1 L272.7,410.4 L271.3,410.9 L269.8,411.3 L268.4,411.9 L267.0,412.5 L265.6,413.2 L264.2,413.8 L262.8,414.4 L261.3,415.0 L259.9,415.7 L258.5,416.4 L257.2,417.2 L255.9,418.1 L254.7,419.0 L253.5,420.0 L252.3,421.0 L251.1,422.0 L249.9,423.1 L248.7,424.1 L247.6,425.2 L246.5,426.3 L245.4,427.5 L244.2,428.6 L243.0,429.7 L241.8,430.8 L240.6,431.9 L239.4,433.1 L238.3,434.3 L237.2,435.6 L236.3,436.9 L235.3,438.3 L234.4,439.7 L233.5,441.1 L232.5,442.5 L231.6,443.9 L230.7,445.4 L229.9,446.9 L229.0,448.5 L228.2,450.0 L227.4,451.6 L226.7,453.3 L226.1,454.9 L225.6,456.6 L225.3,458.4 L225.0,460.1 L224.8,461.9 L224.6,463.6 L224.4,465.4 L224.2,467.2 L224.1,469.0 L224.2,470.7 L224.6,472.5 L225.0,474.2 L225.6,476.0 L226.1,477.7 L226.6,479.3 L227.0,481.0 L227.4,482.8 L227.8,484.5 L228.2,486.2 L228.8,487.9 L229.5,489.5 L230.2,491.1 L230.8,492.7 L231.5,494.4 L232.1,496.0 L232.7,497.7 L233.6,499.3 L234.6,500.7 L235.8,502.0 L237.1,503.3 L238.4,504.5 L239.7,505.7 L241.0,506.9 L242.3,508.0 L243.5,509.2 L244.9,510.3 L246.3,511.3 L247.8,512.1 L249.4,512.9 L250.9,513.7 L252.4,514.5 L253.9,515.3 L255.3,516.2 L256.7,517.0 L258.1,517.9 L259.5,518.8 L260.9,519.6 L262.3,520.5 L263.7,521.3 L265.2,522.1 L266.6,522.8 L268.2,523.4 L269.7,523.9 L271.3,524.3 L273.0,524.6 L274.6,524.9 L276.2,525.1 L277.9,525.2 L279.5,525.2 L281.1,525.2 L282.7,525.2 L284.3,525.1 L285.9,525.0 L287.5,524.9 L289.1,524.9 L290.6,524.8 L292.2,524.8 L293.8,524.7 L295.3,524.6 L296.9,524.5 L298.4,524.3 L299.9,524.1 L301.4,523.7 L302.9,523.3 L304.4,522.8 L305.9,522.3 L307.3,521.8 L308.8,521.3 L310.2,520.9 L311.7,520.6 L313.2,520.1 L314.7,519.6 L316.1,519.0 L317.4,518.3 L318.8,517.6 L320.1,516.9 L321.5,516.2 L322.9,515.6 L324.3,514.9 L325.6,514.1 L326.8,513.1 L327.9,511.9 L328.9,510.7 L329.8,509.4 L330.7,508.2 L331.7,507.0 L332.8,506.0 L334.0,505.1 L335.3,504.2 L336.6,503.3 L338.0,502.5 L339.3,501.5 L340.6,500.6 L341.8,499.5 L343.0,498.4 L344.1,497.2 L345.1,496.0 L346.1,494.7 L347.0,493.3 L347.8,491.9 L348.5,490.5 L349.1,489.0 L349.5,487.4 L349.8,485.8 L350.0,484.2 L350.0,482.5 L350.1,480.9 L350.1,479.3 L350.3,477.8 L350.6,476.2 L350.8,474.7 L351.0,473.1 L351.1,471.6 L351.1,470.0 L351.1,468.5 L351.1,466.9Z" fill="none" stroke="#1a7a1a" stroke-width="1.35" stroke-linejoin="round"/>
<path d="M354.2,465.4 L353.8,463.8 L353.4,462.2 L352.8,460.6 L352.2,459.1 L351.6,457.6 L351.0,456.1 L350.4,454.6 L349.7,453.2 L349.1,451.7 L348.4,450.3 L347.7,449.0 L347.0,447.6 L346.2,446.3 L345.5,444.9 L344.8,443.6 L344.1,442.3 L343.5,440.9 L342.8,439.6 L342.2,438.3 L341.5,436.9 L340.9,435.5 L340.3,434.1 L339.7,432.7 L339.0,431.4 L338.2,430.1 L337.4,428.8 L336.5,427.6 L335.6,426.3 L334.7,425.1 L333.8,423.8 L332.9,422.5 L331.9,421.3 L330.8,420.2 L329.6,419.2 L328.4,418.3 L327.0,417.4 L325.7,416.6 L324.4,415.8 L323.2,414.9 L321.9,414.0 L320.5,413.2 L319.1,412.6 L317.6,412.2 L316.0,412.0 L314.4,411.8 L312.9,411.5 L311.4,411.2 L310.0,410.7 L308.6,410.2 L307.1,409.7 L305.7,409.2 L304.2,409.0 L302.7,408.9 L301.2,408.8 L299.7,408.8 L298.2,408.7 L296.7,408.4 L295.2,408.1 L293.7,407.9 L292.2,407.6 L290.7,407.3 L289.1,407.0 L287.6,406.6 L286.0,406.1 L284.3,405.6 L282.7,405.3 L281.0,405.2 L279.4,405.4 L277.9,405.9 L276.4,406.6 L275.0,407.3 L273.5,407.9 L272.0,408.4 L270.5,408.8 L269.0,409.3 L267.5,409.9 L266.1,410.8 L264.9,411.8 L263.7,412.9 L262.5,413.9 L261.1,414.7 L259.7,415.4 L258.3,416.1 L256.9,416.8 L255.6,417.7 L254.5,418.9 L253.5,420.1 L252.6,421.4 L251.5,422.5 L250.2,423.4 L248.7,424.1 L247.2,424.8 L245.6,425.6 L244.3,426.6 L243.1,427.7 L242.1,429.0 L241.1,430.3 L240.0,431.5 L238.7,432.6 L237.3,433.7 L235.8,434.8 L234.4,435.9 L233.2,437.2 L232.1,438.6 L231.0,440.1 L230.0,441.5 L229.0,443.0 L227.9,444.5 L226.9,446.0 L226.0,447.7 L225.3,449.3 L224.7,451.1 L224.3,452.8 L224.0,454.6 L223.7,456.4 L223.5,458.2 L223.2,460.0 L223.1,461.8 L223.1,463.6 L223.5,465.4 L223.9,467.2 L224.5,468.9 L225.1,470.7 L225.7,472.4 L226.3,474.1 L226.9,475.7 L227.7,477.4 L228.6,478.9 L229.5,480.5 L230.3,482.0 L230.9,483.5 L231.3,485.2 L231.5,486.9 L231.7,488.6 L231.9,490.4 L232.3,492.1 L232.8,493.7 L233.5,495.3 L234.3,496.8 L235.4,498.2 L236.5,499.6 L237.6,500.9 L238.7,502.2 L239.8,503.5 L240.9,504.8 L242.0,506.0 L243.2,507.2 L244.5,508.3 L245.9,509.3 L247.4,510.2 L248.9,511.1 L250.3,511.9 L251.7,512.8 L253.0,513.8 L254.3,514.7 L255.7,515.6 L257.1,516.4 L258.7,517.1 L260.2,517.6 L261.7,518.2 L263.2,518.8 L264.6,519.5 L266.0,520.4 L267.4,521.2 L268.8,521.9 L270.3,522.5 L271.9,522.8 L273.5,523.0 L275.1,523.2 L276.6,523.5 L278.1,523.9 L279.7,524.4 L281.2,524.9 L282.7,525.2 L284.3,525.3 L285.9,525.3 L287.5,525.3 L289.1,525.3 L290.6,525.4 L292.2,525.6 L293.8,525.6 L295.4,525.5 L296.9,525.2 L298.4,524.7 L299.9,524.2 L301.5,523.8 L303.0,523.7 L304.6,523.7 L306.2,523.8 L307.8,523.8 L309.4,523.6 L311.0,523.1 L312.4,522.6 L313.9,522.0 L315.4,521.5 L317.0,521.1 L318.6,520.8 L320.2,520.3 L321.7,519.7 L323.0,518.7 L324.1,517.5 L325.1,516.1 L326.1,514.8 L327.2,513.6 L328.3,512.5 L329.5,511.4 L330.6,510.3 L331.5,509.1 L332.4,507.8 L333.2,506.4 L334.0,505.1 L335.0,503.9 L336.0,502.8 L337.2,501.9 L338.5,501.0 L339.8,500.0 L341.0,498.9 L342.1,497.8 L343.1,496.6 L344.1,495.4 L345.1,494.1 L346.2,492.9 L347.2,491.6 L348.1,490.3 L349.0,488.9 L349.8,487.5 L350.6,486.1 L351.4,484.6 L352.2,483.2 L353.0,481.7 L353.6,480.2 L354.2,478.6 L354.5,477.0 L354.7,475.3 L354.8,473.6 L354.7,472.0 L354.7,470.3 L354.6,468.7 L354.4,467.0Z" fill="none" stroke="#ff1010" stroke-width="1.35" stroke-linejoin="round"/>
<path d="M353.3,465.4 L353.4,463.8 L353.5,462.2 L353.5,460.6 L353.4,459.0 L353.1,457.4 L352.8,455.8 L352.4,454.3 L352.0,452.7 L351.7,451.1 L351.5,449.5 L351.3,447.9 L351.0,446.3 L350.4,444.8 L349.6,443.4 L348.6,442.0 L347.4,440.8 L346.3,439.6 L345.2,438.4 L344.2,437.2 L343.3,435.9 L342.3,434.7 L341.3,433.5 L340.2,432.4 L339.0,431.4 L337.9,430.3 L336.9,429.2 L336.1,427.9 L335.3,426.6 L334.6,425.2 L333.8,423.8 L332.9,422.5 L331.8,421.4 L330.6,420.4 L329.5,419.4 L328.3,418.3 L327.2,417.2 L326.2,416.0 L325.0,414.9 L323.8,413.9 L322.4,413.0 L321.0,412.3 L319.5,411.8 L318.1,411.2 L316.6,410.5 L315.2,409.8 L313.8,409.1 L312.3,408.5 L310.8,408.1 L309.2,407.9 L307.6,407.8 L306.0,407.8 L304.4,407.8 L302.9,407.7 L301.3,407.6 L299.8,407.6 L298.3,407.6 L296.7,407.7 L295.2,407.9 L293.7,408.0 L292.2,407.9 L290.7,407.6 L289.1,407.2 L287.6,406.8 L286.0,406.5 L284.4,406.4 L282.9,406.6 L281.4,407.0 L279.9,407.5 L278.4,407.9 L276.9,408.2 L275.4,408.5 L273.8,408.9 L272.3,409.3 L270.9,410.0 L269.6,410.7 L268.2,411.5 L266.8,412.2 L265.4,412.9 L264.0,413.4 L262.5,413.9 L261.0,414.5 L259.7,415.3 L258.5,416.3 L257.3,417.4 L256.3,418.6 L255.1,419.6 L253.9,420.6 L252.7,421.5 L251.4,422.4 L250.0,423.2 L248.8,424.2 L247.5,425.2 L246.3,426.2 L245.0,427.2 L243.7,428.2 L242.4,429.2 L241.1,430.3 L239.9,431.5 L238.8,432.7 L237.8,434.0 L236.9,435.4 L235.8,436.7 L234.7,438.0 L233.6,439.3 L232.4,440.6 L231.2,442.0 L230.3,443.5 L229.5,445.0 L228.8,446.6 L228.2,448.2 L227.4,449.8 L226.4,451.4 L225.4,453.0 L224.5,454.7 L223.8,456.4 L223.3,458.2 L223.2,460.0 L223.3,461.8 L223.6,463.6 L224.0,465.4 L224.3,467.2 L224.7,468.9 L225.1,470.7 L225.7,472.4 L226.4,474.1 L227.3,475.7 L228.3,477.2 L229.3,478.8 L230.2,480.3 L231.1,481.8 L231.8,483.3 L232.4,484.8 L233.0,486.4 L233.6,487.9 L234.3,489.4 L234.9,490.9 L235.4,492.5 L236.0,494.1 L236.5,495.6 L237.2,497.2 L237.9,498.7 L238.7,500.1 L239.6,501.5 L240.6,502.9 L241.5,504.3 L242.4,505.7 L243.3,507.2 L244.3,508.6 L245.3,509.9 L246.5,511.1 L247.8,512.2 L249.2,513.1 L250.6,514.0 L252.1,514.9 L253.5,515.8 L255.0,516.6 L256.5,517.4 L258.0,518.1 L259.5,518.7 L261.1,519.2 L262.7,519.7 L264.3,520.1 L265.9,520.6 L267.4,521.1 L269.0,521.5 L270.5,522.0 L272.0,522.4 L273.5,522.8 L275.1,523.1 L276.7,523.4 L278.2,523.6 L279.8,523.9 L281.3,524.1 L282.9,524.4 L284.4,524.7 L285.9,525.0 L287.5,525.4 L289.0,525.7 L290.6,525.9 L292.2,526.1 L293.8,526.1 L295.4,526.0 L297.0,525.9 L298.6,525.9 L300.1,525.8 L301.7,525.6 L303.3,525.4 L304.9,525.0 L306.4,524.4 L307.8,523.8 L309.3,523.1 L310.7,522.4 L312.2,521.8 L313.7,521.3 L315.1,520.8 L316.6,520.2 L318.0,519.5 L319.4,518.7 L320.6,517.8 L321.9,516.8 L323.2,515.9 L324.4,515.0 L325.7,514.1 L326.9,513.2 L328.1,512.2 L329.2,511.1 L330.2,509.9 L331.2,508.7 L332.3,507.6 L333.4,506.6 L334.6,505.6 L335.9,504.8 L337.3,503.9 L338.7,503.0 L340.0,502.1 L341.3,501.1 L342.5,500.0 L343.7,498.8 L344.8,497.6 L345.8,496.4 L346.7,495.0 L347.5,493.6 L348.2,492.1 L348.7,490.6 L349.2,489.0 L349.7,487.5 L350.1,485.9 L350.5,484.3 L350.9,482.8 L351.2,481.2 L351.5,479.6 L351.7,478.1 L352.0,476.5 L352.2,474.9 L352.4,473.3 L352.6,471.7 L352.8,470.2 L352.9,468.6 L353.1,467.0Z" fill="none" stroke="#30d8d8" stroke-width="1.35" stroke-linejoin="round"/>
<path d="M353.5,465.4 L353.7,463.8 L353.8,462.2 L353.8,460.5 L353.8,458.9 L353.7,457.3 L353.5,455.7 L353.2,454.1 L352.9,452.5 L352.4,450.9 L351.9,449.4 L351.4,447.9 L350.8,446.4 L350.0,444.9 L349.2,443.5 L348.3,442.2 L347.4,440.8 L346.4,439.5 L345.5,438.3 L344.5,437.0 L343.5,435.8 L342.5,434.6 L341.4,433.4 L340.2,432.4 L339.1,431.3 L337.9,430.3 L336.8,429.3 L335.7,428.2 L334.7,427.1 L333.8,426.0 L332.8,424.8 L331.8,423.6 L330.8,422.5 L329.8,421.4 L328.8,420.2 L327.7,419.1 L326.7,417.9 L325.6,416.8 L324.6,415.6 L323.5,414.3 L322.3,413.2 L321.1,412.1 L319.8,411.2 L318.4,410.4 L317.0,409.7 L315.5,409.1 L314.0,408.5 L312.5,408.1 L311.0,407.7 L309.4,407.3 L307.8,407.0 L306.3,406.8 L304.7,406.7 L303.1,406.8 L301.5,406.9 L299.9,407.1 L298.3,407.3 L296.8,407.5 L295.2,407.6 L293.7,407.7 L292.2,407.7 L290.7,407.7 L289.2,407.7 L287.7,407.8 L286.2,408.1 L284.7,408.5 L283.2,408.9 L281.8,409.3 L280.3,409.6 L278.9,409.9 L277.4,410.2 L275.9,410.5 L274.5,410.9 L273.1,411.4 L271.7,412.0 L270.4,412.7 L269.0,413.3 L267.6,413.9 L266.3,414.5 L264.8,415.0 L263.4,415.5 L262.0,416.1 L260.6,416.7 L259.3,417.5 L258.0,418.3 L256.7,419.1 L255.3,419.9 L254.0,420.7 L252.6,421.5 L251.2,422.2 L249.8,423.0 L248.4,423.8 L246.9,424.6 L245.4,425.5 L244.0,426.3 L242.5,427.2 L241.0,428.2 L239.6,429.3 L238.3,430.4 L237.0,431.6 L235.7,432.8 L234.5,434.1 L233.3,435.4 L232.1,436.7 L231.0,438.1 L229.9,439.6 L229.0,441.1 L228.1,442.7 L227.3,444.3 L226.5,445.9 L225.8,447.6 L225.0,449.3 L224.3,451.0 L223.6,452.7 L223.2,454.5 L222.9,456.3 L222.8,458.1 L222.8,459.9 L222.9,461.8 L223.0,463.6 L223.2,465.4 L223.3,467.2 L223.5,469.0 L223.9,470.8 L224.5,472.5 L225.2,474.2 L226.0,475.9 L227.0,477.5 L227.9,479.1 L228.7,480.6 L229.3,482.2 L229.7,483.9 L230.0,485.6 L230.2,487.3 L230.6,489.0 L231.1,490.7 L231.8,492.3 L232.5,493.9 L233.2,495.5 L233.8,497.1 L234.5,498.7 L235.2,500.4 L235.9,501.9 L236.8,503.5 L237.9,504.9 L239.1,506.2 L240.4,507.4 L241.8,508.5 L243.2,509.6 L244.6,510.6 L245.9,511.7 L247.3,512.7 L248.7,513.7 L250.1,514.7 L251.6,515.6 L253.1,516.4 L254.6,517.2 L256.2,517.8 L257.7,518.5 L259.3,519.1 L260.8,519.8 L262.3,520.4 L263.8,521.1 L265.3,521.8 L266.8,522.4 L268.4,522.9 L270.0,523.2 L271.6,523.4 L273.3,523.5 L275.0,523.5 L276.6,523.5 L278.2,523.6 L279.8,523.7 L281.4,523.9 L282.9,524.0 L284.5,524.1 L286.0,524.1 L287.6,524.1 L289.1,524.0 L290.7,523.9 L292.2,523.8 L293.7,523.7 L295.2,523.6 L296.8,523.3 L298.3,523.0 L299.7,522.6 L301.2,522.2 L302.7,521.8 L304.1,521.6 L305.6,521.4 L307.2,521.3 L308.7,521.1 L310.2,520.9 L311.7,520.5 L313.2,520.1 L314.7,519.7 L316.2,519.2 L317.7,518.8 L319.2,518.3 L320.6,517.8 L322.1,517.1 L323.4,516.3 L324.6,515.3 L325.7,514.2 L326.8,513.1 L327.9,511.9 L328.9,510.7 L329.9,509.6 L330.9,508.4 L331.9,507.2 L332.8,506.0 L333.7,504.8 L334.7,503.6 L335.7,502.5 L336.8,501.5 L338.0,500.5 L339.1,499.5 L340.2,498.4 L341.2,497.2 L342.1,495.9 L342.8,494.6 L343.5,493.3 L344.3,491.9 L345.1,490.6 L346.0,489.3 L346.9,488.1 L347.8,486.7 L348.6,485.4 L349.3,484.0 L349.9,482.5 L350.4,481.0 L350.9,479.5 L351.3,478.0 L351.7,476.4 L352.1,474.9 L352.5,473.3 L352.8,471.8 L353.1,470.2 L353.3,468.6 L353.4,467.0Z" fill="none" stroke="#d020d0" stroke-width="1.35" stroke-linejoin="round"/>
<ellipse cx="292.2" cy="465.4" rx="77.0" ry="77.9" fill="none" stroke="#1a1a1a" stroke-width="1.0"/>
<path d="M365.7,465.4H369.2M218.7,465.4H215.2M292.2,391.0V387.5M292.2,539.8V543.3" stroke="#111" stroke-width="1.6"/>
<circle cx="278.59" cy="451.79" r="0.9" fill="#222"/>
<circle cx="264.98" cy="438.18" r="0.9" fill="#222"/>
<circle cx="251.36" cy="424.56" r="0.9" fill="#222"/>
<circle cx="237.75" cy="410.95" r="0.9" fill="#222"/>
<text x="188.6" y="371.5" font-family='"Liberation Sans", Arial, sans-serif' font-size="10.3" textLength="204.8" lengthAdjust="spacingAndGlyphs" fill="#000" stroke="#000" stroke-width="0.25">YZ Plane (+Z = 0°, +Y = +90°) / Azimuth = 90 °</text>
<text x="284.7" y="383.6" font-family='"Liberation Sans", Arial, sans-serif' font-size="10.2" textLength="14.52" lengthAdjust="spacingAndGlyphs" fill="#000" stroke="#000" stroke-width="0.25">90°</text>
<text x="283.1" y="552.5" font-family='"Liberation Sans", Arial, sans-serif' font-size="10.2" textLength="17.71" lengthAdjust="spacingAndGlyphs" fill="#000" stroke="#000" stroke-width="0.25">-90°</text>
<text x="371.0" y="468.6" font-family='"Liberation Sans", Arial, sans-serif' font-size="10.2" textLength="9.18" lengthAdjust="spacingAndGlyphs" fill="#000" stroke="#000" stroke-width="0.25">0°</text>
<text x="196.0" y="467.8" font-family='"Liberation Sans", Arial, sans-serif' font-size="10.2" textLength="25.12" lengthAdjust="spacingAndGlyphs" fill="#000" stroke="#000" stroke-width="0.25">±180°</text>
<text x="224.7" y="409.6" font-family='"Liberation Sans", Arial, sans-serif' font-size="10.2" textLength="19.75" lengthAdjust="spacingAndGlyphs" fill="#000" stroke="#000" stroke-width="0.25">5 dB</text>
<text x="237.9" y="423.3" font-family='"Liberation Sans", Arial, sans-serif' font-size="10.2" textLength="22.94" lengthAdjust="spacingAndGlyphs" fill="#000" stroke="#000" stroke-width="0.25">-5 dB</text>
<text x="249.3" y="436.7" font-family='"Liberation Sans", Arial, sans-serif' font-size="10.2" textLength="28.28" lengthAdjust="spacingAndGlyphs" fill="#000" stroke="#000" stroke-width="0.25">-15 dB</text>
<text x="262.4" y="450.8" font-family='"Liberation Sans", Arial, sans-serif' font-size="10.2" textLength="28.28" lengthAdjust="spacingAndGlyphs" fill="#000" stroke="#000" stroke-width="0.25">-25 dB</text>
</svg></body></html>
